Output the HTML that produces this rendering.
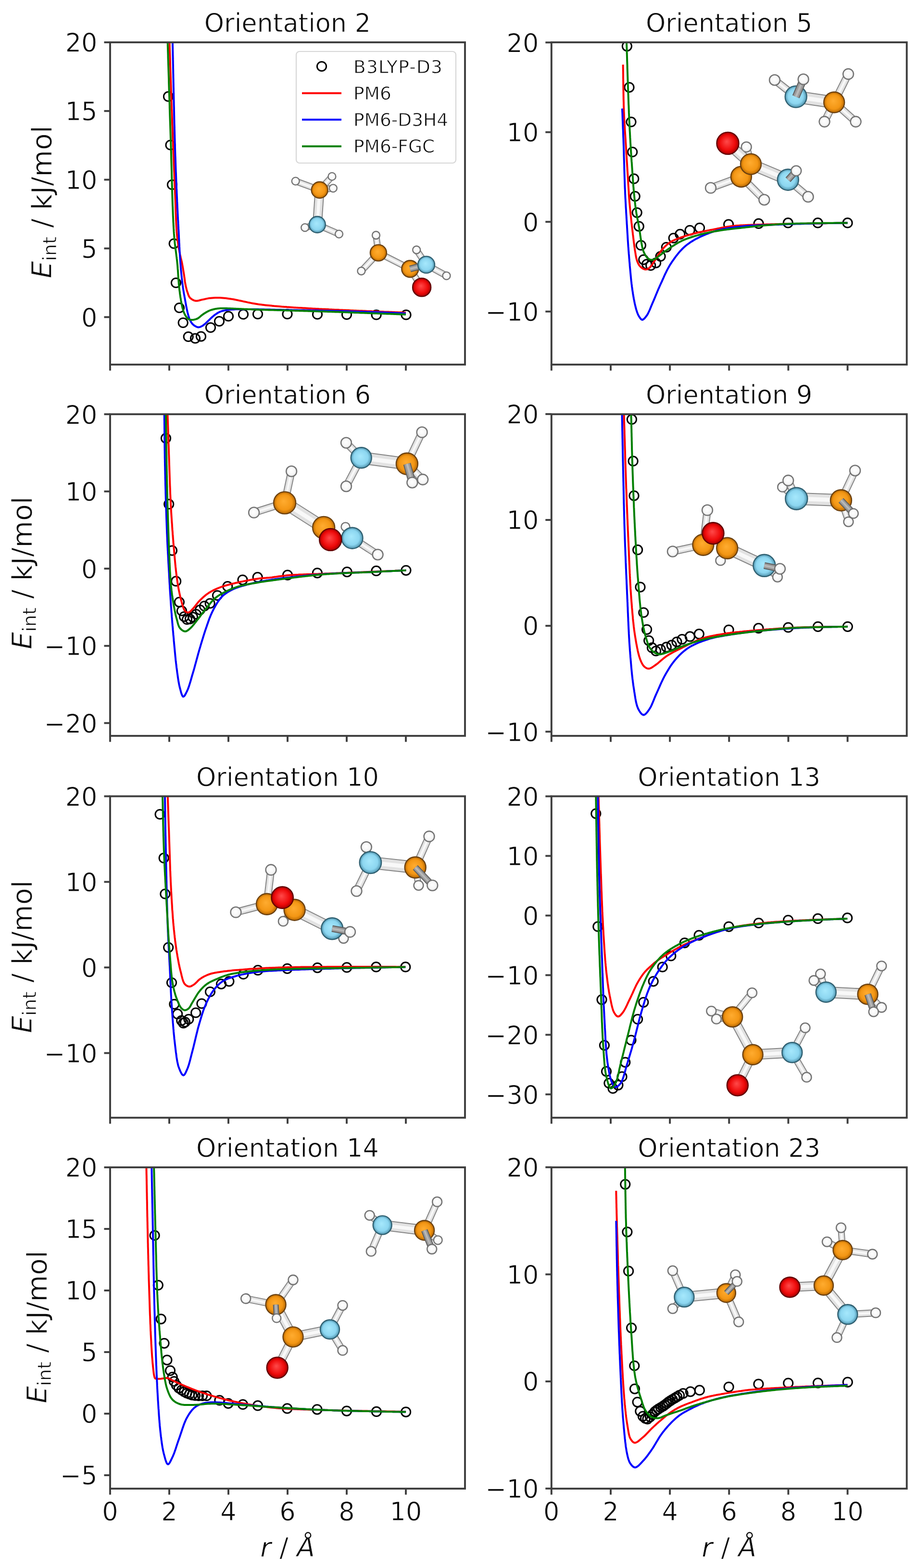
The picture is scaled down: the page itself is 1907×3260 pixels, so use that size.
<!DOCTYPE html>
<html><head><meta charset="utf-8"><style>
html,body{margin:0;padding:0;background:#fff;}
svg{display:block;}
.tx{font-family:"DejaVu Sans","Liberation Sans",sans-serif;font-size:52.5px;fill:#0a0a0a;stroke:#fff;stroke-width:0.9px;paint-order:fill;}
</style></head><body>
<svg width="1907" height="3260" viewBox="0 0 1907 3260">
<defs><radialGradient id="gC" cx="0.5" cy="0.5" r="0.5" fx="0.45" fy="0.42"><stop offset="0" stop-color="#ffac30"/><stop offset="0.7" stop-color="#f39614"/><stop offset="1" stop-color="#b86800"/></radialGradient><radialGradient id="gN" cx="0.5" cy="0.5" r="0.5" fx="0.45" fy="0.42"><stop offset="0" stop-color="#a6e8fc"/><stop offset="0.7" stop-color="#8cd6f0"/><stop offset="1" stop-color="#4f93ad"/></radialGradient><radialGradient id="gO" cx="0.5" cy="0.5" r="0.5" fx="0.45" fy="0.42"><stop offset="0" stop-color="#ff4a4a"/><stop offset="0.7" stop-color="#ee0a0a"/><stop offset="1" stop-color="#a80000"/></radialGradient><radialGradient id="gH" cx="0.5" cy="0.5" r="0.5" fx="0.45" fy="0.42"><stop offset="0" stop-color="#ffffff"/><stop offset="0.7" stop-color="#f6f6f6"/><stop offset="1" stop-color="#d4d4d4"/></radialGradient></defs><rect width="1907" height="3260" fill="#fff"/>
<clipPath id="cp0"><rect x="229" y="88" width="738" height="670"/></clipPath>
<g clip-path="url(#cp0)"><line x1="664.7" y1="395" x2="692.8" y2="391.3" stroke="#858585" stroke-width="14"/><line x1="664.7" y1="395" x2="692.8" y2="391.3" stroke="#e2e2e2" stroke-width="10"/><line x1="664.7" y1="395" x2="692.8" y2="391.3" stroke="#f8f8f8" stroke-width="4"/><circle cx="692.8" cy="391.3" r="8" fill="url(#gH)" stroke="#707070" stroke-width="2.3"/><line x1="664.7" y1="395" x2="690.4" y2="366.9" stroke="#858585" stroke-width="14"/><line x1="664.7" y1="395" x2="690.4" y2="366.9" stroke="#e2e2e2" stroke-width="10"/><line x1="664.7" y1="395" x2="690.4" y2="366.9" stroke="#f8f8f8" stroke-width="4"/><circle cx="690.4" cy="366.9" r="8" fill="url(#gH)" stroke="#707070" stroke-width="2.3"/><line x1="664.7" y1="395" x2="614.7" y2="376.6" stroke="#858585" stroke-width="14"/><line x1="664.7" y1="395" x2="614.7" y2="376.6" stroke="#e2e2e2" stroke-width="10"/><line x1="664.7" y1="395" x2="614.7" y2="376.6" stroke="#f8f8f8" stroke-width="4"/><circle cx="614.7" cy="376.6" r="8" fill="url(#gH)" stroke="#707070" stroke-width="2.3"/><line x1="664.7" y1="395" x2="659.8" y2="467" stroke="#858585" stroke-width="20"/><line x1="664.7" y1="395" x2="659.8" y2="467" stroke="#e2e2e2" stroke-width="16"/><line x1="664.7" y1="395" x2="659.8" y2="467" stroke="#f8f8f8" stroke-width="6.4"/><line x1="659.8" y1="467" x2="634.2" y2="473.1" stroke="#858585" stroke-width="14"/><line x1="659.8" y1="467" x2="634.2" y2="473.1" stroke="#e2e2e2" stroke-width="10"/><line x1="659.8" y1="467" x2="634.2" y2="473.1" stroke="#f8f8f8" stroke-width="4"/><circle cx="634.2" cy="473.1" r="8" fill="url(#gH)" stroke="#707070" stroke-width="2.3"/><circle cx="664.7" cy="395" r="17" fill="url(#gC)" stroke="#6a4010" stroke-width="2.4"/><line x1="659.8" y1="467" x2="705" y2="486.6" stroke="#858585" stroke-width="14"/><line x1="659.8" y1="467" x2="705" y2="486.6" stroke="#e2e2e2" stroke-width="10"/><line x1="659.8" y1="467" x2="705" y2="486.6" stroke="#f8f8f8" stroke-width="4"/><circle cx="705" cy="486.6" r="8" fill="url(#gH)" stroke="#707070" stroke-width="2.3"/><circle cx="659.8" cy="467" r="17" fill="url(#gN)" stroke="#2f5f70" stroke-width="2.4"/><line x1="786.9" y1="525.6" x2="782" y2="489" stroke="#858585" stroke-width="14"/><line x1="786.9" y1="525.6" x2="782" y2="489" stroke="#e2e2e2" stroke-width="10"/><line x1="786.9" y1="525.6" x2="782" y2="489" stroke="#f8f8f8" stroke-width="4"/><circle cx="782" cy="489" r="8" fill="url(#gH)" stroke="#707070" stroke-width="2.3"/><line x1="786.9" y1="525.6" x2="751.4" y2="563.5" stroke="#858585" stroke-width="14"/><line x1="786.9" y1="525.6" x2="751.4" y2="563.5" stroke="#e2e2e2" stroke-width="10"/><line x1="786.9" y1="525.6" x2="751.4" y2="563.5" stroke="#f8f8f8" stroke-width="4"/><circle cx="751.4" cy="563.5" r="8" fill="url(#gH)" stroke="#707070" stroke-width="2.3"/><line x1="786.9" y1="525.6" x2="852.8" y2="559" stroke="#858585" stroke-width="14"/><line x1="786.9" y1="525.6" x2="852.8" y2="559" stroke="#e2e2e2" stroke-width="10"/><line x1="786.9" y1="525.6" x2="852.8" y2="559" stroke="#f8f8f8" stroke-width="4"/><circle cx="786.9" cy="525.6" r="17" fill="url(#gC)" stroke="#6a4010" stroke-width="2.4"/><line x1="886.5" y1="550.4" x2="866.2" y2="519.5" stroke="#858585" stroke-width="14"/><line x1="886.5" y1="550.4" x2="866.2" y2="519.5" stroke="#e2e2e2" stroke-width="10"/><line x1="886.5" y1="550.4" x2="866.2" y2="519.5" stroke="#f8f8f8" stroke-width="4"/><circle cx="866.2" cy="519.5" r="8" fill="url(#gH)" stroke="#707070" stroke-width="2.3"/><line x1="886.5" y1="550.4" x2="928.5" y2="573.3" stroke="#858585" stroke-width="14"/><line x1="886.5" y1="550.4" x2="928.5" y2="573.3" stroke="#e2e2e2" stroke-width="10"/><line x1="886.5" y1="550.4" x2="928.5" y2="573.3" stroke="#f8f8f8" stroke-width="4"/><circle cx="928.5" cy="573.3" r="8" fill="url(#gH)" stroke="#707070" stroke-width="2.3"/><line x1="852.8" y1="559" x2="877.1" y2="597.4" stroke="#858585" stroke-width="14"/><line x1="852.8" y1="559" x2="877.1" y2="597.4" stroke="#e2e2e2" stroke-width="10"/><line x1="852.8" y1="559" x2="877.1" y2="597.4" stroke="#f8f8f8" stroke-width="4"/><circle cx="852.8" cy="559" r="17.5" fill="url(#gC)" stroke="#6a4010" stroke-width="2.4"/><line x1="852.8" y1="559" x2="886.5" y2="550.4" stroke="#5e5e5e" stroke-width="14"/><line x1="852.8" y1="559" x2="886.5" y2="550.4" stroke="#9a9a9a" stroke-width="10"/><line x1="852.8" y1="559" x2="886.5" y2="550.4" stroke="#b8b8b8" stroke-width="4"/><circle cx="886.5" cy="550.4" r="17.5" fill="url(#gN)" stroke="#2f5f70" stroke-width="2.4"/><circle cx="877.1" cy="597.4" r="19" fill="url(#gO)" stroke="#600000" stroke-width="2.4"/><g fill="none" stroke="#000" stroke-width="3.0"><circle cx="350" cy="200.7" r="9.6"/><circle cx="354.5" cy="301.5" r="9.6"/><circle cx="358" cy="384" r="9.6"/><circle cx="361.7" cy="506.5" r="9.6"/><circle cx="366" cy="588" r="9.6"/><circle cx="373" cy="640" r="9.6"/><circle cx="380.7" cy="671" r="9.6"/><circle cx="391.7" cy="700" r="9.6"/><circle cx="406" cy="703.5" r="9.6"/><circle cx="418" cy="699.5" r="9.6"/><circle cx="438" cy="681" r="9.6"/><circle cx="456" cy="668" r="9.6"/><circle cx="475" cy="657.5" r="9.6"/><circle cx="506" cy="653.5" r="9.6"/><circle cx="536" cy="653" r="9.6"/><circle cx="597.5" cy="653" r="9.6"/><circle cx="660" cy="653.5" r="9.6"/><circle cx="721" cy="654" r="9.6"/><circle cx="782.6" cy="654.5" r="9.6"/><circle cx="844.5" cy="654.5" r="9.6"/></g><path d="M352.5,88 352.6,91 352.7,94 352.8,97 352.9,100 353,103 353.1,106 353.2,109 353.3,112.1 353.4,115.1 353.5,118.1 353.6,121.1 353.7,124.1 353.8,127.1 353.9,130.2 354,133.2 354.1,136.2 354.2,139.2 354.3,142.2 354.4,145.3 354.5,148.3 354.6,151.3 354.7,154.3 354.8,157.3 354.9,160.3 355,163.4 355.1,166.4 355.2,169.4 355.3,172.4 355.4,175.4 355.5,178.4 355.6,181.4 355.7,184.4 355.8,187.5 355.9,190.5 356,193.5 356.1,196.5 356.2,199.5 356.3,202.5 356.4,205.5 356.5,208.4 356.6,211.4 356.7,214.4 356.8,217.4 356.9,220.4 357,223.4 357.1,226.3 357.3,229.3 357.4,232.3 357.5,235.2 357.6,238.2 357.7,241.2 357.8,244.1 357.9,247.1 358,250 358.1,253.1 358.2,256.1 358.3,259.2 358.5,262.3 358.6,265.4 358.7,268.5 358.8,271.6 358.9,274.8 359.1,277.9 359.2,281 359.3,284.2 359.4,287.3 359.5,290.4 359.7,293.6 359.8,296.7 359.9,299.8 360,303 360.2,306.1 360.3,309.2 360.4,312.4 360.5,315.5 360.6,318.6 360.8,321.7 360.9,324.8 361,327.9 361.1,331 361.3,334.1 361.4,337.1 361.5,340.2 361.6,343.2 361.8,346.2 361.9,349.2 362,352.2 362.1,355.2 362.3,358.2 362.4,361.1 362.5,364 362.6,366.9 362.7,369.8 362.9,372.7 363,375.5 363.1,378.4 363.2,381.2 363.3,383.9 363.4,386.7 363.6,389.4 363.7,392.1 363.8,394.8 363.9,397.4 364,400 364.1,403.4 364.3,406.8 364.4,410.2 364.5,413.5 364.7,416.9 364.8,420.2 364.9,423.6 365,426.8 365.1,430.1 365.2,433.4 365.3,436.6 365.4,439.8 365.5,442.9 365.7,446 365.8,449.1 365.9,452.1 366,455.1 366.1,458.1 366.3,461 366.4,463.9 366.5,466.7 366.7,469.4 366.8,472.1 367,474.7 367.1,477.3 367.3,479.8 367.5,482.3 367.7,484.7 367.9,487 368.2,490.6 368.6,494 369,497.2 369.4,500.3 369.8,503.2 370.2,506.1 370.6,508.9 371,511.6 371.5,514.4 372,517.2 372.5,520 373.1,523.3 373.8,526.6 374.5,529.8 375.3,533 376,536.2 376.8,539.4 377.5,542.5 378.2,545.5 378.8,548.5 379.4,551.7 380,554.8 380.5,557.9 381,560.9 381.5,563.9 382,566.9 382.5,570 383,573.2 383.4,576.4 383.9,579.6 384.3,582.8 384.7,586 385.2,589 385.8,592 386.5,595.4 387.3,598.8 388.1,602 389,605.1 390,608 391,611 392,613.9 393.3,616.6 395,619 397.4,621.2 400.3,623.1 403.5,624.6 406.7,625.5 410.1,625.5 413.7,624.8 417.4,623.8 421,622.9 424.5,622.2 428,621.4 431.5,620.6 435.2,620 438.2,619.7 441.2,619.4 444.4,619.2 447.6,619 450.9,619 454.3,619 457.3,619.1 460.2,619.3 463.3,619.5 466.3,619.8 469.5,620.1 472.8,620.5 476.3,621 480,621.5 482.5,621.9 485.1,622.3 487.8,622.8 490.7,623.4 493.6,624 496.5,624.6 499.6,625.2 502.7,625.9 505.8,626.6 508.9,627.3 512.1,627.9 515.2,628.6 518.4,629.2 521.5,629.9 524.6,630.5 527.6,631 530.6,631.5 533.5,632 536.7,632.5 539.8,632.9 542.9,633.3 546,633.7 549,634.1 552,634.4 555,634.7 558.1,635 561.1,635.3 564.2,635.6 567.2,635.9 570.4,636.2 573.5,636.4 576.7,636.7 580,637 582.8,637.2 585.7,637.5 588.6,637.7 591.5,637.9 594.5,638.1 597.4,638.4 600.4,638.6 603.4,638.8 606.5,639 609.5,639.2 612.6,639.4 615.6,639.6 618.7,639.7 621.8,639.9 624.8,640.1 627.9,640.3 630.9,640.5 634,640.6 637,640.8 640,641 643,641.2 646,641.3 648.9,641.5 651.9,641.7 654.8,641.8 657.7,642 660.7,642.1 663.6,642.3 666.5,642.4 669.5,642.6 672.4,642.7 675.4,642.8 678.4,643 681.4,643.1 684.4,643.3 687.4,643.4 690.5,643.6 693.7,643.7 696.8,643.9 700,644 702.9,644.1 705.8,644.3 708.8,644.4 711.8,644.5 714.8,644.7 717.9,644.8 720.9,645 724.1,645.1 727.2,645.2 730.3,645.4 733.5,645.5 736.7,645.7 739.8,645.8 743,645.9 746.2,646.1 749.4,646.2 752.5,646.3 755.7,646.5 758.8,646.6 761.9,646.7 765,646.9 768.1,647 771.1,647.1 774.1,647.3 777.1,647.4 780,647.5 783.2,647.6 786.4,647.8 789.5,647.9 792.6,648 795.7,648.1 798.8,648.3 801.9,648.4 804.9,648.5 807.9,648.6 810.9,648.7 813.9,648.8 816.9,649 819.9,649.1 822.9,649.2 825.9,649.3 828.9,649.4 831.9,649.5 834.9,649.6 837.9,649.8 841,649.9 844,650" fill="none" stroke="#ff0000" stroke-width="4.0" stroke-linejoin="round"/><path d="M358.9,88 359,91 359,94.1 359.1,97.1 359.2,100.2 359.2,103.2 359.3,106.3 359.4,109.4 359.4,112.5 359.5,115.6 359.6,118.7 359.6,121.9 359.7,125 359.8,128.1 359.8,131.3 359.9,134.4 360,137.6 360,140.7 360.1,143.9 360.2,147 360.2,150.2 360.3,153.4 360.4,156.5 360.4,159.7 360.5,162.9 360.6,166 360.6,169.2 360.7,172.4 360.8,175.5 360.8,178.7 360.9,181.8 361,185 361,188.1 361.1,191.2 361.2,194.4 361.2,197.5 361.3,200.6 361.4,203.7 361.4,206.8 361.5,209.9 361.6,213 361.6,216 361.7,219.1 361.8,222.1 361.9,225.2 361.9,228.2 362,231.2 362.1,234.2 362.1,237.2 362.2,240.1 362.3,243.1 362.3,246 362.4,248.9 362.5,251.8 362.5,254.6 362.6,257.5 362.7,260.3 362.8,263.1 362.8,265.9 362.9,268.7 363,271.4 363.1,274.2 363.1,276.9 363.2,279.5 363.3,282.2 363.3,284.8 363.4,287.4 363.5,290 363.6,293.5 363.7,297 363.8,300.4 363.9,303.8 364,307.1 364.1,310.4 364.2,313.7 364.3,316.9 364.4,320.1 364.5,323.3 364.7,326.5 364.8,329.6 364.9,332.7 365,335.8 365.1,338.8 365.2,341.9 365.3,344.9 365.4,347.9 365.5,350.9 365.6,353.8 365.7,356.8 365.9,359.7 366,362.6 366.1,365.5 366.2,368.4 366.3,371.3 366.4,374.2 366.5,377.1 366.7,379.9 366.8,382.8 366.9,385.7 367,388.5 367.1,391.4 367.3,394.3 367.4,397.1 367.5,400 367.6,403.2 367.8,406.3 367.9,409.5 368.1,412.6 368.2,415.8 368.3,418.9 368.5,422 368.6,425.2 368.8,428.3 368.9,431.3 369.1,434.4 369.2,437.5 369.4,440.5 369.5,443.6 369.7,446.6 369.8,449.6 370,452.6 370.1,455.6 370.3,458.5 370.5,461.5 370.6,464.4 370.8,467.3 370.9,470.2 371.1,473 371.2,475.9 371.4,478.7 371.5,481.5 371.7,484.2 371.8,487 372,490.3 372.1,493.6 372.3,496.9 372.5,500.2 372.6,503.4 372.8,506.6 373,509.7 373.1,512.9 373.3,516 373.4,519.1 373.6,522.1 373.8,525.2 373.9,528.2 374.1,531.2 374.3,534.1 374.5,537.1 374.7,540 374.9,542.8 375.1,545.7 375.3,548.5 375.6,551.9 375.8,555.2 376.1,558.5 376.4,561.7 376.7,564.9 377,568.1 377.3,571.2 377.6,574.3 377.9,577.3 378.3,580.3 378.6,583.3 379,586.2 379.3,589.1 379.7,592 380.2,595.3 380.6,598.5 381.1,601.7 381.6,604.8 382.1,607.9 382.6,610.9 383.2,613.9 383.7,616.9 384.3,619.9 384.8,622.9 385.4,626.2 386,629.5 386.6,632.9 387.2,636.2 387.9,639.5 388.5,642.7 389.2,645.8 389.8,648.7 390.5,651.4 391.4,654.7 392.2,657.7 393.1,660.5 394.1,663.2 395.2,665.7 397.1,669.2 399.3,672.5 401.9,675.2 405.1,677.6 408.7,679.6 412.4,680.5 416,679.9 419.6,678.2 422.9,676.2 425.5,674.2 427.9,672 430.5,669.5 432.6,667.5 434.9,665.3 437.3,662.9 439.8,660.5 442.3,658.2 444.8,656.2 447.5,654.2 450.2,652.3 453,650.5 455.9,648.9 459,647.6 461.7,646.7 464.4,646 467.3,645.4 470.2,644.9 473.3,644.5 476.6,644.1 480,643.8 482.6,643.6 485.3,643.4 488.1,643.2 490.9,643.1 493.8,643.1 496.8,643 499.9,643 503,643 506.3,643 509.6,643 513,643 516.4,643 520,643 522.6,643 525.2,643 527.9,643 530.7,643.1 533.5,643.1 536.4,643.1 539.3,643.2 542.3,643.2 545.3,643.3 548.4,643.3 551.5,643.4 554.6,643.5 557.7,643.5 560.9,643.6 564.1,643.7 567.3,643.8 570.6,643.8 573.8,643.9 577.1,644 580.4,644.1 583.6,644.1 586.9,644.2 590.2,644.3 593.5,644.4 596.7,644.4 600,644.5 602.9,644.6 605.8,644.6 608.7,644.7 611.7,644.7 614.7,644.8 617.7,644.8 620.7,644.9 623.7,644.9 626.8,645 629.8,645.1 632.9,645.1 636,645.2 639.1,645.2 642.2,645.3 645.3,645.3 648.4,645.4 651.6,645.5 654.7,645.5 657.8,645.6 660.9,645.6 664,645.7 667.1,645.8 670.2,645.8 673.2,645.9 676.3,645.9 679.3,646 682.3,646.1 685.3,646.1 688.3,646.2 691.3,646.3 694.2,646.4 697.1,646.4 700,646.5 703.2,646.6 706.5,646.7 709.7,646.8 712.9,646.8 716.1,646.9 719.3,647 722.4,647.1 725.6,647.2 728.7,647.3 731.8,647.4 734.9,647.5 738,647.6 741.1,647.7 744.2,647.8 747.2,647.9 750.3,648 753.3,648.1 756.3,648.2 759.3,648.3 762.3,648.4 765.3,648.5 768.3,648.6 771.2,648.7 774.2,648.8 777.1,648.9 780,649 783.2,649.1 786.4,649.2 789.5,649.3 792.6,649.5 795.7,649.6 798.8,649.7 801.9,649.8 804.9,649.9 807.9,650.1 810.9,650.2 813.9,650.3 816.9,650.4 819.9,650.5 822.9,650.7 825.9,650.8 828.9,650.9 831.9,651 834.9,651.1 837.9,651.3 841,651.4 844,651.5" fill="none" stroke="#0000ff" stroke-width="4.0" stroke-linejoin="round"/><path d="M348.6,88 348.7,91 348.8,94 348.9,97 349,100.1 349.1,103.1 349.2,106.1 349.3,109.1 349.4,112.1 349.5,115.2 349.5,118.2 349.6,121.2 349.7,124.2 349.8,127.2 349.9,130.2 350,133.3 350.1,136.3 350.2,139.3 350.3,142.3 350.4,145.3 350.5,148.4 350.6,151.4 350.7,154.4 350.8,157.4 350.9,160.4 351,163.5 351.1,166.5 351.1,169.5 351.2,172.5 351.3,175.5 351.4,178.6 351.5,181.6 351.6,184.6 351.7,187.6 351.8,190.6 351.9,193.7 352,196.7 352.1,199.7 352.2,202.7 352.3,205.7 352.4,208.7 352.5,211.8 352.6,214.8 352.7,217.8 352.8,220.8 352.8,223.8 352.9,226.8 353,229.9 353.1,232.9 353.2,235.9 353.3,238.9 353.4,241.9 353.5,244.9 353.6,247.9 353.7,250.9 353.8,253.9 353.9,257 354,260 354.1,263 354.2,266 354.3,269 354.4,272 354.5,275 354.6,278 354.7,281 354.8,284 354.9,287 355,290 355.1,293 355.2,296.1 355.3,299.2 355.4,302.3 355.5,305.4 355.6,308.5 355.7,311.7 355.8,314.8 355.9,318 356,321.2 356.1,324.5 356.1,327.7 356.2,331 356.3,334.2 356.4,337.5 356.5,340.7 356.6,344 356.7,347.3 356.8,350.6 356.9,353.9 357,357.2 357,360.5 357.1,363.8 357.2,367.1 357.3,370.4 357.4,373.6 357.5,376.9 357.6,380.2 357.7,383.5 357.8,386.7 357.9,390 358,393.2 358,396.4 358.1,399.7 358.2,402.8 358.3,406 358.4,409.2 358.5,412.3 358.6,415.5 358.7,418.6 358.8,421.6 358.9,424.7 359,427.7 359.2,430.7 359.3,433.7 359.4,436.7 359.5,439.6 359.6,442.5 359.7,445.4 359.8,448.2 359.9,451 360.1,453.7 360.2,456.5 360.3,459.2 360.4,461.8 360.6,464.4 360.7,467 360.8,469.5 361,472 361.1,474.4 361.3,476.8 361.4,479.1 361.5,481.4 361.7,483.7 361.8,485.9 362,488 362.3,491.9 362.6,495.7 363,499.2 363.3,502.7 363.6,506 364,509.1 364.4,512.2 364.7,515.2 365.1,518.1 365.5,521 365.9,523.8 366.2,526.6 366.6,529.4 366.9,532.2 367.3,535 367.6,537.8 368,540.7 368.3,543.7 368.6,546.7 368.9,549.7 369.2,552.8 369.4,555.9 369.6,559 369.9,562.1 370.1,565.2 370.3,568.3 370.5,571.4 370.7,574.5 370.9,577.6 371.1,580.6 371.4,583.7 371.6,586.7 371.8,589.6 372.1,592.6 372.4,595.5 372.7,598.3 373,601.1 373.3,603.8 373.8,607.3 374.2,610.8 374.7,614.3 375.2,617.8 375.8,621.2 376.3,624.5 376.9,627.8 377.5,630.9 378.1,633.9 378.7,636.7 379.3,639.4 380,641.9 381,645.3 382.1,648.4 383.2,651.2 384.4,653.8 385.7,656.2 387.6,659.1 389.7,661.6 392,663.5 395.3,664.7 399,665 402.7,664.7 406.7,663.9 410.5,662.5 413.2,660.8 415.7,658.7 418.3,656.4 421,654.3 423.6,652.5 426.4,650.7 429.2,649 432.1,647.4 435,646 437.8,644.9 440.7,644 443.6,643.2 446.5,642.5 449.5,642 452.5,641.6 455.6,641.3 458.7,641.1 461.8,641.1 465,641 468.2,641 471.3,641.1 474.5,641.2 478,641.3 482,641.5 484.3,641.6 486.8,641.7 489.4,641.8 492.1,641.9 494.9,642 497.8,642.2 500.8,642.3 503.9,642.4 507.1,642.6 510.3,642.7 513.5,642.8 516.8,643 520.1,643.1 523.4,643.3 526.7,643.4 530,643.5 532.8,643.6 535.6,643.7 538.4,643.8 541.2,643.9 544.1,644 547,644 549.9,644.1 552.9,644.2 555.9,644.3 558.9,644.4 561.9,644.5 564.9,644.5 568,644.6 571.1,644.7 574.2,644.8 577.4,644.9 580.5,645 583.7,645 586.9,645.1 590.2,645.2 593.4,645.3 596.7,645.4 600,645.5 602.8,645.6 605.6,645.7 608.5,645.7 611.4,645.8 614.3,645.9 617.3,646 620.2,646.1 623.3,646.2 626.3,646.3 629.4,646.3 632.4,646.4 635.5,646.5 638.6,646.6 641.8,646.7 644.9,646.8 648,646.9 651.2,647 654.3,647.1 657.4,647.2 660.6,647.3 663.7,647.4 666.8,647.4 669.9,647.5 673.1,647.6 676.1,647.7 679.2,647.8 682.3,647.9 685.3,648 688.3,648.1 691.3,648.2 694.2,648.3 697.1,648.4 700,648.5 703.2,648.6 706.5,648.7 709.7,648.8 712.9,648.9 716.1,649.1 719.3,649.2 722.4,649.3 725.6,649.4 728.7,649.5 731.8,649.7 734.9,649.8 738,649.9 741.1,650 744.2,650.1 747.2,650.2 750.3,650.4 753.3,650.5 756.3,650.6 759.3,650.7 762.3,650.8 765.3,650.9 768.3,651.1 771.2,651.2 774.2,651.3 777.1,651.4 780,651.5 783.2,651.6 786.4,651.7 789.5,651.8 792.6,652 795.7,652.1 798.8,652.2 801.9,652.3 804.9,652.4 807.9,652.5 810.9,652.6 813.9,652.7 816.9,652.8 819.9,652.9 822.9,653 825.9,653.2 828.9,653.3 831.9,653.4 834.9,653.5 837.9,653.6 841,653.7 844,653.8" fill="none" stroke="#008000" stroke-width="4.0" stroke-linejoin="round"/></g>
<clipPath id="cp1"><rect x="1146.8" y="88" width="738.9" height="670"/></clipPath>
<g clip-path="url(#cp1)"><line x1="1655.2" y1="201.1" x2="1611" y2="166.4" stroke="#858585" stroke-width="16"/><line x1="1655.2" y1="201.1" x2="1611" y2="166.4" stroke="#e2e2e2" stroke-width="12"/><line x1="1655.2" y1="201.1" x2="1611" y2="166.4" stroke="#f8f8f8" stroke-width="4.8"/><circle cx="1611" cy="166.4" r="11" fill="url(#gH)" stroke="#707070" stroke-width="2.3"/><line x1="1734.7" y1="212.8" x2="1714.6" y2="253" stroke="#858585" stroke-width="16"/><line x1="1734.7" y1="212.8" x2="1714.6" y2="253" stroke="#e2e2e2" stroke-width="12"/><line x1="1734.7" y1="212.8" x2="1714.6" y2="253" stroke="#f8f8f8" stroke-width="4.8"/><circle cx="1714.6" cy="253" r="11" fill="url(#gH)" stroke="#707070" stroke-width="2.3"/><line x1="1655.2" y1="201.1" x2="1734.7" y2="212.8" stroke="#858585" stroke-width="26"/><line x1="1655.2" y1="201.1" x2="1734.7" y2="212.8" stroke="#e2e2e2" stroke-width="22"/><line x1="1655.2" y1="201.1" x2="1734.7" y2="212.8" stroke="#f8f8f8" stroke-width="8.8"/><circle cx="1655.2" cy="201.1" r="22.5" fill="url(#gN)" stroke="#2f5f70" stroke-width="2.4"/><line x1="1655.2" y1="201.1" x2="1670.7" y2="164.9" stroke="#5e5e5e" stroke-width="16"/><line x1="1655.2" y1="201.1" x2="1670.7" y2="164.9" stroke="#9a9a9a" stroke-width="12"/><line x1="1655.2" y1="201.1" x2="1670.7" y2="164.9" stroke="#b8b8b8" stroke-width="4.8"/><circle cx="1670.7" cy="164.9" r="11" fill="url(#gH)" stroke="#707070" stroke-width="2.3"/><line x1="1734.7" y1="212.8" x2="1764.1" y2="154" stroke="#858585" stroke-width="16"/><line x1="1734.7" y1="212.8" x2="1764.1" y2="154" stroke="#e2e2e2" stroke-width="12"/><line x1="1734.7" y1="212.8" x2="1764.1" y2="154" stroke="#f8f8f8" stroke-width="4.8"/><circle cx="1764.1" cy="154" r="11" fill="url(#gH)" stroke="#707070" stroke-width="2.3"/><line x1="1734.7" y1="212.8" x2="1779.6" y2="253" stroke="#858585" stroke-width="16"/><line x1="1734.7" y1="212.8" x2="1779.6" y2="253" stroke="#e2e2e2" stroke-width="12"/><line x1="1734.7" y1="212.8" x2="1779.6" y2="253" stroke="#f8f8f8" stroke-width="4.8"/><circle cx="1779.6" cy="253" r="11" fill="url(#gH)" stroke="#707070" stroke-width="2.3"/><circle cx="1734.7" cy="212.8" r="21.5" fill="url(#gC)" stroke="#6a4010" stroke-width="2.4"/><line x1="1561.5" y1="341.2" x2="1552.2" y2="305.6" stroke="#858585" stroke-width="16"/><line x1="1561.5" y1="341.2" x2="1552.2" y2="305.6" stroke="#e2e2e2" stroke-width="12"/><line x1="1561.5" y1="341.2" x2="1552.2" y2="305.6" stroke="#f8f8f8" stroke-width="4.8"/><circle cx="1552.2" cy="305.6" r="10.5" fill="url(#gH)" stroke="#707070" stroke-width="2.3"/><line x1="1513.5" y1="297.9" x2="1561.5" y2="341.2" stroke="#858585" stroke-width="22"/><line x1="1513.5" y1="297.9" x2="1561.5" y2="341.2" stroke="#e2e2e2" stroke-width="18"/><line x1="1513.5" y1="297.9" x2="1561.5" y2="341.2" stroke="#f8f8f8" stroke-width="7.2"/><circle cx="1513.5" cy="297.9" r="23" fill="url(#gO)" stroke="#600000" stroke-width="2.4"/><line x1="1541.4" y1="367.5" x2="1478" y2="390.7" stroke="#858585" stroke-width="16"/><line x1="1541.4" y1="367.5" x2="1478" y2="390.7" stroke="#e2e2e2" stroke-width="12"/><line x1="1541.4" y1="367.5" x2="1478" y2="390.7" stroke="#f8f8f8" stroke-width="4.8"/><circle cx="1478" cy="390.7" r="11" fill="url(#gH)" stroke="#707070" stroke-width="2.3"/><line x1="1541.4" y1="367.5" x2="1589.3" y2="415.4" stroke="#858585" stroke-width="16"/><line x1="1541.4" y1="367.5" x2="1589.3" y2="415.4" stroke="#e2e2e2" stroke-width="12"/><line x1="1541.4" y1="367.5" x2="1589.3" y2="415.4" stroke="#f8f8f8" stroke-width="4.8"/><circle cx="1589.3" cy="415.4" r="11" fill="url(#gH)" stroke="#707070" stroke-width="2.3"/><circle cx="1541.4" cy="367.5" r="21.5" fill="url(#gC)" stroke="#6a4010" stroke-width="2.4"/><line x1="1561.5" y1="341.2" x2="1638.8" y2="373.7" stroke="#858585" stroke-width="24"/><line x1="1561.5" y1="341.2" x2="1638.8" y2="373.7" stroke="#e2e2e2" stroke-width="20"/><line x1="1561.5" y1="341.2" x2="1638.8" y2="373.7" stroke="#f8f8f8" stroke-width="8"/><circle cx="1561.5" cy="341.2" r="21.5" fill="url(#gC)" stroke="#6a4010" stroke-width="2.4"/><line x1="1638.8" y1="373.7" x2="1680.6" y2="409.2" stroke="#858585" stroke-width="16"/><line x1="1638.8" y1="373.7" x2="1680.6" y2="409.2" stroke="#e2e2e2" stroke-width="12"/><line x1="1638.8" y1="373.7" x2="1680.6" y2="409.2" stroke="#f8f8f8" stroke-width="4.8"/><circle cx="1680.6" cy="409.2" r="11" fill="url(#gH)" stroke="#707070" stroke-width="2.3"/><circle cx="1638.8" cy="373.7" r="22" fill="url(#gN)" stroke="#2f5f70" stroke-width="2.4"/><line x1="1638.8" y1="373.7" x2="1655.8" y2="355.1" stroke="#5e5e5e" stroke-width="14"/><line x1="1638.8" y1="373.7" x2="1655.8" y2="355.1" stroke="#9a9a9a" stroke-width="10"/><line x1="1638.8" y1="373.7" x2="1655.8" y2="355.1" stroke="#b8b8b8" stroke-width="4"/><circle cx="1655.8" cy="355.1" r="10.5" fill="url(#gH)" stroke="#707070" stroke-width="2.3"/><g fill="none" stroke="#000" stroke-width="3.0"><circle cx="1303.9" cy="96.1" r="9.6"/><circle cx="1308.5" cy="181.6" r="9.6"/><circle cx="1312.5" cy="253.5" r="9.6"/><circle cx="1315.2" cy="316" r="9.6"/><circle cx="1318.3" cy="371.7" r="9.6"/><circle cx="1320.7" cy="408.2" r="9.6"/><circle cx="1324.7" cy="442.1" r="9.6"/><circle cx="1328.8" cy="470.6" r="9.6"/><circle cx="1332.9" cy="510" r="9.6"/><circle cx="1338.3" cy="539.8" r="9.6"/><circle cx="1345.1" cy="549.3" r="9.6"/><circle cx="1353.2" cy="552" r="9.6"/><circle cx="1364.1" cy="546.6" r="9.6"/><circle cx="1373.6" cy="533" r="9.6"/><circle cx="1385.8" cy="514" r="9.6"/><circle cx="1400.7" cy="495" r="9.6"/><circle cx="1414.3" cy="486.9" r="9.6"/><circle cx="1434.6" cy="478.8" r="9.6"/><circle cx="1455" cy="473.8" r="9.6"/><circle cx="1515.1" cy="466.5" r="9.6"/><circle cx="1577.6" cy="464.9" r="9.6"/><circle cx="1638.8" cy="463.4" r="9.6"/><circle cx="1700.7" cy="463.4" r="9.6"/><circle cx="1762.6" cy="463.4" r="9.6"/></g><path d="M1295.6,134.4 1295.7,137.4 1295.7,140.5 1295.8,143.5 1295.8,146.6 1295.9,149.7 1295.9,152.7 1296,155.8 1296,158.9 1296,162 1296.1,165.1 1296.1,168.2 1296.2,171.3 1296.2,174.4 1296.3,177.5 1296.3,180.6 1296.4,183.7 1296.4,186.8 1296.5,189.9 1296.5,192.9 1296.6,196 1296.6,199 1296.7,202 1296.7,205 1296.8,208 1296.9,211 1297,213.9 1297,216.8 1297.1,219.7 1297.2,222.6 1297.3,225.4 1297.4,228.2 1297.5,231 1297.6,234.2 1297.8,237.4 1297.9,240.6 1298.1,243.7 1298.2,246.8 1298.4,249.9 1298.6,252.9 1298.7,255.9 1298.9,258.9 1299.1,261.9 1299.3,264.9 1299.4,267.8 1299.6,270.8 1299.8,273.7 1300,276.6 1300.2,279.5 1300.4,282.4 1300.6,285.4 1300.8,288.3 1301,291.2 1301.1,294.1 1301.3,297.1 1301.5,300 1301.7,303.1 1301.9,306.3 1302.1,309.4 1302.3,312.6 1302.4,315.7 1302.6,318.9 1302.8,322 1303,325.1 1303.2,328.3 1303.4,331.4 1303.6,334.5 1303.8,337.6 1304,340.7 1304.2,343.8 1304.4,346.9 1304.6,349.9 1304.7,353 1304.9,356 1305.1,359 1305.3,362 1305.5,365 1305.7,368.2 1305.9,371.4 1306.1,374.5 1306.3,377.7 1306.4,380.9 1306.6,384 1306.8,387.1 1307,390.2 1307.2,393.3 1307.4,396.4 1307.6,399.5 1307.7,402.5 1307.9,405.5 1308.1,408.5 1308.3,411.4 1308.6,414.3 1308.8,417.2 1309,420 1309.3,423.3 1309.6,426.6 1309.9,429.8 1310.2,433 1310.5,436.1 1310.8,439.2 1311.1,442.3 1311.4,445.3 1311.7,448.3 1312.1,451.3 1312.4,454.2 1312.7,457.1 1313,460 1313.3,463.2 1313.7,466.3 1314,469.3 1314.4,472.3 1314.7,475.2 1315.1,478.1 1315.4,481.1 1315.8,484 1316.1,487 1316.5,490 1316.9,493.2 1317.3,496.6 1317.7,499.9 1318.1,503.3 1318.6,506.7 1319,510.1 1319.4,513.4 1319.9,516.5 1320.3,519.6 1320.8,522.5 1321.4,526 1321.9,529.4 1322.5,532.7 1323.1,535.8 1323.8,538.7 1324.6,541.5 1325.8,544.7 1327.1,547.7 1328.6,550.5 1330.3,552.9 1333.5,556.1 1337,558.5 1339.8,559.8 1342.7,560.4 1345.6,559.9 1348.4,558.5 1351.3,556.1 1354.1,552.9 1356.4,549.9 1358.6,546.5 1360.7,543.3 1363.2,539.5 1365.5,535.8 1367,533.3 1368.5,530.8 1370.2,528.1 1371.8,525.8 1373.6,523.3 1375.5,520.8 1377.5,518.2 1379.7,515.8 1381.8,513.6 1384,511.5 1386.4,509.3 1388.8,507.3 1391.4,505.3 1394,503.5 1396.9,501.8 1399.8,500.3 1402.9,498.9 1406.1,497.5 1409.5,496.2 1413,494.9 1415.6,493.9 1418.3,493 1421.1,492.1 1424,491.1 1426.9,490.2 1429.9,489.3 1433,488.4 1436.1,487.5 1439.2,486.7 1442.4,485.8 1445.5,485 1448.5,484.3 1451.5,483.5 1454.6,482.8 1457.7,482.1 1460.9,481.5 1464.1,480.8 1467.3,480.2 1470.5,479.5 1473.7,478.9 1476.8,478.3 1480,477.7 1483.1,477.1 1486.2,476.5 1489.3,475.9 1492.2,475.3 1495.1,474.7 1497.9,474.1 1500.7,473.5 1503.5,473 1506.4,472.4 1509.4,471.9 1512.5,471.4 1515.7,470.9 1519.2,470.4 1522.8,470 1525.2,469.8 1527.6,469.5 1530.1,469.3 1532.7,469.1 1535.4,468.9 1538.2,468.7 1541,468.5 1543.9,468.4 1546.8,468.2 1549.8,468.1 1552.9,467.9 1556,467.8 1559.1,467.7 1562.2,467.5 1565.4,467.4 1568.6,467.3 1571.8,467.2 1575.1,467.1 1578.3,467 1581.5,466.9 1584.8,466.8 1588,466.7 1591.2,466.7 1594.4,466.6 1597.6,466.5 1600.8,466.4 1603.9,466.3 1607,466.3 1610,466.2 1613,466.1 1616,466 1619.1,465.9 1622.2,465.8 1625.2,465.7 1628.3,465.7 1631.4,465.6 1634.5,465.5 1637.6,465.5 1640.7,465.4 1643.8,465.3 1646.8,465.3 1649.9,465.2 1652.9,465.2 1656,465.1 1659,465.1 1662.1,465 1665.1,465 1668.1,465 1671.1,464.9 1674.1,464.9 1677,464.8 1680,464.8 1682.9,464.8 1685.8,464.7 1688.7,464.7 1691.5,464.6 1694.4,464.6 1697.2,464.5 1700,464.5 1703.3,464.4 1706.6,464.4 1709.9,464.3 1713.1,464.3 1716.3,464.2 1719.5,464.2 1722.6,464.1 1725.7,464.1 1728.8,464 1731.9,464 1734.9,463.9 1738,463.9 1741.1,463.8 1744.1,463.8 1747.2,463.7 1750.2,463.7 1753.3,463.6 1756.4,463.6 1759.5,463.5 1762.6,463.5" fill="none" stroke="#ff0000" stroke-width="4.0" stroke-linejoin="round"/><path d="M1293.9,225.6 1294,228.6 1294.1,231.6 1294.3,234.5 1294.4,237.5 1294.5,240.4 1294.6,243.4 1294.7,246.3 1294.8,249.2 1295,252.1 1295.1,255 1295.2,258 1295.3,260.9 1295.4,263.9 1295.5,266.8 1295.7,269.8 1295.8,272.8 1295.9,275.8 1296,278.9 1296.1,281.9 1296.2,285 1296.4,288.2 1296.5,291.3 1296.6,294.6 1296.7,297.8 1296.8,300.6 1296.9,303.4 1297,306.2 1297.1,309.1 1297.2,312 1297.3,315 1297.4,318 1297.4,321 1297.5,324 1297.6,327 1297.7,330.1 1297.8,333.2 1297.9,336.3 1298,339.4 1298.1,342.5 1298.2,345.7 1298.2,348.8 1298.3,351.9 1298.4,355 1298.5,358.2 1298.6,361.3 1298.7,364.4 1298.8,367.5 1298.9,370.6 1299,373.6 1299.1,376.7 1299.2,379.7 1299.3,382.7 1299.4,385.7 1299.5,388.6 1299.6,391.5 1299.8,394.4 1299.9,397.2 1300,400 1300.1,403.2 1300.3,406.4 1300.4,409.6 1300.6,412.8 1300.8,416 1300.9,419.2 1301.1,422.3 1301.3,425.5 1301.4,428.6 1301.6,431.7 1301.8,434.7 1302,437.8 1302.1,440.8 1302.3,443.8 1302.5,446.8 1302.7,449.7 1302.8,452.7 1303,455.6 1303.2,458.4 1303.4,461.3 1303.5,464.1 1303.7,466.9 1303.9,469.6 1304,472.3 1304.2,475 1304.4,478.5 1304.6,481.8 1304.8,485 1305,488.1 1305.2,491.2 1305.3,494.2 1305.5,497.2 1305.7,500.1 1305.9,503.1 1306.1,506.1 1306.3,509.2 1306.5,512.4 1306.8,515.6 1307,519 1307.3,522.5 1307.5,525.2 1307.7,527.9 1308,530.7 1308.2,533.6 1308.4,536.6 1308.7,539.6 1308.9,542.7 1309.2,545.8 1309.5,549 1309.7,552.2 1310,555.4 1310.3,558.6 1310.6,561.8 1310.9,565.1 1311.2,568.3 1311.5,571.5 1311.8,574.7 1312.1,577.9 1312.4,581 1312.7,584 1313.1,587.1 1313.4,590 1313.8,592.9 1314.1,595.7 1314.5,598.4 1314.8,601.1 1315.2,603.6 1315.8,607.3 1316.3,610.9 1316.9,614.4 1317.5,617.9 1318.1,621.3 1318.8,624.6 1319.4,627.8 1320,630.9 1320.7,633.9 1321.4,636.7 1322,639.4 1322.7,641.9 1323.4,644.3 1324.7,648.4 1326,652 1327.4,655.1 1329,658 1331,661.1 1333.2,663.8 1335.5,665 1337.8,664.2 1340.2,662.1 1342.6,659.2 1345,656 1346.5,653.8 1347.9,651.2 1349.2,648.5 1350.6,645.5 1351.9,642.4 1353.2,639.2 1354.5,636 1355.9,632.7 1357.3,629.4 1358.5,626.7 1359.7,623.9 1360.9,621.1 1362.1,618.2 1363.3,615.2 1364.5,612.3 1365.8,609.3 1367,606.2 1368.3,603.2 1369.6,600.1 1371,597.1 1372.3,594 1373.7,591 1374.9,588.3 1376.2,585.6 1377.4,582.9 1378.6,580.1 1379.9,577.3 1381.1,574.5 1382.4,571.7 1383.7,568.9 1385.1,566.1 1386.4,563.3 1387.8,560.6 1389.3,557.9 1390.8,555.2 1392.3,552.5 1393.9,549.9 1395.6,547.3 1397.3,544.7 1399.1,542.1 1400.9,539.6 1402.7,537 1404.6,534.4 1406.4,531.9 1408.4,529.4 1410.4,527 1412.4,524.5 1414.5,522.2 1416.7,519.8 1418.9,517.5 1421.2,515.3 1423.5,513.1 1426,511 1428.5,509 1430.8,507.3 1433.2,505.6 1435.6,503.9 1438.1,502.3 1440.7,500.7 1443.4,499.1 1446.1,497.6 1448.8,496.1 1451.6,494.7 1454.4,493.3 1457.2,491.9 1460.1,490.6 1463,489.3 1465.9,488.1 1468.8,486.9 1471.7,485.8 1474.6,484.7 1477.5,483.6 1480.4,482.6 1483.2,481.6 1486.1,480.7 1489,479.8 1491.9,479 1494.8,478.2 1497.7,477.5 1500.6,476.9 1503.5,476.2 1506.4,475.7 1509.4,475.2 1512.3,474.7 1515.3,474.2 1518.3,473.7 1521.3,473.3 1524.3,472.9 1527.4,472.5 1530.5,472.1 1533.6,471.8 1536.8,471.4 1540,471 1542.8,470.7 1545.7,470.4 1548.6,470.1 1551.5,469.9 1554.4,469.6 1557.4,469.4 1560.3,469.2 1563.3,469 1566.3,468.9 1569.4,468.7 1572.4,468.6 1575.5,468.4 1578.6,468.3 1581.7,468.2 1584.8,468.1 1587.9,468 1591,467.9 1594.1,467.8 1597.2,467.7 1600.4,467.6 1603.5,467.5 1606.6,467.4 1609.8,467.2 1612.9,467.1 1616,467 1618.9,466.9 1621.9,466.8 1624.9,466.7 1627.9,466.5 1630.9,466.4 1633.9,466.3 1637,466.2 1640.1,466.1 1643.1,466 1646.2,465.9 1649.3,465.8 1652.3,465.7 1655.4,465.6 1658.5,465.6 1661.6,465.5 1664.6,465.4 1667.7,465.3 1670.7,465.2 1673.8,465.1 1676.8,465.1 1679.8,465 1682.7,464.9 1685.7,464.8 1688.6,464.8 1691.5,464.7 1694.4,464.6 1697.2,464.6 1700,464.5 1703.3,464.4 1706.6,464.4 1709.9,464.3 1713.1,464.2 1716.3,464.2 1719.5,464.1 1722.6,464.1 1725.7,464 1728.8,464 1731.9,463.9 1734.9,463.9 1738,463.8 1741.1,463.8 1744.1,463.8 1747.2,463.7 1750.2,463.7 1753.3,463.6 1756.4,463.6 1759.5,463.5 1762.6,463.5" fill="none" stroke="#0000ff" stroke-width="4.0" stroke-linejoin="round"/><path d="M1303,88 1303.1,91.1 1303.2,94.1 1303.3,97 1303.4,99.9 1303.5,102.8 1303.5,105.8 1303.6,109 1303.8,112.4 1303.9,116 1304,120 1304.1,122.2 1304.1,124.4 1304.2,126.8 1304.3,129.3 1304.4,131.8 1304.5,134.5 1304.6,137.2 1304.6,140.1 1304.7,143 1304.8,145.9 1304.9,149 1305,152 1305.1,155.2 1305.2,158.4 1305.3,161.6 1305.4,164.8 1305.5,168.1 1305.7,171.4 1305.8,174.7 1305.9,178.1 1306,181.4 1306.1,184.7 1306.2,188.1 1306.3,191.4 1306.4,194.7 1306.6,198 1306.7,201.2 1306.8,204.5 1306.9,207.6 1307,210.8 1307.1,213.9 1307.2,216.9 1307.4,219.9 1307.5,222.8 1307.6,225.6 1307.7,228.3 1307.8,231 1307.9,234.4 1308.1,237.7 1308.2,241 1308.4,244.2 1308.5,247.3 1308.6,250.4 1308.8,253.5 1308.9,256.5 1309.1,259.5 1309.2,262.5 1309.4,265.5 1309.5,268.4 1309.6,271.3 1309.8,274.2 1310,277.1 1310.1,280 1310.3,283 1310.4,285.9 1310.6,288.8 1310.8,291.8 1310.9,294.8 1311.1,297.8 1311.3,300.9 1311.5,303.9 1311.7,307.1 1311.9,310.2 1312.1,313.4 1312.3,316.5 1312.5,319.7 1312.7,322.9 1312.9,326.1 1313.1,329.2 1313.3,332.4 1313.5,335.5 1313.8,338.6 1314,341.7 1314.2,344.7 1314.4,347.7 1314.6,350.7 1314.8,353.6 1315,356.4 1315.2,359.1 1315.4,361.8 1315.6,364.4 1315.9,368 1316.1,371.5 1316.3,374.9 1316.5,378.1 1316.8,381.2 1317,384.3 1317.2,387.4 1317.5,390.4 1317.7,393.6 1318,396.7 1318.3,400 1318.6,403 1318.9,406.1 1319.2,409.1 1319.5,412.2 1319.9,415.4 1320.2,418.5 1320.6,421.6 1320.9,424.7 1321.3,427.8 1321.7,430.9 1322.1,434 1322.6,437 1323,440 1323.5,443.3 1324.1,446.6 1324.6,449.8 1325.2,453 1325.9,456.2 1326.5,459.4 1327.1,462.6 1327.7,465.7 1328.3,468.8 1328.9,471.9 1329.4,475 1329.9,478.1 1330.4,481.3 1330.8,484.4 1331.3,487.6 1331.7,490.7 1332.2,493.7 1332.6,496.7 1333.1,499.6 1333.5,502.4 1334,505 1334.7,508.8 1335.4,512.4 1336.2,515.8 1337,519 1338,522 1339.5,525.7 1341.2,529 1343,532 1345.6,535.4 1348.5,538 1351.6,539.7 1355,540.5 1358.5,540 1362,538.5 1364.4,537 1366.7,535.2 1369.5,533 1371.4,531.6 1373.5,530 1375.8,528.2 1378.2,526.3 1380.7,524.4 1383.3,522.4 1385.9,520.5 1388.6,518.6 1391.2,516.8 1393.7,515.1 1396.3,513.4 1398.8,511.7 1401.5,510 1404.1,508.3 1406.8,506.7 1409.6,505 1412.4,503.5 1415.4,502 1418.4,500.5 1421,499.3 1423.7,498.2 1426.5,497.1 1429.3,496 1432.2,495 1435.1,494 1438.1,493 1441.1,492 1444.1,491.1 1447.1,490.2 1450.2,489.4 1453.2,488.5 1456.1,487.7 1459.1,486.9 1462.2,486.1 1465.4,485.3 1468.7,484.6 1471.9,483.9 1475.2,483.2 1478.5,482.5 1481.7,481.9 1484.9,481.3 1488.1,480.8 1491.2,480.2 1494.2,479.7 1497,479.3 1499.8,478.8 1503.3,478.2 1506.4,477.8 1509.3,477.4 1512.2,477 1515.3,476.7 1518.8,476.3 1522.8,475.8 1524.9,475.6 1527.1,475.3 1529.4,475 1531.8,474.8 1534.3,474.5 1537,474.2 1539.7,473.9 1542.5,473.5 1545.4,473.2 1548.4,472.9 1551.4,472.5 1554.5,472.2 1557.7,471.9 1560.9,471.5 1564.1,471.2 1567.4,470.8 1570.7,470.5 1574,470.1 1577.4,469.8 1580.7,469.5 1584.1,469.1 1587.4,468.8 1590.7,468.5 1594,468.2 1597.3,467.9 1600.5,467.7 1603.7,467.4 1606.9,467.1 1610,466.9 1613,466.7 1616,466.5 1619.1,466.3 1622.2,466.1 1625.2,466 1628.3,465.8 1631.4,465.7 1634.5,465.5 1637.6,465.4 1640.7,465.3 1643.7,465.2 1646.8,465.1 1649.9,465 1652.9,464.9 1656,464.8 1659,464.7 1662.1,464.7 1665.1,464.6 1668.1,464.5 1671.1,464.5 1674.1,464.4 1677,464.4 1680,464.3 1682.9,464.3 1685.8,464.2 1688.7,464.2 1691.5,464.1 1694.4,464.1 1697.2,464.1 1700,464 1703.3,463.9 1706.6,463.9 1709.9,463.8 1713.1,463.8 1716.3,463.8 1719.5,463.7 1722.6,463.7 1725.7,463.7 1728.8,463.7 1731.9,463.7 1734.9,463.6 1738,463.6 1741.1,463.6 1744.1,463.6 1747.2,463.6 1750.2,463.6 1753.3,463.6 1756.4,463.5 1759.5,463.5 1762.6,463.5" fill="none" stroke="#008000" stroke-width="4.0" stroke-linejoin="round"/></g>
<clipPath id="cp2"><rect x="229" y="861.2" width="738" height="668.7"/></clipPath>
<g clip-path="url(#cp2)"><line x1="751.2" y1="951.8" x2="720" y2="920.6" stroke="#858585" stroke-width="16"/><line x1="751.2" y1="951.8" x2="720" y2="920.6" stroke="#e2e2e2" stroke-width="12"/><line x1="751.2" y1="951.8" x2="720" y2="920.6" stroke="#f8f8f8" stroke-width="4.8"/><circle cx="720" cy="920.6" r="11" fill="url(#gH)" stroke="#707070" stroke-width="2.3"/><line x1="751.2" y1="951.8" x2="720" y2="1011.1" stroke="#858585" stroke-width="16"/><line x1="751.2" y1="951.8" x2="720" y2="1011.1" stroke="#e2e2e2" stroke-width="12"/><line x1="751.2" y1="951.8" x2="720" y2="1011.1" stroke="#f8f8f8" stroke-width="4.8"/><circle cx="720" cy="1011.1" r="11" fill="url(#gH)" stroke="#707070" stroke-width="2.3"/><line x1="846.4" y1="964.3" x2="879.2" y2="997" stroke="#858585" stroke-width="16"/><line x1="846.4" y1="964.3" x2="879.2" y2="997" stroke="#e2e2e2" stroke-width="12"/><line x1="846.4" y1="964.3" x2="879.2" y2="997" stroke="#f8f8f8" stroke-width="4.8"/><circle cx="879.2" cy="997" r="11" fill="url(#gH)" stroke="#707070" stroke-width="2.3"/><line x1="751.2" y1="951.8" x2="846.4" y2="964.3" stroke="#858585" stroke-width="26"/><line x1="751.2" y1="951.8" x2="846.4" y2="964.3" stroke="#e2e2e2" stroke-width="22"/><line x1="751.2" y1="951.8" x2="846.4" y2="964.3" stroke="#f8f8f8" stroke-width="8.8"/><circle cx="751.2" cy="951.8" r="21.5" fill="url(#gN)" stroke="#2f5f70" stroke-width="2.4"/><line x1="846.4" y1="964.3" x2="877.6" y2="898.7" stroke="#858585" stroke-width="16"/><line x1="846.4" y1="964.3" x2="877.6" y2="898.7" stroke="#e2e2e2" stroke-width="12"/><line x1="846.4" y1="964.3" x2="877.6" y2="898.7" stroke="#f8f8f8" stroke-width="4.8"/><circle cx="877.6" cy="898.7" r="11" fill="url(#gH)" stroke="#707070" stroke-width="2.3"/><circle cx="846.4" cy="964.3" r="22.5" fill="url(#gC)" stroke="#6a4010" stroke-width="2.4"/><line x1="846.4" y1="964.3" x2="857.3" y2="1003.3" stroke="#5e5e5e" stroke-width="16"/><line x1="846.4" y1="964.3" x2="857.3" y2="1003.3" stroke="#9a9a9a" stroke-width="12"/><line x1="846.4" y1="964.3" x2="857.3" y2="1003.3" stroke="#b8b8b8" stroke-width="4.8"/><circle cx="857.3" cy="1003.3" r="11" fill="url(#gH)" stroke="#707070" stroke-width="2.3"/><line x1="592.1" y1="1045.4" x2="606.1" y2="979.9" stroke="#858585" stroke-width="16"/><line x1="592.1" y1="1045.4" x2="606.1" y2="979.9" stroke="#e2e2e2" stroke-width="12"/><line x1="592.1" y1="1045.4" x2="606.1" y2="979.9" stroke="#f8f8f8" stroke-width="4.8"/><circle cx="606.1" cy="979.9" r="11" fill="url(#gH)" stroke="#707070" stroke-width="2.3"/><line x1="592.1" y1="1045.4" x2="528.1" y2="1065.7" stroke="#858585" stroke-width="16"/><line x1="592.1" y1="1045.4" x2="528.1" y2="1065.7" stroke="#e2e2e2" stroke-width="12"/><line x1="592.1" y1="1045.4" x2="528.1" y2="1065.7" stroke="#f8f8f8" stroke-width="4.8"/><circle cx="528.1" cy="1065.7" r="11" fill="url(#gH)" stroke="#707070" stroke-width="2.3"/><line x1="592.1" y1="1045.4" x2="673.2" y2="1096.9" stroke="#858585" stroke-width="26"/><line x1="592.1" y1="1045.4" x2="673.2" y2="1096.9" stroke="#e2e2e2" stroke-width="22"/><line x1="592.1" y1="1045.4" x2="673.2" y2="1096.9" stroke="#f8f8f8" stroke-width="8.8"/><circle cx="592.1" cy="1045.4" r="23" fill="url(#gC)" stroke="#6a4010" stroke-width="2.4"/><circle cx="673.2" cy="1096.9" r="23" fill="url(#gC)" stroke="#6a4010" stroke-width="2.4"/><line x1="732.5" y1="1118.7" x2="718.5" y2="1095.3" stroke="#858585" stroke-width="14"/><line x1="732.5" y1="1118.7" x2="718.5" y2="1095.3" stroke="#e2e2e2" stroke-width="10"/><line x1="732.5" y1="1118.7" x2="718.5" y2="1095.3" stroke="#f8f8f8" stroke-width="4"/><circle cx="718.5" cy="1095.3" r="9" fill="url(#gH)" stroke="#707070" stroke-width="2.3"/><line x1="732.5" y1="1118.7" x2="785.6" y2="1153.1" stroke="#858585" stroke-width="16"/><line x1="732.5" y1="1118.7" x2="785.6" y2="1153.1" stroke="#e2e2e2" stroke-width="12"/><line x1="732.5" y1="1118.7" x2="785.6" y2="1153.1" stroke="#f8f8f8" stroke-width="4.8"/><circle cx="785.6" cy="1153.1" r="11" fill="url(#gH)" stroke="#707070" stroke-width="2.3"/><circle cx="732.5" cy="1118.7" r="22" fill="url(#gN)" stroke="#2f5f70" stroke-width="2.4"/><circle cx="687.2" cy="1121.9" r="23" fill="url(#gO)" stroke="#600000" stroke-width="2.4"/><g fill="none" stroke="#000" stroke-width="3.0"><circle cx="345" cy="911.2" r="9.6"/><circle cx="351.2" cy="1048.2" r="9.6"/><circle cx="358" cy="1144.6" r="9.6"/><circle cx="366.1" cy="1208.4" r="9.6"/><circle cx="372.9" cy="1251.8" r="9.6"/><circle cx="378" cy="1270" r="9.6"/><circle cx="383" cy="1282" r="9.6"/><circle cx="389" cy="1288" r="9.6"/><circle cx="395" cy="1287" r="9.6"/><circle cx="401" cy="1283" r="9.6"/><circle cx="408" cy="1277" r="9.6"/><circle cx="416" cy="1268" r="9.6"/><circle cx="425" cy="1260" r="9.6"/><circle cx="436.7" cy="1254.5" r="9.6"/><circle cx="452" cy="1238" r="9.6"/><circle cx="473.3" cy="1219.2" r="9.6"/><circle cx="504.5" cy="1205.6" r="9.6"/><circle cx="535.7" cy="1200.2" r="9.6"/><circle cx="598" cy="1195.6" r="9.6"/><circle cx="659.9" cy="1191.3" r="9.6"/><circle cx="721.7" cy="1189.1" r="9.6"/><circle cx="782.5" cy="1186.9" r="9.6"/><circle cx="844.4" cy="1185.8" r="9.6"/></g><path d="M348.5,861 348.6,864 348.7,867 348.8,870 348.9,872.9 349,875.9 349.1,878.9 349.2,881.8 349.3,884.8 349.4,887.7 349.5,890.6 349.6,893.6 349.7,896.5 349.8,899.5 349.8,902.4 349.9,905.4 350,908.4 350.1,911.4 350.2,914.4 350.3,917.4 350.4,920.5 350.5,923.5 350.7,926.6 350.8,929.7 350.9,932.8 351,936 351.1,939.2 351.2,942.4 351.3,945.2 351.4,948.1 351.5,950.9 351.6,953.8 351.7,956.7 351.8,959.7 351.9,962.6 352,965.6 352.1,968.6 352.2,971.6 352.3,974.7 352.4,977.7 352.5,980.8 352.6,983.8 352.7,986.9 352.8,990 352.9,993.1 353,996.2 353.1,999.3 353.2,1002.4 353.3,1005.5 353.4,1008.6 353.5,1011.7 353.7,1014.8 353.8,1017.9 353.9,1020.9 354,1024 354.1,1027.1 354.3,1030.1 354.4,1033.1 354.6,1036.2 354.7,1039.2 354.8,1042.2 355,1045.1 355.1,1048.1 355.3,1051 355.5,1054.2 355.7,1057.3 355.8,1060.5 356,1063.7 356.2,1066.9 356.4,1070.1 356.6,1073.3 356.8,1076.5 357,1079.7 357.2,1082.8 357.4,1086 357.7,1089.2 357.9,1092.3 358.1,1095.5 358.3,1098.6 358.5,1101.7 358.8,1104.8 359,1107.9 359.2,1111 359.5,1114 359.7,1117.1 359.9,1120.1 360.2,1123.1 360.4,1126 360.6,1129 360.9,1131.9 361.1,1134.8 361.4,1137.6 361.6,1140.4 361.9,1143.2 362.1,1146 362.4,1149.4 362.7,1152.8 363,1156.2 363.3,1159.5 363.6,1162.8 363.9,1166.1 364.2,1169.4 364.5,1172.6 364.8,1175.7 365.1,1178.9 365.5,1182 365.8,1185.1 366.1,1188.1 366.5,1191.1 366.8,1194.1 367.2,1197 367.6,1199.9 368,1202.8 368.4,1205.6 368.8,1208.4 369.3,1211.9 369.9,1215.3 370.5,1218.7 371,1222 371.6,1225.3 372.2,1228.5 372.9,1231.7 373.5,1234.8 374.2,1237.8 374.9,1240.7 375.5,1243.6 376.3,1246.3 377,1249 378,1252.7 379,1256.4 380.1,1260 381.2,1263.4 382.4,1266.4 383.7,1268.9 385.1,1270.8 388.4,1273.1 391.9,1273.5 394.2,1272.5 396.6,1270.5 399,1267.9 401.4,1265.3 403.2,1263.3 405.1,1261.1 406.9,1258.7 408.8,1256.2 410.8,1253.7 412.8,1251.3 415,1249 417.1,1246.9 419.4,1244.7 421.7,1242.6 424,1240.5 426.5,1238.4 428.9,1236.4 431.4,1234.6 434,1232.8 436.5,1231.2 439.1,1229.7 441.8,1228.2 444.5,1226.9 447.2,1225.6 450,1224.4 452.8,1223.2 455.7,1222 458.5,1220.9 461.3,1219.9 464.1,1219 466.9,1218.1 469.9,1217.2 472.9,1216.4 476,1215.5 479.3,1214.7 482.8,1213.8 485.4,1213.2 488.1,1212.5 491,1211.8 494,1211.2 497.1,1210.5 500.3,1209.8 503.6,1209.1 506.9,1208.4 510.2,1207.8 513.5,1207.1 516.8,1206.5 520,1205.9 523.1,1205.3 526.2,1204.8 529.1,1204.2 532,1203.8 534.6,1203.4 537.1,1203 540.8,1202.5 544.2,1202.2 547.2,1202 550.2,1201.8 553.3,1201.6 556.5,1201.3 560,1201 562.7,1200.7 565.4,1200.4 568.3,1200 571.1,1199.6 574.1,1199.2 577.1,1198.7 580.2,1198.3 583.3,1197.9 586.5,1197.5 589.8,1197 593.1,1196.7 596.5,1196.3 600,1196 602.7,1195.8 605.5,1195.6 608.3,1195.4 611.1,1195.2 614,1195.1 616.9,1194.9 619.9,1194.8 622.9,1194.6 626,1194.5 629,1194.4 632.2,1194.3 635.3,1194.2 638.5,1194.1 641.7,1194 645,1193.9 648.3,1193.7 651.6,1193.6 654.9,1193.5 658.3,1193.4 661.7,1193.3 665.1,1193.1 668.6,1193 671.3,1192.9 674,1192.8 676.9,1192.6 679.7,1192.5 682.6,1192.4 685.5,1192.3 688.5,1192.2 691.5,1192 694.6,1191.9 697.6,1191.8 700.7,1191.6 703.9,1191.5 707,1191.4 710.1,1191.3 713.3,1191.1 716.5,1191 719.7,1190.9 722.9,1190.7 726,1190.6 729.2,1190.5 732.4,1190.3 735.6,1190.2 738.7,1190.1 741.9,1189.9 745,1189.8 748.1,1189.7 751.1,1189.6 754.2,1189.4 757.2,1189.3 760.1,1189.2 763.1,1189.1 765.9,1189 768.8,1188.8 771.6,1188.7 774.3,1188.6 777,1188.5 780.4,1188.4 783.7,1188.2 787,1188.1 790.2,1188 793.4,1187.8 796.5,1187.7 799.6,1187.6 802.7,1187.5 805.7,1187.3 808.7,1187.2 811.7,1187.1 814.7,1187 817.6,1186.9 820.6,1186.8 823.5,1186.6 826.4,1186.5 829.4,1186.4 832.4,1186.3 835.3,1186.2 838.3,1186 841.4,1185.9 844.4,1185.8" fill="none" stroke="#ff0000" stroke-width="4.0" stroke-linejoin="round"/><path d="M341.7,861 341.7,864 341.8,867 341.8,870 341.8,873 341.9,876 341.9,878.9 341.9,881.9 342,884.9 342,887.8 342,890.8 342.1,893.8 342.1,896.7 342.1,899.7 342.1,902.6 342.2,905.6 342.2,908.6 342.2,911.5 342.3,914.5 342.3,917.5 342.3,920.4 342.4,923.4 342.4,926.4 342.4,929.4 342.5,932.4 342.5,935.5 342.6,938.5 342.6,941.5 342.7,944.6 342.7,947.6 342.7,950.7 342.8,953.8 342.9,956.9 342.9,960 343,963.2 343,966.3 343.1,969.5 343.2,972.4 343.2,975.3 343.3,978.2 343.4,981.1 343.4,984.1 343.5,987.1 343.6,990.1 343.6,993.2 343.7,996.2 343.8,999.3 343.9,1002.4 343.9,1005.5 344,1008.6 344.1,1011.8 344.2,1014.9 344.3,1018 344.4,1021.2 344.4,1024.3 344.5,1027.5 344.6,1030.7 344.7,1033.8 344.8,1037 344.9,1040.1 345,1043.3 345.1,1046.4 345.2,1049.6 345.3,1052.7 345.4,1055.8 345.5,1058.9 345.6,1062 345.7,1065 345.8,1068.1 345.9,1071.1 346,1074.1 346.1,1077.1 346.2,1080 346.3,1083 346.4,1085.9 346.5,1088.7 346.6,1091.6 346.7,1094.4 346.8,1097.1 346.9,1099.9 347,1102.5 347.1,1105.2 347.2,1108.6 347.4,1111.9 347.5,1115.2 347.7,1118.4 347.8,1121.7 347.9,1124.8 348.1,1128 348.2,1131.1 348.4,1134.1 348.5,1137.2 348.7,1140.2 348.8,1143.2 349,1146.2 349.1,1149.1 349.3,1152.1 349.5,1155 349.6,1157.9 349.8,1160.8 349.9,1163.7 350.1,1166.5 350.2,1169.4 350.4,1172.3 350.6,1175.1 350.7,1178 350.9,1180.9 351,1183.7 351.2,1186.6 351.4,1189.8 351.6,1193 351.7,1196.2 351.9,1199.3 352.1,1202.5 352.3,1205.6 352.4,1208.7 352.6,1211.7 352.8,1214.8 353,1217.9 353.1,1220.9 353.3,1224 353.5,1227 353.7,1230.1 353.9,1233.1 354.1,1236.2 354.3,1239.2 354.5,1242.2 354.7,1245.3 354.9,1248.4 355.1,1251.4 355.3,1254.5 355.5,1257.6 355.7,1260.7 356,1263.8 356.2,1266.8 356.4,1269.9 356.6,1273 356.9,1276.1 357.1,1279.2 357.3,1282.2 357.6,1285.3 357.8,1288.4 358.1,1291.5 358.3,1294.6 358.6,1297.7 358.8,1300.7 359.1,1303.8 359.4,1306.9 359.6,1310 359.9,1313.1 360.2,1316.1 360.4,1319.2 360.7,1322.3 361,1325.4 361.3,1328.5 361.5,1331.7 361.8,1334.9 362.1,1338.1 362.4,1341.3 362.7,1344.5 363,1347.7 363.3,1350.9 363.6,1354.2 363.9,1357.3 364.2,1360.5 364.5,1363.7 364.8,1366.8 365.1,1369.9 365.4,1372.9 365.8,1376 366.1,1378.9 366.5,1381.8 366.8,1384.7 367.1,1387.5 367.5,1390.2 368,1393.7 368.4,1397.2 368.9,1400.7 369.4,1404.1 369.8,1407.4 370.3,1410.7 370.8,1413.9 371.3,1417 371.9,1420 372.4,1422.9 373,1425.7 373.6,1428.4 374.3,1430.9 375.3,1434.7 376.3,1438.6 377.4,1442.3 378.6,1445.4 379.8,1447.6 381.1,1448.5 383,1447.5 385.1,1444.5 387.2,1440.5 389.2,1436.3 390.2,1434.1 391.2,1431.7 392.1,1429.2 393.1,1426.4 394,1423.5 394.9,1420.5 395.9,1417.4 396.8,1414.3 397.7,1411.1 398.6,1407.9 399.5,1404.6 400.5,1401.4 401.4,1398.3 402.3,1395.4 403.1,1392.5 404,1389.5 404.8,1386.5 405.6,1383.4 406.5,1380.3 407.3,1377.2 408.2,1374.1 409,1371 409.9,1367.9 410.7,1364.7 411.6,1361.6 412.4,1358.6 413.3,1355.5 414.1,1352.5 415,1349.5 415.9,1346.5 416.8,1343.5 417.6,1340.5 418.5,1337.6 419.4,1334.6 420.3,1331.7 421.2,1328.7 422.1,1325.8 423,1322.9 423.9,1320 424.8,1317.2 425.7,1314.3 426.6,1311.5 427.6,1308.7 428.5,1306 429.6,1302.9 430.6,1299.8 431.7,1296.8 432.7,1293.8 433.8,1290.8 434.8,1287.9 435.9,1284.9 437.1,1282.1 438.2,1279.2 439.5,1276.4 440.7,1273.6 442.1,1270.8 443.6,1267.9 445.1,1264.9 446.7,1262 448.3,1259.1 450,1256.2 451.7,1253.3 453.5,1250.6 455.3,1248 457.2,1245.5 459.1,1243.1 461.1,1240.9 463.5,1238.5 466.1,1236.3 468.7,1234.3 471.4,1232.5 474.1,1230.7 477,1229.1 479.9,1227.5 482.8,1226 485.6,1224.7 488.4,1223.4 491.2,1222.3 494.1,1221.3 497.1,1220.3 500.1,1219.3 503.3,1218.4 506.6,1217.5 510,1216.5 512.5,1215.8 515,1215.1 517.6,1214.5 520.3,1213.8 523,1213.2 525.7,1212.5 528.5,1211.9 531.3,1211.3 534.2,1210.7 537.2,1210.1 540.3,1209.5 543.4,1208.9 546.5,1208.3 549.8,1207.7 553.1,1207.1 556.5,1206.6 560,1206 562.5,1205.6 565,1205.2 567.6,1204.8 570.2,1204.5 572.9,1204.1 575.7,1203.7 578.5,1203.3 581.3,1202.9 584.2,1202.6 587.1,1202.2 590.1,1201.8 593.1,1201.4 596.1,1201.1 599.2,1200.7 602.3,1200.4 605.4,1200 608.5,1199.7 611.7,1199.3 614.8,1199 618,1198.6 621.2,1198.3 624.4,1198 627.6,1197.7 630.8,1197.3 634,1197 637.2,1196.7 640.5,1196.4 643.6,1196.1 646.8,1195.8 650,1195.5 653.2,1195.3 656.3,1195 659.4,1194.7 662.5,1194.5 665.6,1194.2 668.6,1194 671.6,1193.8 674.7,1193.5 677.7,1193.3 680.8,1193.1 683.9,1192.9 687,1192.8 690.1,1192.6 693.2,1192.4 696.3,1192.2 699.4,1192.1 702.5,1191.9 705.7,1191.8 708.8,1191.6 711.9,1191.5 715.1,1191.4 718.2,1191.2 721.3,1191.1 724.4,1191 727.5,1190.9 730.6,1190.8 733.6,1190.7 736.7,1190.5 739.7,1190.4 742.8,1190.3 745.8,1190.2 748.7,1190.1 751.7,1190 754.6,1189.9 757.5,1189.8 760.4,1189.7 763.3,1189.6 766.1,1189.5 768.9,1189.4 771.6,1189.2 774.3,1189.1 777,1189 780.4,1188.8 783.7,1188.7 787,1188.5 790.2,1188.4 793.4,1188.2 796.5,1188.1 799.6,1187.9 802.7,1187.8 805.7,1187.6 808.7,1187.5 811.7,1187.4 814.7,1187.2 817.6,1187.1 820.6,1186.9 823.5,1186.8 826.4,1186.7 829.4,1186.5 832.4,1186.4 835.3,1186.2 838.3,1186.1 841.4,1185.9 844.4,1185.8" fill="none" stroke="#0000ff" stroke-width="4.0" stroke-linejoin="round"/><path d="M345,861 345,864 345.1,867 345.1,870 345.2,873.1 345.2,876.1 345.3,879.1 345.3,882.1 345.3,885.1 345.4,888.1 345.4,891.2 345.5,894.2 345.5,897.2 345.5,900.2 345.6,903.2 345.6,906.2 345.7,909.2 345.7,912.3 345.7,915.3 345.8,918.3 345.8,921.3 345.9,924.3 345.9,927.3 345.9,930.4 346,933.4 346,936.4 346.1,939.4 346.1,942.4 346.2,945.4 346.2,948.5 346.3,951.5 346.3,954.5 346.3,957.5 346.4,960.5 346.4,963.5 346.5,966.5 346.6,969.6 346.6,972.6 346.7,975.6 346.7,978.6 346.8,981.6 346.8,984.6 346.9,987.7 347,990.7 347,993.7 347.1,996.7 347.2,999.7 347.2,1002.8 347.3,1005.8 347.4,1008.9 347.5,1012 347.5,1015.1 347.6,1018.2 347.7,1021.3 347.8,1024.4 347.9,1027.5 347.9,1030.7 348,1033.8 348.1,1036.9 348.2,1040.1 348.3,1043.2 348.4,1046.4 348.4,1049.5 348.5,1052.6 348.6,1055.8 348.7,1058.9 348.8,1062 348.9,1065.2 349,1068.3 349.1,1071.4 349.2,1074.5 349.3,1077.5 349.4,1080.6 349.5,1083.7 349.6,1086.7 349.7,1089.7 349.8,1092.7 349.9,1095.7 350,1098.7 350.1,1101.6 350.2,1104.6 350.3,1107.5 350.4,1110.4 350.5,1113.2 350.6,1116 350.7,1118.8 350.8,1121.6 350.9,1124.4 351,1127.1 351.1,1129.8 351.2,1132.4 351.3,1135.8 351.5,1139.2 351.6,1142.5 351.7,1145.8 351.9,1149.1 352,1152.4 352.1,1155.7 352.2,1158.9 352.4,1162.1 352.5,1165.3 352.6,1168.4 352.7,1171.5 352.9,1174.6 353,1177.7 353.2,1180.7 353.3,1183.7 353.4,1186.6 353.6,1189.5 353.8,1192.4 353.9,1195.2 354.1,1198 354.3,1200.7 354.5,1203.4 354.7,1206.1 354.9,1208.7 355.1,1211.3 355.3,1213.8 355.6,1217.4 356,1220.9 356.4,1224.3 356.7,1227.5 357.1,1230.7 357.5,1233.8 357.9,1236.8 358.4,1239.8 358.8,1242.8 359.3,1245.7 359.7,1248.6 360.2,1251.6 360.7,1254.5 361.2,1257.6 361.8,1260.8 362.4,1263.9 362.9,1267 363.5,1270.1 364.2,1273.1 364.8,1276 365.4,1278.9 366.1,1281.7 366.8,1284.4 367.5,1287 368.5,1290.6 369.4,1294.2 370.3,1297.6 371.4,1300.7 372.7,1303.6 374.3,1306 376.7,1308.5 379.4,1310.7 382.3,1312.2 385.1,1312.8 387.8,1312.2 390.6,1310.6 393.3,1308.4 396,1306 397.9,1304.2 399.9,1302.1 401.8,1299.8 403.7,1297.4 405.6,1294.9 407.6,1292.4 409.6,1289.8 411.4,1287.6 413.2,1285.2 415,1282.8 416.9,1280.3 418.8,1277.8 420.8,1275.2 422.7,1272.7 424.6,1270.2 426.6,1267.7 428.5,1265.3 430.6,1262.8 432.6,1260.2 434.6,1257.6 436.7,1255.1 438.7,1252.6 440.8,1250.2 443,1247.9 445.2,1245.7 447.5,1243.6 450,1241.6 452.6,1239.7 455.2,1237.9 457.9,1236.2 460.7,1234.6 463.5,1233.1 466.4,1231.6 469.3,1230.1 472.1,1228.7 474.9,1227.4 477.8,1226.1 480.7,1224.8 483.7,1223.6 486.7,1222.4 489.9,1221.3 493.1,1220.2 496.4,1219.2 499.3,1218.4 502.3,1217.6 505.4,1216.9 508.6,1216.2 511.9,1215.5 515.2,1214.8 518.6,1214.2 521.9,1213.6 525.1,1213.1 528.3,1212.5 531.4,1212 534.3,1211.5 537.1,1211 540.6,1210.4 543.6,1209.9 546.5,1209.4 549.3,1209 552.4,1208.5 555.9,1208.1 560,1207.5 562,1207.2 564,1206.9 566.2,1206.7 568.5,1206.3 570.9,1206 573.4,1205.7 576,1205.3 578.7,1205 581.5,1204.6 584.3,1204.2 587.2,1203.8 590.2,1203.4 593.3,1203 596.4,1202.6 599.5,1202.2 602.7,1201.8 606,1201.4 609.2,1201 612.6,1200.6 615.9,1200.2 619.3,1199.8 622.6,1199.3 626,1198.9 629.4,1198.5 632.8,1198.2 636.2,1197.8 639.5,1197.4 642.9,1197 646.2,1196.7 649.6,1196.3 652.8,1196 656.1,1195.7 659.3,1195.3 662.4,1195 665.6,1194.8 668.6,1194.5 671.6,1194.3 674.7,1194 677.7,1193.8 680.8,1193.6 683.9,1193.4 687,1193.1 690.1,1193 693.2,1192.8 696.3,1192.6 699.4,1192.4 702.5,1192.3 705.7,1192.1 708.8,1191.9 711.9,1191.8 715,1191.6 718.2,1191.5 721.3,1191.4 724.4,1191.2 727.5,1191.1 730.6,1191 733.6,1190.9 736.7,1190.8 739.7,1190.6 742.8,1190.5 745.8,1190.4 748.7,1190.3 751.7,1190.2 754.6,1190.1 757.5,1189.9 760.4,1189.8 763.3,1189.7 766.1,1189.6 768.9,1189.5 771.6,1189.4 774.3,1189.2 777,1189.1 780.4,1188.9 783.7,1188.8 787,1188.6 790.2,1188.4 793.4,1188.3 796.5,1188.1 799.6,1188 802.7,1187.8 805.7,1187.7 808.7,1187.5 811.7,1187.4 814.7,1187.3 817.6,1187.1 820.6,1187 823.5,1186.8 826.4,1186.7 829.4,1186.5 832.4,1186.4 835.3,1186.2 838.3,1186.1 841.4,1185.9 844.4,1185.8" fill="none" stroke="#008000" stroke-width="4.0" stroke-linejoin="round"/></g>
<clipPath id="cp3"><rect x="1146.8" y="861.2" width="738.9" height="668.7"/></clipPath>
<g clip-path="url(#cp3)"><line x1="1656.3" y1="1036.7" x2="1627.2" y2="1012.7" stroke="#858585" stroke-width="14"/><line x1="1656.3" y1="1036.7" x2="1627.2" y2="1012.7" stroke="#e2e2e2" stroke-width="10"/><line x1="1656.3" y1="1036.7" x2="1627.2" y2="1012.7" stroke="#f8f8f8" stroke-width="4"/><circle cx="1627.2" cy="1012.7" r="10" fill="url(#gH)" stroke="#707070" stroke-width="2.3"/><line x1="1656.3" y1="1036.7" x2="1639.2" y2="999" stroke="#858585" stroke-width="16"/><line x1="1656.3" y1="1036.7" x2="1639.2" y2="999" stroke="#e2e2e2" stroke-width="12"/><line x1="1656.3" y1="1036.7" x2="1639.2" y2="999" stroke="#f8f8f8" stroke-width="4.8"/><circle cx="1639.2" cy="999" r="11" fill="url(#gH)" stroke="#707070" stroke-width="2.3"/><line x1="1656.3" y1="1036.7" x2="1749" y2="1040.2" stroke="#858585" stroke-width="26"/><line x1="1656.3" y1="1036.7" x2="1749" y2="1040.2" stroke="#e2e2e2" stroke-width="22"/><line x1="1656.3" y1="1036.7" x2="1749" y2="1040.2" stroke="#f8f8f8" stroke-width="8.8"/><circle cx="1656.3" cy="1036.7" r="23" fill="url(#gN)" stroke="#2f5f70" stroke-width="2.4"/><line x1="1749" y1="1040.2" x2="1778.2" y2="978.4" stroke="#858585" stroke-width="16"/><line x1="1749" y1="1040.2" x2="1778.2" y2="978.4" stroke="#e2e2e2" stroke-width="12"/><line x1="1749" y1="1040.2" x2="1778.2" y2="978.4" stroke="#f8f8f8" stroke-width="4.8"/><circle cx="1778.2" cy="978.4" r="11" fill="url(#gH)" stroke="#707070" stroke-width="2.3"/><line x1="1749" y1="1040.2" x2="1764.5" y2="1084.8" stroke="#858585" stroke-width="14"/><line x1="1749" y1="1040.2" x2="1764.5" y2="1084.8" stroke="#e2e2e2" stroke-width="10"/><line x1="1749" y1="1040.2" x2="1764.5" y2="1084.8" stroke="#f8f8f8" stroke-width="4"/><circle cx="1764.5" cy="1084.8" r="10" fill="url(#gH)" stroke="#707070" stroke-width="2.3"/><circle cx="1749" cy="1040.2" r="22" fill="url(#gC)" stroke="#6a4010" stroke-width="2.4"/><line x1="1749" y1="1040.2" x2="1774.8" y2="1067.6" stroke="#5e5e5e" stroke-width="14"/><line x1="1749" y1="1040.2" x2="1774.8" y2="1067.6" stroke="#9a9a9a" stroke-width="10"/><line x1="1749" y1="1040.2" x2="1774.8" y2="1067.6" stroke="#b8b8b8" stroke-width="4"/><circle cx="1774.8" cy="1067.6" r="10" fill="url(#gH)" stroke="#707070" stroke-width="2.3"/><line x1="1462.4" y1="1132.8" x2="1471" y2="1060.7" stroke="#858585" stroke-width="16"/><line x1="1462.4" y1="1132.8" x2="1471" y2="1060.7" stroke="#e2e2e2" stroke-width="12"/><line x1="1462.4" y1="1132.8" x2="1471" y2="1060.7" stroke="#f8f8f8" stroke-width="4.8"/><circle cx="1471" cy="1060.7" r="11" fill="url(#gH)" stroke="#707070" stroke-width="2.3"/><line x1="1462.4" y1="1132.8" x2="1398.9" y2="1146.6" stroke="#858585" stroke-width="16"/><line x1="1462.4" y1="1132.8" x2="1398.9" y2="1146.6" stroke="#e2e2e2" stroke-width="12"/><line x1="1462.4" y1="1132.8" x2="1398.9" y2="1146.6" stroke="#f8f8f8" stroke-width="4.8"/><circle cx="1398.9" cy="1146.6" r="11" fill="url(#gH)" stroke="#707070" stroke-width="2.3"/><line x1="1512.2" y1="1139.7" x2="1498.4" y2="1165.4" stroke="#858585" stroke-width="14"/><line x1="1512.2" y1="1139.7" x2="1498.4" y2="1165.4" stroke="#e2e2e2" stroke-width="10"/><line x1="1512.2" y1="1139.7" x2="1498.4" y2="1165.4" stroke="#f8f8f8" stroke-width="4"/><circle cx="1498.4" cy="1165.4" r="10" fill="url(#gH)" stroke="#707070" stroke-width="2.3"/><circle cx="1462.4" cy="1132.8" r="22" fill="url(#gC)" stroke="#6a4010" stroke-width="2.4"/><line x1="1512.2" y1="1139.7" x2="1589.4" y2="1175.8" stroke="#858585" stroke-width="24"/><line x1="1512.2" y1="1139.7" x2="1589.4" y2="1175.8" stroke="#e2e2e2" stroke-width="20"/><line x1="1512.2" y1="1139.7" x2="1589.4" y2="1175.8" stroke="#f8f8f8" stroke-width="8"/><circle cx="1512.2" cy="1139.7" r="22" fill="url(#gC)" stroke="#6a4010" stroke-width="2.4"/><line x1="1589.4" y1="1175.8" x2="1616.9" y2="1199.8" stroke="#858585" stroke-width="14"/><line x1="1589.4" y1="1175.8" x2="1616.9" y2="1199.8" stroke="#e2e2e2" stroke-width="10"/><line x1="1589.4" y1="1175.8" x2="1616.9" y2="1199.8" stroke="#f8f8f8" stroke-width="4"/><circle cx="1616.9" cy="1199.8" r="10" fill="url(#gH)" stroke="#707070" stroke-width="2.3"/><circle cx="1589.4" cy="1175.8" r="23" fill="url(#gN)" stroke="#2f5f70" stroke-width="2.4"/><line x1="1589.4" y1="1175.8" x2="1622" y2="1182.6" stroke="#5e5e5e" stroke-width="14"/><line x1="1589.4" y1="1175.8" x2="1622" y2="1182.6" stroke="#9a9a9a" stroke-width="10"/><line x1="1589.4" y1="1175.8" x2="1622" y2="1182.6" stroke="#b8b8b8" stroke-width="4"/><circle cx="1622" cy="1182.6" r="11" fill="url(#gH)" stroke="#707070" stroke-width="2.3"/><circle cx="1483" cy="1108.8" r="22.5" fill="url(#gO)" stroke="#600000" stroke-width="2.4"/><g fill="none" stroke="#000" stroke-width="3.0"><circle cx="1313.9" cy="871.9" r="9.6"/><circle cx="1316.6" cy="958.7" r="9.6"/><circle cx="1318.5" cy="1030.6" r="9.6"/><circle cx="1326.1" cy="1143.2" r="9.6"/><circle cx="1331.5" cy="1220.6" r="9.6"/><circle cx="1338.3" cy="1273.5" r="9.6"/><circle cx="1345.1" cy="1308.8" r="9.6"/><circle cx="1349.2" cy="1331.8" r="9.6"/><circle cx="1356" cy="1346.7" r="9.6"/><circle cx="1364.1" cy="1353.5" r="9.6"/><circle cx="1373.6" cy="1350" r="9.6"/><circle cx="1385.8" cy="1345.4" r="9.6"/><circle cx="1396.7" cy="1341.3" r="9.6"/><circle cx="1407.5" cy="1334.5" r="9.6"/><circle cx="1418.4" cy="1329.1" r="9.6"/><circle cx="1434.9" cy="1323.4" r="9.6"/><circle cx="1453.8" cy="1318.2" r="9.6"/><circle cx="1515.6" cy="1309.6" r="9.6"/><circle cx="1577.4" cy="1306.2" r="9.6"/><circle cx="1639.2" cy="1304.5" r="9.6"/><circle cx="1701" cy="1302.8" r="9.6"/><circle cx="1762.8" cy="1302.8" r="9.6"/></g><path d="M1297.6,861 1297.7,864 1297.8,867 1297.9,870 1298,873.1 1298,876.1 1298.1,879.1 1298.2,882.1 1298.3,885.1 1298.4,888.1 1298.5,891.2 1298.6,894.2 1298.7,897.2 1298.7,900.2 1298.8,903.2 1298.9,906.2 1299,909.2 1299.1,912.3 1299.2,915.3 1299.3,918.3 1299.4,921.3 1299.4,924.3 1299.5,927.3 1299.6,930.4 1299.7,933.4 1299.8,936.4 1299.9,939.4 1300,942.4 1300.1,945.4 1300.1,948.5 1300.2,951.5 1300.3,954.5 1300.4,957.5 1300.5,960.5 1300.6,963.5 1300.7,966.5 1300.8,969.6 1300.9,972.6 1301,975.6 1301.1,978.6 1301.2,981.6 1301.3,984.6 1301.4,987.7 1301.5,990.7 1301.6,993.7 1301.7,996.7 1301.8,999.7 1301.9,1002.7 1302,1005.8 1302.1,1008.8 1302.2,1011.9 1302.3,1014.9 1302.5,1018 1302.6,1021 1302.7,1024.1 1302.8,1027.1 1302.9,1030.2 1303,1033.3 1303.1,1036.4 1303.3,1039.4 1303.4,1042.5 1303.5,1045.6 1303.6,1048.6 1303.7,1051.7 1303.9,1054.8 1304,1057.8 1304.1,1060.9 1304.2,1064 1304.3,1067 1304.5,1070.1 1304.6,1073.1 1304.7,1076.2 1304.8,1079.2 1305,1082.2 1305.1,1085.3 1305.2,1088.3 1305.3,1091.3 1305.5,1094.3 1305.6,1097.3 1305.7,1100.3 1305.8,1103.3 1306,1106.2 1306.1,1109.2 1306.2,1112.1 1306.3,1115.1 1306.5,1118 1306.6,1120.9 1306.7,1123.8 1306.8,1126.7 1307,1129.5 1307.1,1132.4 1307.2,1135.6 1307.4,1138.8 1307.5,1141.9 1307.7,1145.1 1307.8,1148.2 1307.9,1151.4 1308,1154.5 1308.2,1157.6 1308.3,1160.7 1308.4,1163.9 1308.6,1167 1308.7,1170 1308.8,1173.1 1309,1176.2 1309.1,1179.3 1309.2,1182.3 1309.4,1185.4 1309.5,1188.4 1309.6,1191.4 1309.8,1194.4 1309.9,1197.4 1310.1,1200.4 1310.2,1203.4 1310.4,1206.3 1310.5,1209.3 1310.7,1212.2 1310.8,1215.2 1311,1218.1 1311.2,1221 1311.3,1223.9 1311.5,1226.7 1311.7,1229.6 1311.9,1232.4 1312.1,1235.3 1312.3,1238.1 1312.5,1240.9 1312.7,1244.1 1313,1247.4 1313.2,1250.6 1313.5,1253.8 1313.7,1257 1314,1260.2 1314.2,1263.4 1314.5,1266.5 1314.8,1269.7 1315,1272.8 1315.3,1276 1315.6,1279.1 1315.9,1282.1 1316.1,1285.2 1316.4,1288.2 1316.7,1291.2 1317.1,1294.2 1317.4,1297.2 1317.7,1300.1 1318,1303 1318.4,1305.9 1318.7,1308.7 1319.1,1311.5 1319.5,1314.3 1319.9,1317 1320.3,1319.7 1320.7,1322.3 1321.3,1325.8 1321.8,1329.2 1322.4,1332.7 1323,1336.1 1323.6,1339.5 1324.3,1342.9 1324.9,1346.2 1325.6,1349.4 1326.2,1352.6 1326.9,1355.6 1327.6,1358.6 1328.4,1361.4 1329.1,1364.1 1329.9,1366.6 1330.7,1369 1331.5,1371.2 1333,1375 1334.6,1378.4 1336.2,1381.3 1338,1383.9 1340,1386 1342.8,1388.2 1345.9,1389.7 1349.2,1390.2 1351.9,1389.6 1354.8,1388.3 1357.9,1386.4 1361,1384.2 1364.1,1382 1366.3,1380.4 1368.6,1378.6 1370.9,1376.6 1373.2,1374.6 1375.6,1372.5 1378,1370.4 1380.5,1368.3 1383.1,1366.3 1385.8,1364.4 1388.2,1362.8 1390.7,1361.3 1393.3,1359.8 1395.9,1358.3 1398.6,1356.8 1401.3,1355.3 1404.1,1353.9 1406.9,1352.5 1409.8,1351 1412.6,1349.6 1415.5,1348.1 1418.4,1346.7 1421.1,1345.3 1423.9,1343.9 1426.8,1342.4 1429.6,1341 1432.5,1339.5 1435.4,1338.1 1438.3,1336.6 1441.3,1335.2 1444.2,1333.8 1447.2,1332.5 1450.2,1331.2 1453.2,1330 1456.1,1328.9 1459.1,1327.8 1462.2,1326.8 1465.2,1325.9 1468.3,1325 1471.4,1324.2 1474.5,1323.5 1477.6,1322.8 1480.7,1322.1 1483.8,1321.5 1487,1320.9 1490.1,1320.3 1493.3,1319.7 1496.6,1319.2 1499.8,1318.6 1502.8,1318.1 1505.8,1317.6 1508.7,1317.2 1511.7,1316.7 1514.7,1316.3 1517.6,1316 1520.6,1315.6 1523.7,1315.2 1526.8,1314.9 1529.9,1314.5 1533.2,1314.2 1536.5,1313.9 1539.9,1313.5 1543.4,1313.2 1547,1312.8 1549.5,1312.5 1552.2,1312.3 1554.8,1312 1557.6,1311.8 1560.4,1311.5 1563.3,1311.2 1566.3,1311 1569.3,1310.7 1572.3,1310.5 1575.4,1310.2 1578.5,1309.9 1581.6,1309.7 1584.8,1309.4 1588,1309.1 1591.2,1308.9 1594.4,1308.6 1597.6,1308.4 1600.8,1308.1 1604,1307.9 1607.2,1307.7 1610.4,1307.4 1613.5,1307.2 1616.7,1307 1619.7,1306.8 1622.8,1306.6 1625.8,1306.4 1628.8,1306.2 1631.7,1306 1634.5,1305.8 1637.3,1305.7 1640,1305.5 1643.3,1305.3 1646.5,1305.2 1649.7,1305 1652.8,1304.9 1655.9,1304.7 1658.9,1304.6 1661.9,1304.5 1664.9,1304.4 1667.8,1304.3 1670.7,1304.2 1673.6,1304.1 1676.5,1304 1679.4,1304 1682.3,1303.9 1685.2,1303.8 1688.1,1303.8 1691,1303.7 1694,1303.6 1697,1303.6 1700,1303.5 1703.1,1303.4 1706.2,1303.4 1709.3,1303.3 1712.5,1303.3 1715.6,1303.2 1718.7,1303.2 1721.9,1303.2 1725,1303.1 1728.2,1303.1 1731.3,1303.1 1734.5,1303 1737.6,1303 1740.8,1303 1743.9,1303 1747.1,1302.9 1750.2,1302.9 1753.4,1302.9 1756.5,1302.9 1759.7,1302.8 1762.8,1302.8" fill="none" stroke="#ff0000" stroke-width="4.0" stroke-linejoin="round"/><path d="M1293.5,861 1293.6,864 1293.6,867 1293.7,870 1293.7,873 1293.8,876 1293.9,878.9 1293.9,881.9 1294,884.9 1294,887.8 1294.1,890.8 1294.1,893.8 1294.2,896.7 1294.3,899.7 1294.3,902.6 1294.4,905.6 1294.4,908.6 1294.5,911.5 1294.6,914.5 1294.6,917.5 1294.7,920.4 1294.7,923.4 1294.8,926.4 1294.9,929.4 1294.9,932.4 1295,935.5 1295,938.5 1295.1,941.5 1295.2,944.6 1295.2,947.6 1295.3,950.7 1295.4,953.8 1295.4,956.9 1295.5,960 1295.6,963.2 1295.6,966.3 1295.7,969.5 1295.8,972.4 1295.8,975.2 1295.9,978.1 1296,981 1296,983.9 1296.1,986.8 1296.1,989.8 1296.2,992.7 1296.3,995.7 1296.3,998.6 1296.4,1001.6 1296.5,1004.6 1296.5,1007.6 1296.6,1010.6 1296.7,1013.6 1296.7,1016.6 1296.8,1019.7 1296.9,1022.7 1296.9,1025.7 1297,1028.8 1297.1,1031.8 1297.1,1034.9 1297.2,1037.9 1297.3,1041 1297.3,1044.1 1297.4,1047.1 1297.5,1050.2 1297.6,1053.3 1297.6,1056.3 1297.7,1059.4 1297.8,1062.5 1297.9,1065.6 1297.9,1068.6 1298,1071.7 1298.1,1074.8 1298.2,1077.8 1298.3,1080.9 1298.4,1083.9 1298.4,1087 1298.5,1090 1298.6,1093.1 1298.7,1096.1 1298.8,1099.2 1298.9,1102.2 1299,1105.2 1299.1,1108.2 1299.2,1111.2 1299.3,1114.3 1299.4,1117.3 1299.5,1120.4 1299.6,1123.4 1299.7,1126.5 1299.8,1129.5 1299.9,1132.6 1300,1135.6 1300.2,1138.7 1300.3,1141.8 1300.4,1144.9 1300.5,1147.9 1300.6,1151 1300.7,1154.1 1300.9,1157.1 1301,1160.2 1301.1,1163.3 1301.2,1166.3 1301.3,1169.4 1301.5,1172.5 1301.6,1175.5 1301.7,1178.6 1301.8,1181.6 1302,1184.7 1302.1,1187.7 1302.2,1190.7 1302.3,1193.8 1302.5,1196.8 1302.6,1199.8 1302.7,1202.8 1302.9,1205.8 1303,1208.8 1303.1,1211.8 1303.2,1214.7 1303.4,1217.7 1303.5,1220.6 1303.6,1223.6 1303.8,1226.5 1303.9,1229.4 1304,1232.3 1304.1,1235.2 1304.3,1238 1304.4,1240.9 1304.5,1244.1 1304.7,1247.3 1304.8,1250.4 1305,1253.6 1305.1,1256.7 1305.2,1259.9 1305.4,1263 1305.5,1266.2 1305.6,1269.3 1305.7,1272.4 1305.9,1275.5 1306,1278.6 1306.1,1281.7 1306.3,1284.7 1306.4,1287.8 1306.5,1290.9 1306.7,1293.9 1306.8,1296.9 1306.9,1300 1307.1,1303 1307.2,1306 1307.4,1309 1307.5,1312 1307.7,1314.9 1307.8,1317.9 1308,1320.8 1308.1,1323.7 1308.3,1326.7 1308.5,1329.6 1308.6,1332.5 1308.8,1335.3 1309,1338.2 1309.2,1341 1309.4,1343.9 1309.6,1346.7 1309.8,1349.5 1310,1352.7 1310.3,1356 1310.5,1359.2 1310.8,1362.4 1311,1365.7 1311.3,1368.9 1311.6,1372.1 1311.8,1375.3 1312.1,1378.5 1312.4,1381.6 1312.6,1384.8 1312.9,1387.9 1313.2,1391 1313.5,1394.1 1313.8,1397.2 1314.1,1400.2 1314.4,1403.2 1314.7,1406.1 1315.1,1409.1 1315.4,1411.9 1315.8,1414.8 1316.1,1417.6 1316.5,1420.3 1316.8,1423.1 1317.2,1425.7 1317.6,1428.3 1318,1430.9 1318.6,1434.5 1319.1,1438.1 1319.7,1441.7 1320.2,1445.2 1320.8,1448.6 1321.3,1452 1321.9,1455.3 1322.5,1458.5 1323.2,1461.5 1323.9,1464.4 1324.7,1467.2 1325.6,1469.7 1326.5,1472.1 1327.5,1474.3 1329.4,1477.8 1331.5,1481.1 1333.7,1483.8 1336,1485.7 1338.3,1486.5 1340.7,1485.8 1343.2,1483.8 1345.7,1481 1348.2,1477.7 1350.5,1474.3 1352,1471.9 1353.4,1469.4 1354.8,1466.6 1356.1,1463.6 1357.4,1460.6 1358.7,1457.4 1360,1454.2 1361.3,1450.9 1362.7,1447.6 1364.1,1444.4 1365.3,1441.7 1366.6,1438.9 1367.9,1436 1369.2,1433 1370.5,1430.1 1371.8,1427.1 1373.1,1424.1 1374.5,1421 1375.9,1418 1377.3,1415.1 1378.7,1412.1 1380.1,1409.3 1381.6,1406.4 1383.1,1403.7 1384.6,1401 1386.2,1398.3 1387.7,1395.7 1389.3,1393.1 1390.9,1390.5 1392.5,1387.9 1394.1,1385.4 1395.8,1382.9 1397.5,1380.5 1399.3,1378.1 1401.1,1375.7 1402.9,1373.4 1404.8,1371.2 1406.8,1368.9 1408.9,1366.6 1411,1364.4 1413.1,1362.2 1415.2,1360.1 1417.4,1358 1419.7,1356 1422,1354 1424.4,1352.1 1426.9,1350.2 1429.4,1348.4 1432,1346.7 1434.5,1345.1 1437.2,1343.6 1439.9,1342.1 1442.7,1340.7 1445.6,1339.3 1448.5,1338 1451.4,1336.7 1454.4,1335.5 1457.4,1334.3 1460.5,1333.1 1463.5,1332 1466.6,1331 1469.6,1330 1472.6,1329 1475.6,1328.1 1478.6,1327.2 1481.6,1326.5 1484.6,1325.7 1487.6,1325.1 1490.6,1324.4 1493.7,1323.8 1496.7,1323.3 1499.8,1322.7 1503,1322.2 1506.2,1321.6 1509.4,1321.1 1512.7,1320.6 1516,1320 1518.8,1319.5 1521.6,1319.1 1524.4,1318.6 1527.3,1318.2 1530.2,1317.7 1533.1,1317.3 1536.1,1316.9 1539,1316.5 1542,1316.1 1545,1315.7 1548.1,1315.3 1551.1,1314.9 1554.2,1314.5 1557.3,1314.1 1560.4,1313.7 1563.5,1313.4 1566.6,1313 1569.7,1312.7 1572.9,1312.3 1576,1312 1579,1311.7 1582,1311.4 1585,1311.1 1588.1,1310.8 1591.2,1310.5 1594.3,1310.2 1597.5,1310 1600.6,1309.7 1603.8,1309.4 1607,1309.2 1610.2,1308.9 1613.3,1308.7 1616.5,1308.5 1619.7,1308.2 1622.8,1308 1626,1307.8 1629.1,1307.6 1632.1,1307.4 1635.2,1307.2 1638.2,1307 1641.2,1306.8 1644.1,1306.6 1647,1306.4 1650.3,1306.2 1653.6,1306 1656.8,1305.8 1659.9,1305.7 1663,1305.5 1666.1,1305.3 1669.1,1305.2 1672.2,1305 1675.2,1304.9 1678.2,1304.8 1681.3,1304.7 1684.3,1304.5 1687.4,1304.4 1690.5,1304.3 1693.6,1304.2 1696.8,1304.1 1700,1304 1703,1303.9 1706.1,1303.8 1709.1,1303.7 1712.2,1303.7 1715.3,1303.6 1718.4,1303.5 1721.6,1303.5 1724.7,1303.4 1727.9,1303.4 1731.1,1303.3 1734.2,1303.3 1737.4,1303.2 1740.6,1303.2 1743.8,1303.1 1747,1303.1 1750.2,1303 1753.3,1303 1756.5,1302.9 1759.7,1302.9 1762.8,1302.8" fill="none" stroke="#0000ff" stroke-width="4.0" stroke-linejoin="round"/><path d="M1312.5,861 1312.6,864 1312.6,867 1312.7,870 1312.8,873 1312.9,876 1312.9,878.9 1313,881.9 1313.1,884.9 1313.1,887.8 1313.2,890.8 1313.3,893.8 1313.3,896.7 1313.4,899.7 1313.5,902.6 1313.5,905.6 1313.6,908.6 1313.7,911.5 1313.7,914.5 1313.8,917.5 1313.9,920.4 1313.9,923.4 1314,926.4 1314.1,929.4 1314.1,932.4 1314.2,935.5 1314.3,938.5 1314.4,941.5 1314.5,944.6 1314.5,947.6 1314.6,950.7 1314.7,953.8 1314.8,956.9 1314.9,960 1315,963.2 1315.1,966.3 1315.2,969.5 1315.3,972.4 1315.4,975.2 1315.5,978.1 1315.6,981.1 1315.7,984 1315.8,987 1315.9,989.9 1316,992.9 1316.1,995.9 1316.2,998.9 1316.3,1002 1316.4,1005 1316.5,1008 1316.6,1011.1 1316.8,1014.2 1316.9,1017.2 1317,1020.3 1317.1,1023.4 1317.2,1026.5 1317.3,1029.6 1317.5,1032.7 1317.6,1035.8 1317.7,1038.9 1317.8,1042 1318,1045.1 1318.1,1048.2 1318.2,1051.3 1318.3,1054.4 1318.5,1057.5 1318.6,1060.5 1318.7,1063.6 1318.9,1066.7 1319,1069.7 1319.1,1072.7 1319.3,1075.8 1319.4,1078.8 1319.6,1081.8 1319.7,1084.8 1319.8,1087.7 1320,1090.7 1320.1,1093.6 1320.3,1096.6 1320.4,1099.5 1320.6,1102.3 1320.7,1105.2 1320.9,1108.4 1321,1111.6 1321.2,1114.8 1321.4,1117.9 1321.5,1121.1 1321.7,1124.3 1321.9,1127.5 1322.1,1130.6 1322.2,1133.8 1322.4,1137 1322.6,1140.1 1322.8,1143.2 1322.9,1146.4 1323.1,1149.5 1323.3,1152.6 1323.5,1155.7 1323.7,1158.8 1323.9,1161.9 1324.1,1164.9 1324.3,1168 1324.4,1171 1324.6,1174 1324.8,1177 1325,1179.9 1325.2,1182.9 1325.4,1185.8 1325.6,1188.7 1325.8,1191.6 1326,1194.5 1326.2,1197.3 1326.4,1200.1 1326.7,1202.9 1326.9,1205.7 1327.1,1208.4 1327.3,1211.1 1327.5,1213.8 1327.8,1217.2 1328,1220.6 1328.3,1224 1328.6,1227.3 1328.9,1230.6 1329.1,1233.9 1329.4,1237.2 1329.7,1240.4 1329.9,1243.6 1330.2,1246.7 1330.5,1249.8 1330.8,1252.9 1331.1,1255.9 1331.4,1258.9 1331.7,1261.9 1332,1264.8 1332.4,1267.7 1332.7,1270.6 1333.1,1273.4 1333.4,1276.2 1333.8,1278.9 1334.2,1281.6 1334.7,1285.1 1335.3,1288.5 1335.8,1291.9 1336.4,1295.2 1336.9,1298.4 1337.5,1301.6 1338.1,1304.7 1338.8,1307.8 1339.4,1310.8 1340.1,1313.7 1340.8,1316.6 1341.6,1319.5 1342.4,1322.3 1343.4,1325.7 1344.4,1329.1 1345.4,1332.4 1346.4,1335.7 1347.5,1338.8 1348.7,1341.8 1350.1,1344.6 1351.5,1347.2 1353.2,1349.5 1355.5,1352.1 1358,1354.4 1360.7,1356.5 1363.5,1358.2 1366.5,1359.5 1369.5,1360.3 1372.4,1360.5 1375.3,1360.1 1378.4,1359.4 1381.5,1358.4 1384.7,1357.2 1388,1356 1391.2,1354.9 1394.1,1353.9 1397,1352.8 1399.9,1351.6 1402.8,1350.4 1405.8,1349.1 1408.8,1347.8 1411.9,1346.5 1415.1,1345.2 1418.4,1344 1421,1343 1423.8,1342 1426.5,1341 1429.4,1340 1432.3,1339 1435.2,1338 1438.2,1336.9 1441.2,1335.9 1444.2,1335 1447.2,1334 1450.2,1333.1 1453.2,1332.2 1456.2,1331.3 1459.1,1330.5 1462.2,1329.7 1465.3,1328.9 1468.4,1328.2 1471.5,1327.5 1474.6,1326.9 1477.7,1326.3 1480.8,1325.7 1483.9,1325.1 1487,1324.5 1490.2,1324 1493.4,1323.4 1496.6,1322.9 1499.8,1322.3 1502.8,1321.8 1505.8,1321.3 1508.7,1320.8 1511.7,1320.4 1514.7,1319.9 1517.6,1319.5 1520.7,1319 1523.7,1318.6 1526.8,1318.2 1529.9,1317.8 1533.2,1317.3 1536.5,1316.9 1539.9,1316.5 1543.4,1316 1547,1315.6 1549.5,1315.3 1552.2,1315 1554.8,1314.6 1557.6,1314.3 1560.4,1314 1563.3,1313.6 1566.3,1313.3 1569.3,1312.9 1572.3,1312.6 1575.4,1312.2 1578.5,1311.9 1581.6,1311.5 1584.8,1311.2 1588,1310.8 1591.2,1310.5 1594.4,1310.2 1597.6,1309.8 1600.8,1309.5 1604,1309.2 1607.2,1308.8 1610.4,1308.5 1613.5,1308.2 1616.7,1307.9 1619.7,1307.6 1622.8,1307.4 1625.8,1307.1 1628.8,1306.9 1631.7,1306.6 1634.5,1306.4 1637.3,1306.2 1640,1306 1643.3,1305.8 1646.5,1305.6 1649.7,1305.4 1652.8,1305.3 1655.9,1305.1 1658.9,1305 1661.9,1304.9 1664.9,1304.8 1667.8,1304.7 1670.7,1304.6 1673.6,1304.6 1676.5,1304.5 1679.4,1304.4 1682.3,1304.4 1685.2,1304.3 1688.1,1304.3 1691,1304.2 1694,1304.1 1697,1304.1 1700,1304 1703.1,1303.9 1706.2,1303.8 1709.3,1303.8 1712.5,1303.7 1715.6,1303.6 1718.7,1303.6 1721.9,1303.5 1725,1303.5 1728.2,1303.4 1731.3,1303.3 1734.5,1303.3 1737.6,1303.2 1740.8,1303.2 1743.9,1303.1 1747.1,1303.1 1750.2,1303 1753.4,1303 1756.5,1302.9 1759.7,1302.9 1762.8,1302.8" fill="none" stroke="#008000" stroke-width="4.0" stroke-linejoin="round"/></g>
<clipPath id="cp4"><rect x="229" y="1655.5" width="738" height="668.3"/></clipPath>
<g clip-path="url(#cp4)"><line x1="770.4" y1="1793.3" x2="761.9" y2="1761.1" stroke="#858585" stroke-width="14"/><line x1="770.4" y1="1793.3" x2="761.9" y2="1761.1" stroke="#e2e2e2" stroke-width="10"/><line x1="770.4" y1="1793.3" x2="761.9" y2="1761.1" stroke="#f8f8f8" stroke-width="4"/><circle cx="761.9" cy="1761.1" r="11" fill="url(#gH)" stroke="#707070" stroke-width="2.3"/><line x1="770.4" y1="1793.3" x2="741.5" y2="1852.6" stroke="#858585" stroke-width="16"/><line x1="770.4" y1="1793.3" x2="741.5" y2="1852.6" stroke="#e2e2e2" stroke-width="12"/><line x1="770.4" y1="1793.3" x2="741.5" y2="1852.6" stroke="#f8f8f8" stroke-width="4.8"/><circle cx="741.5" cy="1852.6" r="11" fill="url(#gH)" stroke="#707070" stroke-width="2.3"/><line x1="770.4" y1="1793.3" x2="863.7" y2="1803.5" stroke="#858585" stroke-width="26"/><line x1="770.4" y1="1793.3" x2="863.7" y2="1803.5" stroke="#e2e2e2" stroke-width="22"/><line x1="770.4" y1="1793.3" x2="863.7" y2="1803.5" stroke="#f8f8f8" stroke-width="8.8"/><circle cx="770.4" cy="1793.3" r="22.7" fill="url(#gN)" stroke="#2f5f70" stroke-width="2.4"/><line x1="863.7" y1="1803.5" x2="892.5" y2="1739" stroke="#858585" stroke-width="16"/><line x1="863.7" y1="1803.5" x2="892.5" y2="1739" stroke="#e2e2e2" stroke-width="12"/><line x1="863.7" y1="1803.5" x2="892.5" y2="1739" stroke="#f8f8f8" stroke-width="4.8"/><circle cx="892.5" cy="1739" r="11" fill="url(#gH)" stroke="#707070" stroke-width="2.3"/><line x1="863.7" y1="1803.5" x2="870.5" y2="1840.8" stroke="#858585" stroke-width="14"/><line x1="863.7" y1="1803.5" x2="870.5" y2="1840.8" stroke="#e2e2e2" stroke-width="10"/><line x1="863.7" y1="1803.5" x2="870.5" y2="1840.8" stroke="#f8f8f8" stroke-width="4"/><circle cx="870.5" cy="1840.8" r="10" fill="url(#gH)" stroke="#707070" stroke-width="2.3"/><circle cx="863.7" cy="1803.5" r="22" fill="url(#gC)" stroke="#6a4010" stroke-width="2.4"/><line x1="863.7" y1="1803.5" x2="899.3" y2="1840.8" stroke="#5e5e5e" stroke-width="14"/><line x1="863.7" y1="1803.5" x2="899.3" y2="1840.8" stroke="#9a9a9a" stroke-width="10"/><line x1="863.7" y1="1803.5" x2="899.3" y2="1840.8" stroke="#b8b8b8" stroke-width="4"/><circle cx="899.3" cy="1840.8" r="11" fill="url(#gH)" stroke="#707070" stroke-width="2.3"/><line x1="555" y1="1879.8" x2="563.5" y2="1808.5" stroke="#858585" stroke-width="16"/><line x1="555" y1="1879.8" x2="563.5" y2="1808.5" stroke="#e2e2e2" stroke-width="12"/><line x1="555" y1="1879.8" x2="563.5" y2="1808.5" stroke="#f8f8f8" stroke-width="4.8"/><circle cx="563.5" cy="1808.5" r="11" fill="url(#gH)" stroke="#707070" stroke-width="2.3"/><line x1="555" y1="1879.8" x2="490.5" y2="1896.7" stroke="#858585" stroke-width="16"/><line x1="555" y1="1879.8" x2="490.5" y2="1896.7" stroke="#e2e2e2" stroke-width="12"/><line x1="555" y1="1879.8" x2="490.5" y2="1896.7" stroke="#f8f8f8" stroke-width="4.8"/><circle cx="490.5" cy="1896.7" r="11" fill="url(#gH)" stroke="#707070" stroke-width="2.3"/><line x1="612.6" y1="1891.7" x2="588.9" y2="1915.4" stroke="#858585" stroke-width="14"/><line x1="612.6" y1="1891.7" x2="588.9" y2="1915.4" stroke="#e2e2e2" stroke-width="10"/><line x1="612.6" y1="1891.7" x2="588.9" y2="1915.4" stroke="#f8f8f8" stroke-width="4"/><circle cx="588.9" cy="1915.4" r="10" fill="url(#gH)" stroke="#707070" stroke-width="2.3"/><circle cx="555" cy="1879.8" r="22" fill="url(#gC)" stroke="#6a4010" stroke-width="2.4"/><line x1="612.6" y1="1891.7" x2="690.7" y2="1930.7" stroke="#858585" stroke-width="24"/><line x1="612.6" y1="1891.7" x2="690.7" y2="1930.7" stroke="#e2e2e2" stroke-width="20"/><line x1="612.6" y1="1891.7" x2="690.7" y2="1930.7" stroke="#f8f8f8" stroke-width="8"/><circle cx="612.6" cy="1891.7" r="22" fill="url(#gC)" stroke="#6a4010" stroke-width="2.4"/><line x1="690.7" y1="1930.7" x2="714.4" y2="1951" stroke="#858585" stroke-width="14"/><line x1="690.7" y1="1930.7" x2="714.4" y2="1951" stroke="#e2e2e2" stroke-width="10"/><line x1="690.7" y1="1930.7" x2="714.4" y2="1951" stroke="#f8f8f8" stroke-width="4"/><circle cx="714.4" cy="1951" r="10" fill="url(#gH)" stroke="#707070" stroke-width="2.3"/><circle cx="690.7" cy="1930.7" r="22.5" fill="url(#gN)" stroke="#2f5f70" stroke-width="2.4"/><line x1="690.7" y1="1930.7" x2="728" y2="1937.5" stroke="#5e5e5e" stroke-width="14"/><line x1="690.7" y1="1930.7" x2="728" y2="1937.5" stroke="#9a9a9a" stroke-width="10"/><line x1="690.7" y1="1930.7" x2="728" y2="1937.5" stroke="#b8b8b8" stroke-width="4"/><circle cx="728" cy="1937.5" r="11" fill="url(#gH)" stroke="#707070" stroke-width="2.3"/><circle cx="587.2" cy="1866.2" r="22.7" fill="url(#gO)" stroke="#600000" stroke-width="2.4"/><g fill="none" stroke="#000" stroke-width="3.0"><circle cx="332.6" cy="1693" r="9.6"/><circle cx="340.7" cy="1783.9" r="9.6"/><circle cx="343.4" cy="1858.5" r="9.6"/><circle cx="350.2" cy="1969.8" r="9.6"/><circle cx="357" cy="2043" r="9.6"/><circle cx="362.4" cy="2087.8" r="9.6"/><circle cx="369.2" cy="2108.2" r="9.6"/><circle cx="377.3" cy="2121.8" r="9.6"/><circle cx="381.4" cy="2127.2" r="9.6"/><circle cx="385" cy="2125" r="9.6"/><circle cx="392.3" cy="2119" r="9.6"/><circle cx="407.2" cy="2105.5" r="9.6"/><circle cx="419.4" cy="2086.5" r="9.6"/><circle cx="437" cy="2062" r="9.6"/><circle cx="460.1" cy="2045.8" r="9.6"/><circle cx="476.4" cy="2040.3" r="9.6"/><circle cx="506.2" cy="2025.4" r="9.6"/><circle cx="536.3" cy="2017.2" r="9.6"/><circle cx="597.4" cy="2013.8" r="9.6"/><circle cx="660.1" cy="2012.1" r="9.6"/><circle cx="721.2" cy="2011.4" r="9.6"/><circle cx="782.2" cy="2010.4" r="9.6"/><circle cx="843.3" cy="2010.4" r="9.6"/></g><path d="M348.8,1655 348.9,1658 349,1661 349.1,1664 349.2,1666.9 349.3,1669.9 349.4,1672.9 349.5,1675.8 349.6,1678.8 349.7,1681.7 349.8,1684.6 349.9,1687.6 350,1690.5 350.1,1693.5 350.2,1696.4 350.3,1699.4 350.4,1702.4 350.5,1705.4 350.6,1708.4 350.7,1711.4 350.8,1714.5 350.9,1717.5 351,1720.6 351.2,1723.7 351.3,1726.8 351.4,1730 351.5,1733.2 351.6,1736.4 351.7,1739.2 351.8,1742.1 351.9,1745 352,1747.9 352.1,1750.8 352.2,1753.8 352.3,1756.8 352.4,1759.8 352.5,1762.8 352.6,1765.9 352.7,1768.9 352.8,1772 352.9,1775.1 353,1778.2 353.1,1781.3 353.2,1784.5 353.3,1787.6 353.4,1790.7 353.5,1793.8 353.6,1797 353.7,1800.1 353.8,1803.2 353.9,1806.3 354,1809.4 354.2,1812.5 354.3,1815.5 354.4,1818.6 354.5,1821.6 354.7,1824.6 354.8,1827.6 354.9,1830.6 355,1833.5 355.2,1836.5 355.3,1839.3 355.5,1842.2 355.6,1845 355.8,1848.2 355.9,1851.4 356.1,1854.7 356.3,1857.8 356.5,1861 356.6,1864.2 356.8,1867.4 357,1870.5 357.2,1873.6 357.4,1876.7 357.6,1879.8 357.8,1882.9 357.9,1886 358.1,1889 358.3,1892 358.6,1895 358.8,1898 359,1900.9 359.2,1903.9 359.4,1906.8 359.6,1909.7 359.9,1912.5 360.1,1915.3 360.3,1918.2 360.6,1920.9 360.8,1923.7 361.1,1926.4 361.4,1929.7 361.7,1933 362.1,1936.2 362.4,1939.3 362.7,1942.5 363.1,1945.6 363.4,1948.7 363.8,1951.7 364.1,1954.7 364.5,1957.7 364.9,1960.6 365.3,1963.5 365.7,1966.4 366.1,1969.3 366.5,1972.2 366.9,1975 367.4,1977.8 367.8,1980.6 368.4,1984 368.9,1987.3 369.5,1990.6 370.1,1993.9 370.7,1997.2 371.3,2000.4 371.9,2003.6 372.6,2006.7 373.2,2009.8 373.9,2012.8 374.6,2015.7 375.3,2018.5 376,2021.3 376.9,2024.8 377.7,2028.4 378.6,2031.8 379.5,2035.2 380.4,2038.3 381.5,2041.2 382.7,2043.7 384.1,2045.8 387,2048.6 390.3,2050.4 393.6,2051.2 396.7,2050.7 399.9,2049.1 403.1,2047.1 405.3,2045.5 407.4,2043.5 409.6,2041.3 411.8,2039 414.2,2036.8 416.7,2034.9 419.1,2033.3 421.7,2031.8 424.3,2030.3 427,2029 429.8,2027.7 432.7,2026.5 435.7,2025.4 438.4,2024.5 441.2,2023.8 444.1,2023.1 447,2022.5 450,2022 453.1,2021.4 456.3,2021 459.5,2020.5 462.8,2020 465.6,2019.6 468.5,2019.2 471.4,2018.9 474.4,2018.5 477.4,2018.2 480.4,2017.9 483.5,2017.6 486.7,2017.3 489.9,2017 493.2,2016.7 496.6,2016.5 500,2016.2 503.5,2015.9 506.2,2015.7 508.9,2015.5 511.7,2015.3 514.5,2015.1 517.3,2014.8 520.2,2014.6 523.1,2014.4 526,2014.2 529,2014.1 532,2013.9 535,2013.7 538.1,2013.5 541.2,2013.3 544.4,2013.1 547.6,2013 550.9,2012.8 554.2,2012.6 557.5,2012.5 560.9,2012.3 564.4,2012.2 567.8,2012 571.4,2011.9 574,2011.8 576.6,2011.7 579.3,2011.6 582,2011.5 584.8,2011.5 587.6,2011.4 590.4,2011.3 593.2,2011.2 596.1,2011.2 599,2011.1 602,2011.1 605,2011 608,2010.9 611,2010.9 614,2010.8 617.1,2010.8 620.2,2010.7 623.3,2010.7 626.4,2010.6 629.6,2010.6 632.7,2010.6 635.9,2010.5 639.1,2010.5 642.3,2010.5 645.5,2010.4 648.7,2010.4 651.9,2010.4 655.1,2010.3 658.3,2010.3 661.6,2010.3 664.8,2010.2 668,2010.2 671.2,2010.2 674.5,2010.2 677.7,2010.2 680.9,2010.1 684.1,2010.1 687.3,2010.1 690.5,2010.1 693.7,2010 696.8,2010 700,2010 703,2010 705.9,2010 708.9,2009.9 711.9,2009.9 714.9,2009.9 717.9,2009.9 720.9,2009.9 723.9,2009.9 727,2009.9 730,2009.9 733,2009.9 736,2009.9 739.1,2009.9 742.1,2009.9 745.2,2009.9 748.2,2009.9 751.3,2009.9 754.3,2009.9 757.4,2009.9 760.4,2009.9 763.5,2009.9 766.6,2009.9 769.6,2010 772.7,2010 775.8,2010 778.8,2010 781.9,2010 785,2010 788.1,2010 791.1,2010 794.2,2010 797.3,2010.1 800.4,2010.1 803.4,2010.1 806.5,2010.1 809.6,2010.1 812.7,2010.1 815.7,2010.1 818.8,2010.1 821.9,2010.1 825,2010.2 828,2010.2 831.1,2010.2 834.1,2010.2 837.2,2010.2 840.2,2010.2 843.3,2010.2" fill="none" stroke="#ff0000" stroke-width="4.0" stroke-linejoin="round"/><path d="M342.9,1655 343,1658 343,1661 343.1,1664 343.1,1666.9 343.2,1669.9 343.2,1672.8 343.3,1675.8 343.3,1678.7 343.3,1681.6 343.4,1684.5 343.4,1687.4 343.5,1690.4 343.5,1693.3 343.6,1696.2 343.6,1699.1 343.7,1702 343.7,1704.9 343.8,1707.9 343.8,1710.8 343.9,1713.8 343.9,1716.7 344,1719.7 344,1722.7 344.1,1725.7 344.1,1728.7 344.2,1731.8 344.2,1734.8 344.3,1737.9 344.4,1741 344.4,1744.1 344.5,1747.3 344.5,1750.5 344.6,1753.7 344.7,1756.9 344.7,1760.2 344.8,1763.5 344.9,1766.2 344.9,1769 345,1771.8 345,1774.7 345.1,1777.5 345.2,1780.5 345.2,1783.4 345.3,1786.4 345.3,1789.4 345.4,1792.4 345.5,1795.5 345.5,1798.6 345.6,1801.7 345.7,1804.8 345.7,1807.9 345.8,1811.1 345.9,1814.2 345.9,1817.4 346,1820.6 346.1,1823.8 346.1,1827 346.2,1830.3 346.3,1833.5 346.3,1836.7 346.4,1839.9 346.5,1843.2 346.6,1846.4 346.6,1849.6 346.7,1852.8 346.8,1856 346.9,1859.2 346.9,1862.4 347,1865.6 347.1,1868.8 347.2,1871.9 347.2,1875 347.3,1878.1 347.4,1881.2 347.5,1884.3 347.6,1887.3 347.7,1890.3 347.7,1893.3 347.8,1896.3 347.9,1899.2 348,1902.1 348.1,1905 348.2,1907.8 348.3,1910.6 348.3,1913.3 348.4,1916 348.5,1918.7 348.6,1921.3 348.7,1923.9 348.8,1926.4 348.9,1929.9 349.1,1933.3 349.2,1936.7 349.4,1940 349.5,1943.2 349.6,1946.4 349.8,1949.5 349.9,1952.6 350.1,1955.6 350.2,1958.6 350.4,1961.6 350.5,1964.5 350.7,1967.4 350.9,1970.3 351,1973.2 351.2,1976 351.3,1978.9 351.5,1981.7 351.7,1984.5 351.8,1987.4 352,1990.2 352.1,1993.1 352.3,1996 352.4,1998.9 352.6,2001.8 352.7,2004.8 352.9,2007.8 353.1,2010.8 353.2,2013.8 353.3,2016.8 353.5,2019.9 353.6,2022.9 353.8,2025.9 353.9,2028.9 354,2031.9 354.2,2034.9 354.3,2038 354.4,2041 354.6,2044 354.7,2047 354.9,2050 355,2053 355.1,2056 355.3,2059.1 355.4,2062.1 355.6,2065.1 355.7,2068.1 355.9,2071.1 356.1,2074.1 356.2,2077.1 356.4,2080.2 356.6,2083.2 356.8,2086.2 357,2089.2 357.2,2092.2 357.4,2095.3 357.6,2098.4 357.8,2101.5 358,2104.6 358.3,2107.7 358.5,2110.8 358.7,2114 358.9,2117.1 359.1,2120.3 359.4,2123.4 359.6,2126.5 359.9,2129.7 360.1,2132.8 360.4,2135.9 360.6,2138.9 360.9,2142 361.1,2145 361.4,2148 361.7,2151 362,2153.9 362.3,2156.8 362.5,2159.7 362.9,2162.5 363.2,2165.2 363.5,2167.9 363.8,2170.6 364.2,2174.1 364.6,2177.5 365,2180.9 365.4,2184.3 365.8,2187.7 366.3,2191 366.7,2194.3 367.1,2197.5 367.6,2200.7 368.1,2203.7 368.6,2206.6 369.2,2209.4 369.8,2212.1 370.4,2214.7 371.1,2217.1 371.9,2219.4 373.3,2223.1 374.8,2226.8 376.5,2230.2 378.1,2233.1 379.8,2235 381.4,2235.7 383.1,2234.9 384.8,2232.6 386.4,2229.5 388,2225.9 389.6,2222.2 390.5,2220 391.4,2217.5 392.3,2215 393.1,2212.2 393.9,2209.4 394.7,2206.4 395.5,2203.4 396.3,2200.3 397.1,2197.1 397.9,2193.9 398.7,2190.6 399.6,2187.4 400.4,2184.2 401.1,2181.4 401.9,2178.6 402.6,2175.6 403.3,2172.6 404.1,2169.6 404.8,2166.5 405.5,2163.4 406.3,2160.3 407,2157.1 407.8,2154 408.5,2150.9 409.3,2147.7 410.1,2144.7 410.8,2141.6 411.6,2138.6 412.4,2135.6 413.2,2132.7 414,2129.9 414.9,2126.8 415.8,2123.7 416.7,2120.6 417.6,2117.6 418.5,2114.6 419.4,2111.6 420.3,2108.7 421.3,2105.8 422.2,2102.9 423.2,2100.1 424.2,2097.3 425.3,2094.6 426.4,2091.9 427.5,2089.2 428.8,2086.2 430.1,2083.3 431.5,2080.4 432.9,2077.5 434.3,2074.7 435.8,2071.9 437.3,2069.3 438.9,2066.6 440.5,2064.1 442.1,2061.7 443.8,2059.3 445.9,2056.5 448.1,2053.9 450.3,2051.3 452.6,2048.8 455,2046.5 457.5,2044.3 460.1,2042.2 462.8,2040.3 465.5,2038.7 468.2,2037.2 471.1,2035.9 474,2034.7 477.1,2033.5 480.2,2032.5 483.4,2031.5 486.7,2030.5 490,2029.5 492.8,2028.7 495.8,2027.9 498.8,2027.2 501.8,2026.4 505,2025.8 508.2,2025.1 511.4,2024.5 514.6,2023.9 517.9,2023.3 521.1,2022.8 524.3,2022.2 527.5,2021.8 530.7,2021.3 533.8,2020.9 536.7,2020.5 539.6,2020.2 542.4,2019.9 545.3,2019.7 548.2,2019.4 551.1,2019.2 554.1,2019 557.2,2018.8 560.4,2018.6 563.9,2018.4 567.5,2018.2 571.4,2018 573.6,2017.9 576,2017.7 578.3,2017.6 580.8,2017.5 583.3,2017.4 585.9,2017.3 588.6,2017.1 591.3,2017 594.1,2016.9 596.9,2016.8 599.8,2016.7 602.7,2016.5 605.7,2016.4 608.7,2016.3 611.7,2016.2 614.8,2016.1 617.9,2016 621.1,2015.9 624.3,2015.8 627.5,2015.6 630.8,2015.5 634,2015.4 637.3,2015.3 640.6,2015.2 643.9,2015.1 647.3,2015 650.6,2014.9 653.9,2014.8 657.3,2014.7 660.6,2014.6 664,2014.5 667.3,2014.4 670.7,2014.3 674,2014.2 677.3,2014.1 680.6,2014 683.9,2013.9 687.2,2013.9 690.4,2013.8 693.6,2013.7 696.8,2013.6 700,2013.5 703,2013.4 705.9,2013.3 708.9,2013.3 711.9,2013.2 714.9,2013.1 717.9,2013 720.9,2013 723.9,2012.9 727,2012.8 730,2012.8 733,2012.7 736,2012.6 739.1,2012.6 742.1,2012.5 745.2,2012.4 748.2,2012.4 751.3,2012.3 754.3,2012.3 757.4,2012.2 760.4,2012.1 763.5,2012.1 766.6,2012 769.6,2012 772.7,2011.9 775.8,2011.8 778.8,2011.8 781.9,2011.7 785,2011.7 788.1,2011.6 791.1,2011.6 794.2,2011.5 797.3,2011.5 800.4,2011.4 803.4,2011.3 806.5,2011.3 809.6,2011.2 812.7,2011.2 815.7,2011.1 818.8,2011.1 821.9,2011 825,2011 828,2010.9 831.1,2010.8 834.1,2010.8 837.2,2010.7 840.2,2010.7 843.3,2010.6" fill="none" stroke="#0000ff" stroke-width="4.0" stroke-linejoin="round"/><path d="M338,1655 338.1,1658 338.1,1661 338.2,1664 338.3,1667.1 338.4,1670.1 338.4,1673.1 338.5,1676.1 338.5,1679.1 338.6,1682.1 338.7,1685.1 338.7,1688.2 338.8,1691.2 338.9,1694.2 338.9,1697.2 339,1700.2 339.1,1703.2 339.1,1706.2 339.2,1709.3 339.2,1712.3 339.3,1715.3 339.4,1718.3 339.5,1721.3 339.5,1724.3 339.6,1727.3 339.7,1730.3 339.8,1733.4 339.8,1736.4 339.9,1739.4 340,1742.4 340.1,1745.4 340.2,1748.4 340.3,1751.4 340.4,1754.5 340.5,1757.5 340.6,1760.5 340.7,1763.5 340.8,1766.5 340.9,1769.5 341.1,1772.6 341.2,1775.6 341.3,1778.6 341.4,1781.6 341.6,1784.6 341.7,1787.6 341.8,1790.7 342,1793.7 342.1,1796.7 342.2,1799.7 342.4,1802.7 342.5,1805.7 342.7,1808.8 342.8,1811.8 343,1814.8 343.1,1817.8 343.3,1820.8 343.5,1823.8 343.6,1826.9 343.8,1829.9 343.9,1832.9 344.1,1835.9 344.3,1838.9 344.4,1841.9 344.6,1845 344.8,1848 344.9,1851 345.1,1854 345.3,1857 345.4,1860 345.6,1863.1 345.8,1866.1 345.9,1869.1 346.1,1872.1 346.3,1875.1 346.4,1878.2 346.6,1881.2 346.8,1884.3 347,1887.4 347.1,1890.5 347.3,1893.6 347.5,1896.7 347.7,1899.8 347.8,1903 348,1906.1 348.2,1909.2 348.4,1912.3 348.6,1915.5 348.7,1918.6 348.9,1921.7 349.1,1924.8 349.3,1927.9 349.5,1931 349.7,1934.1 349.9,1937.2 350,1940.3 350.2,1943.3 350.4,1946.3 350.6,1949.3 350.8,1952.3 351,1955.3 351.2,1958.2 351.4,1961.1 351.6,1964 351.8,1966.8 352,1969.7 352.3,1972.4 352.5,1975.2 352.7,1977.9 352.9,1980.6 353.2,1984 353.4,1987.5 353.7,1990.9 354,1994.3 354.2,1997.6 354.5,2001 354.7,2004.3 355,2007.5 355.2,2010.8 355.5,2014 355.7,2017.1 356,2020.3 356.3,2023.3 356.6,2026.4 356.9,2029.3 357.2,2032.3 357.6,2035.1 358,2037.9 358.4,2040.7 358.8,2043.3 359.2,2046 359.7,2048.5 360.4,2052 361.2,2055.4 362,2058.6 362.8,2061.8 363.7,2064.9 364.5,2067.8 365.4,2070.7 366.4,2073.4 367.3,2076.1 368.3,2078.6 369.2,2081 370.7,2084.6 372.1,2088 373.7,2091 375.3,2093.8 377,2096 380.4,2099 384,2100.5 388,2099.6 392,2097 393.8,2095 395.5,2092.6 397,2089.8 398.6,2086.8 400.4,2083.8 401.9,2081.3 403.5,2078.6 405.1,2075.8 406.8,2072.9 408.5,2070.1 410.3,2067.2 412.1,2064.5 414,2062 416.1,2059.4 418.3,2056.9 420.5,2054.5 422.8,2052.1 425.2,2049.9 427.7,2047.8 430.3,2045.8 432.8,2044.2 435.4,2042.6 438,2041.2 440.8,2039.9 443.6,2038.6 446.4,2037.4 449.2,2036.2 452,2035 455,2033.7 458,2032.4 461.1,2031.2 464.1,2030 467.2,2028.8 470.4,2027.8 473.7,2026.8 476.4,2026.1 479.2,2025.4 482.1,2024.8 485,2024.2 488,2023.7 491,2023.2 494,2022.7 497.1,2022.2 500.3,2021.8 503.5,2021.3 506.4,2020.9 509.3,2020.5 512.3,2020.2 515.3,2019.8 518.4,2019.5 521.5,2019.2 524.6,2018.9 527.8,2018.6 531,2018.3 534.3,2018.1 537.5,2017.8 540.9,2017.6 544.2,2017.3 547,2017.1 549.8,2016.9 552.6,2016.7 555.4,2016.5 558.2,2016.4 561.1,2016.2 564,2016 566.9,2015.9 569.8,2015.7 572.8,2015.6 575.8,2015.5 578.9,2015.3 582,2015.2 585.1,2015.1 588.4,2015 591.7,2014.8 595.1,2014.7 598.5,2014.6 601.1,2014.5 603.8,2014.4 606.5,2014.4 609.2,2014.3 612,2014.2 614.8,2014.1 617.6,2014.1 620.5,2014 623.4,2014 626.4,2013.9 629.4,2013.8 632.4,2013.8 635.4,2013.7 638.4,2013.7 641.5,2013.6 644.6,2013.6 647.8,2013.5 650.9,2013.5 654.1,2013.5 657.3,2013.4 660.5,2013.4 663.7,2013.3 666.9,2013.3 670.2,2013.2 673.5,2013.2 676.8,2013.1 680.1,2013.1 683.4,2013.1 686.7,2013 690,2013 693.3,2012.9 696.7,2012.9 700,2012.8 702.8,2012.8 705.6,2012.7 708.5,2012.7 711.3,2012.6 714.2,2012.6 717.1,2012.5 720,2012.5 722.9,2012.4 725.9,2012.4 728.9,2012.3 731.8,2012.3 734.8,2012.2 737.9,2012.2 740.9,2012.1 743.9,2012.1 747,2012.1 750,2012 753.1,2012 756.2,2011.9 759.2,2011.9 762.3,2011.8 765.4,2011.8 768.6,2011.7 771.7,2011.7 774.8,2011.6 777.9,2011.6 781,2011.5 784.2,2011.5 787.3,2011.4 790.4,2011.4 793.6,2011.4 796.7,2011.3 799.8,2011.3 803,2011.2 806.1,2011.2 809.2,2011.1 812.4,2011.1 815.5,2011 818.6,2011 821.7,2010.9 824.8,2010.9 827.9,2010.8 831,2010.8 834.1,2010.7 837.2,2010.7 840.2,2010.6 843.3,2010.6" fill="none" stroke="#008000" stroke-width="4.0" stroke-linejoin="round"/></g>
<clipPath id="cp5"><rect x="1146.8" y="1655.5" width="738.9" height="668.3"/></clipPath>
<g clip-path="url(#cp5)"><line x1="1717.8" y1="2062.7" x2="1706.3" y2="2024.9" stroke="#858585" stroke-width="14"/><line x1="1717.8" y1="2062.7" x2="1706.3" y2="2024.9" stroke="#e2e2e2" stroke-width="10"/><line x1="1717.8" y1="2062.7" x2="1706.3" y2="2024.9" stroke="#f8f8f8" stroke-width="4"/><circle cx="1706.3" cy="2024.9" r="10" fill="url(#gH)" stroke="#707070" stroke-width="2.3"/><line x1="1717.8" y1="2062.7" x2="1692.6" y2="2038.5" stroke="#858585" stroke-width="14"/><line x1="1717.8" y1="2062.7" x2="1692.6" y2="2038.5" stroke="#e2e2e2" stroke-width="10"/><line x1="1717.8" y1="2062.7" x2="1692.6" y2="2038.5" stroke="#f8f8f8" stroke-width="4"/><circle cx="1692.6" cy="2038.5" r="10" fill="url(#gH)" stroke="#707070" stroke-width="2.3"/><line x1="1717.8" y1="2062.7" x2="1804.6" y2="2067.3" stroke="#858585" stroke-width="24"/><line x1="1717.8" y1="2062.7" x2="1804.6" y2="2067.3" stroke="#e2e2e2" stroke-width="20"/><line x1="1717.8" y1="2062.7" x2="1804.6" y2="2067.3" stroke="#f8f8f8" stroke-width="8"/><circle cx="1717.8" cy="2062.7" r="21" fill="url(#gN)" stroke="#2f5f70" stroke-width="2.4"/><line x1="1804.6" y1="2067.3" x2="1833.3" y2="2008.3" stroke="#858585" stroke-width="15"/><line x1="1804.6" y1="2067.3" x2="1833.3" y2="2008.3" stroke="#e2e2e2" stroke-width="11"/><line x1="1804.6" y1="2067.3" x2="1833.3" y2="2008.3" stroke="#f8f8f8" stroke-width="4.4"/><circle cx="1833.3" cy="2008.3" r="10" fill="url(#gH)" stroke="#707070" stroke-width="2.3"/><line x1="1804.6" y1="2067.3" x2="1833.3" y2="2094.5" stroke="#858585" stroke-width="14"/><line x1="1804.6" y1="2067.3" x2="1833.3" y2="2094.5" stroke="#e2e2e2" stroke-width="10"/><line x1="1804.6" y1="2067.3" x2="1833.3" y2="2094.5" stroke="#f8f8f8" stroke-width="4"/><circle cx="1833.3" cy="2094.5" r="10" fill="url(#gH)" stroke="#707070" stroke-width="2.3"/><circle cx="1804.6" cy="2067.3" r="21" fill="url(#gC)" stroke="#6a4010" stroke-width="2.4"/><line x1="1804.6" y1="2067.3" x2="1816.7" y2="2103.6" stroke="#5e5e5e" stroke-width="14"/><line x1="1804.6" y1="2067.3" x2="1816.7" y2="2103.6" stroke="#9a9a9a" stroke-width="10"/><line x1="1804.6" y1="2067.3" x2="1816.7" y2="2103.6" stroke="#b8b8b8" stroke-width="4"/><circle cx="1816.7" cy="2103.6" r="10" fill="url(#gH)" stroke="#707070" stroke-width="2.3"/><line x1="1523.2" y1="2114.2" x2="1564" y2="2064.2" stroke="#858585" stroke-width="15"/><line x1="1523.2" y1="2114.2" x2="1564" y2="2064.2" stroke="#e2e2e2" stroke-width="11"/><line x1="1523.2" y1="2114.2" x2="1564" y2="2064.2" stroke="#f8f8f8" stroke-width="4.4"/><circle cx="1564" cy="2064.2" r="10" fill="url(#gH)" stroke="#707070" stroke-width="2.3"/><line x1="1523.2" y1="2114.2" x2="1479.3" y2="2102.1" stroke="#858585" stroke-width="14"/><line x1="1523.2" y1="2114.2" x2="1479.3" y2="2102.1" stroke="#e2e2e2" stroke-width="10"/><line x1="1523.2" y1="2114.2" x2="1479.3" y2="2102.1" stroke="#f8f8f8" stroke-width="4"/><circle cx="1479.3" cy="2102.1" r="10" fill="url(#gH)" stroke="#707070" stroke-width="2.3"/><line x1="1523.2" y1="2114.2" x2="1489.9" y2="2118.7" stroke="#858585" stroke-width="14"/><line x1="1523.2" y1="2114.2" x2="1489.9" y2="2118.7" stroke="#e2e2e2" stroke-width="10"/><line x1="1523.2" y1="2114.2" x2="1489.9" y2="2118.7" stroke="#f8f8f8" stroke-width="4"/><circle cx="1489.9" cy="2118.7" r="10" fill="url(#gH)" stroke="#707070" stroke-width="2.3"/><line x1="1523.2" y1="2114.2" x2="1565.6" y2="2192.8" stroke="#858585" stroke-width="20"/><line x1="1523.2" y1="2114.2" x2="1565.6" y2="2192.8" stroke="#e2e2e2" stroke-width="16"/><line x1="1523.2" y1="2114.2" x2="1565.6" y2="2192.8" stroke="#f8f8f8" stroke-width="6.4"/><circle cx="1523.2" cy="2114.2" r="21" fill="url(#gC)" stroke="#6a4010" stroke-width="2.4"/><line x1="1565.6" y1="2192.8" x2="1533.8" y2="2256.4" stroke="#858585" stroke-width="18"/><line x1="1565.6" y1="2192.8" x2="1533.8" y2="2256.4" stroke="#e2e2e2" stroke-width="14"/><line x1="1565.6" y1="2192.8" x2="1533.8" y2="2256.4" stroke="#f8f8f8" stroke-width="5.6"/><circle cx="1533.8" cy="2256.4" r="22" fill="url(#gO)" stroke="#600000" stroke-width="2.4"/><line x1="1565.6" y1="2192.8" x2="1647.3" y2="2188.3" stroke="#858585" stroke-width="22"/><line x1="1565.6" y1="2192.8" x2="1647.3" y2="2188.3" stroke="#e2e2e2" stroke-width="18"/><line x1="1565.6" y1="2192.8" x2="1647.3" y2="2188.3" stroke="#f8f8f8" stroke-width="7.2"/><circle cx="1565.6" cy="2192.8" r="21" fill="url(#gC)" stroke="#6a4010" stroke-width="2.4"/><line x1="1647.3" y1="2188.3" x2="1674.5" y2="2136.9" stroke="#858585" stroke-width="15"/><line x1="1647.3" y1="2188.3" x2="1674.5" y2="2136.9" stroke="#e2e2e2" stroke-width="11"/><line x1="1647.3" y1="2188.3" x2="1674.5" y2="2136.9" stroke="#f8f8f8" stroke-width="4.4"/><circle cx="1674.5" cy="2136.9" r="10" fill="url(#gH)" stroke="#707070" stroke-width="2.3"/><line x1="1647.3" y1="2188.3" x2="1677.5" y2="2239.7" stroke="#858585" stroke-width="15"/><line x1="1647.3" y1="2188.3" x2="1677.5" y2="2239.7" stroke="#e2e2e2" stroke-width="11"/><line x1="1647.3" y1="2188.3" x2="1677.5" y2="2239.7" stroke="#f8f8f8" stroke-width="4.4"/><circle cx="1677.5" cy="2239.7" r="10" fill="url(#gH)" stroke="#707070" stroke-width="2.3"/><circle cx="1647.3" cy="2188.3" r="21" fill="url(#gN)" stroke="#2f5f70" stroke-width="2.4"/><g fill="none" stroke="#000" stroke-width="3.0"><circle cx="1239.3" cy="1691.6" r="9.6"/><circle cx="1243.3" cy="1926.4" r="9.6"/><circle cx="1251.5" cy="2078.3" r="9.6"/><circle cx="1256.9" cy="2173.3" r="9.6"/><circle cx="1261" cy="2227.6" r="9.6"/><circle cx="1266.4" cy="2252" r="9.6"/><circle cx="1274.5" cy="2262.9" r="9.6"/><circle cx="1285.4" cy="2256.1" r="9.6"/><circle cx="1293.5" cy="2238.4" r="9.6"/><circle cx="1300.3" cy="2208.6" r="9.6"/><circle cx="1312.5" cy="2162.5" r="9.6"/><circle cx="1326.1" cy="2119" r="9.6"/><circle cx="1338.3" cy="2083.8" r="9.6"/><circle cx="1358.7" cy="2040.3" r="9.6"/><circle cx="1377.7" cy="2010.5" r="9.6"/><circle cx="1395.3" cy="1987.4" r="9.6"/><circle cx="1423.8" cy="1960.3" r="9.6"/><circle cx="1453.6" cy="1944.7" r="9.6"/><circle cx="1515.6" cy="1926.6" r="9.6"/><circle cx="1577.7" cy="1919" r="9.6"/><circle cx="1639.1" cy="1913" r="9.6"/><circle cx="1700.8" cy="1909.9" r="9.6"/><circle cx="1762.2" cy="1908.4" r="9.6"/></g><path d="M1244.7,1655 1244.8,1658 1244.9,1661 1245,1664 1245.1,1667.1 1245.1,1670.1 1245.2,1673.1 1245.3,1676.1 1245.4,1679.1 1245.5,1682.1 1245.6,1685.2 1245.7,1688.2 1245.8,1691.2 1245.8,1694.2 1245.9,1697.2 1246,1700.2 1246.1,1703.2 1246.2,1706.3 1246.3,1709.3 1246.4,1712.3 1246.5,1715.3 1246.5,1718.3 1246.6,1721.3 1246.7,1724.4 1246.8,1727.4 1246.9,1730.4 1247,1733.4 1247.1,1736.4 1247.2,1739.4 1247.2,1742.5 1247.3,1745.5 1247.4,1748.5 1247.5,1751.5 1247.6,1754.5 1247.7,1757.5 1247.8,1760.5 1247.9,1763.6 1248,1766.6 1248.1,1769.6 1248.2,1772.6 1248.3,1775.6 1248.4,1778.6 1248.5,1781.7 1248.6,1784.7 1248.7,1787.7 1248.8,1790.7 1248.9,1793.7 1249,1796.8 1249.1,1799.8 1249.2,1802.9 1249.3,1805.9 1249.4,1809 1249.5,1812.1 1249.6,1815.1 1249.7,1818.2 1249.9,1821.3 1250,1824.4 1250.1,1827.5 1250.2,1830.6 1250.3,1833.7 1250.4,1836.8 1250.5,1839.9 1250.6,1843 1250.7,1846.1 1250.8,1849.2 1250.9,1852.3 1251.1,1855.4 1251.2,1858.5 1251.3,1861.6 1251.4,1864.7 1251.5,1867.8 1251.6,1870.8 1251.8,1873.9 1251.9,1876.9 1252,1879.9 1252.1,1883 1252.3,1886 1252.4,1889 1252.5,1892 1252.6,1894.9 1252.8,1897.9 1252.9,1900.8 1253,1903.7 1253.2,1906.6 1253.3,1909.5 1253.5,1912.4 1253.6,1915.2 1253.8,1918.1 1253.9,1920.9 1254,1923.6 1254.2,1926.4 1254.4,1929.7 1254.6,1933.1 1254.8,1936.4 1254.9,1939.7 1255.1,1943 1255.3,1946.2 1255.5,1949.5 1255.7,1952.8 1255.9,1956 1256.1,1959.2 1256.3,1962.4 1256.5,1965.6 1256.7,1968.8 1256.9,1971.9 1257.1,1975 1257.3,1978.1 1257.5,1981.2 1257.7,1984.3 1258,1987.3 1258.2,1990.3 1258.4,1993.3 1258.6,1996.2 1258.9,1999.1 1259.1,2002 1259.4,2004.9 1259.6,2007.7 1259.9,2010.5 1260.2,2013.2 1260.4,2016 1260.7,2018.6 1261,2021.3 1261.4,2024.7 1261.8,2028.1 1262.2,2031.4 1262.6,2034.7 1263,2038 1263.4,2041.2 1263.8,2044.3 1264.3,2047.4 1264.7,2050.4 1265.1,2053.4 1265.6,2056.4 1266.1,2059.3 1266.5,2062.1 1267,2064.9 1267.5,2067.7 1268,2070.4 1268.6,2073 1269.1,2075.6 1269.8,2079.1 1270.5,2082.5 1271.2,2085.9 1271.9,2089.2 1272.7,2092.4 1273.5,2095.5 1274.3,2098.3 1275.2,2101 1276.2,2103.4 1277.3,2105.5 1279.8,2109.3 1282.5,2112.3 1285.4,2113.6 1287.7,2112.9 1290.1,2111.1 1292.5,2108.4 1294.9,2105.5 1296.4,2103.4 1297.9,2101.1 1299.4,2098.4 1300.9,2095.6 1302.4,2092.6 1303.9,2089.5 1305.3,2086.4 1306.8,2083.2 1308.3,2080 1309.8,2077 1311.1,2074.3 1312.5,2071.4 1313.8,2068.5 1315.2,2065.6 1316.5,2062.6 1317.8,2059.6 1319.2,2056.7 1320.5,2053.8 1321.9,2050.9 1323.2,2048.2 1324.6,2045.5 1326,2043 1327.7,2040 1329.4,2037.2 1331.2,2034.4 1332.9,2031.7 1334.7,2029.1 1336.4,2026.6 1338.2,2024.2 1340,2022 1342.3,2019.3 1344.7,2016.8 1347.1,2014.5 1349.5,2012.3 1352,2010 1354.2,2008 1356.4,2005.9 1358.7,2003.9 1361.1,2001.9 1363.5,2000 1366,1998 1368.5,1996.2 1371,1994.4 1373.6,1992.7 1376.3,1990.9 1379.1,1989.2 1382,1987.4 1385,1985.5 1387.4,1984 1389.9,1982.5 1392.5,1980.9 1395.2,1979.3 1397.9,1977.6 1400.7,1976 1403.5,1974.3 1406.4,1972.7 1409.3,1971.1 1412.2,1969.5 1415.1,1968 1418,1966.5 1420.8,1965.1 1423.5,1963.8 1426.3,1962.6 1429.1,1961.3 1431.9,1960.1 1434.8,1958.9 1437.6,1957.7 1440.5,1956.5 1443.5,1955.3 1446.5,1954.1 1449.6,1952.9 1452.8,1951.7 1456,1950.5 1458.5,1949.5 1461.1,1948.5 1463.8,1947.5 1466.5,1946.5 1469.3,1945.4 1472,1944.4 1474.9,1943.3 1477.7,1942.3 1480.6,1941.2 1483.5,1940.2 1486.4,1939.1 1489.4,1938.1 1492.3,1937.1 1495.3,1936.1 1498.3,1935.1 1501.3,1934.2 1504.2,1933.3 1507.2,1932.4 1510.1,1931.5 1513.1,1930.8 1516,1930 1519,1929.3 1522.1,1928.6 1525.1,1927.9 1528.2,1927.3 1531.3,1926.7 1534.3,1926.1 1537.4,1925.5 1540.5,1925 1543.6,1924.5 1546.7,1924 1549.8,1923.6 1552.9,1923.1 1556,1922.7 1559.1,1922.3 1562.2,1921.9 1565.3,1921.5 1568.4,1921.1 1571.5,1920.8 1574.6,1920.4 1577.7,1920 1580.8,1919.6 1583.8,1919.3 1586.9,1919 1590,1918.7 1593,1918.4 1596.1,1918.1 1599.2,1917.8 1602.2,1917.6 1605.3,1917.3 1608.4,1917.1 1611.4,1916.8 1614.5,1916.6 1617.6,1916.4 1620.7,1916.2 1623.7,1916 1626.8,1915.8 1629.9,1915.6 1633,1915.4 1636,1915.2 1639.1,1915 1642.2,1914.8 1645.3,1914.6 1648.3,1914.4 1651.4,1914.3 1654.5,1914.1 1657.6,1913.9 1660.7,1913.8 1663.8,1913.6 1666.9,1913.5 1669.9,1913.3 1673,1913.2 1676.1,1913 1679.2,1912.9 1682.3,1912.8 1685.4,1912.6 1688.5,1912.5 1691.6,1912.4 1694.6,1912.3 1697.7,1912.1 1700.8,1912 1703.9,1911.9 1706.9,1911.8 1710,1911.6 1713.1,1911.5 1716.2,1911.4 1719.2,1911.3 1722.3,1911.2 1725.4,1911.1 1728.4,1911 1731.5,1910.9 1734.6,1910.8 1737.6,1910.8 1740.7,1910.7 1743.8,1910.6 1746.9,1910.5 1749.9,1910.4 1753,1910.3 1756.1,1910.2 1759.1,1910.1 1762.2,1910" fill="none" stroke="#ff0000" stroke-width="4.0" stroke-linejoin="round"/><path d="M1243.3,1655 1243.3,1658 1243.4,1661 1243.4,1664 1243.5,1667.1 1243.5,1670.1 1243.6,1673.1 1243.6,1676.1 1243.7,1679.1 1243.7,1682.1 1243.8,1685.1 1243.8,1688.2 1243.8,1691.2 1243.9,1694.2 1243.9,1697.2 1244,1700.2 1244,1703.2 1244.1,1706.3 1244.1,1709.3 1244.1,1712.3 1244.2,1715.3 1244.2,1718.3 1244.3,1721.3 1244.3,1724.3 1244.3,1727.4 1244.4,1730.4 1244.4,1733.4 1244.5,1736.4 1244.5,1739.4 1244.6,1742.4 1244.6,1745.4 1244.7,1748.5 1244.7,1751.5 1244.7,1754.5 1244.8,1757.5 1244.8,1760.5 1244.9,1763.5 1244.9,1766.6 1245,1769.6 1245,1772.6 1245.1,1775.6 1245.2,1778.6 1245.2,1781.6 1245.3,1784.6 1245.3,1787.7 1245.4,1790.7 1245.4,1793.7 1245.5,1796.7 1245.6,1799.7 1245.6,1802.7 1245.7,1805.7 1245.8,1808.8 1245.9,1811.8 1245.9,1814.8 1246,1817.8 1246.1,1820.8 1246.2,1823.8 1246.2,1826.9 1246.3,1829.9 1246.4,1832.9 1246.5,1836 1246.6,1839 1246.7,1842.1 1246.7,1845.1 1246.8,1848.2 1246.9,1851.2 1247,1854.3 1247.1,1857.3 1247.2,1860.4 1247.3,1863.4 1247.4,1866.5 1247.5,1869.6 1247.6,1872.6 1247.7,1875.7 1247.8,1878.7 1247.9,1881.8 1248,1884.9 1248.1,1887.9 1248.2,1891 1248.3,1894 1248.4,1897.1 1248.5,1900.1 1248.7,1903.2 1248.8,1906.2 1248.9,1909.3 1249,1912.3 1249.1,1915.3 1249.2,1918.4 1249.3,1921.4 1249.4,1924.4 1249.5,1927.4 1249.6,1930.4 1249.8,1933.5 1249.9,1936.5 1250,1939.4 1250.1,1942.4 1250.2,1945.4 1250.3,1948.4 1250.4,1951.4 1250.5,1954.3 1250.6,1957.3 1250.7,1960.2 1250.9,1963.2 1251,1966.1 1251.1,1969 1251.2,1971.9 1251.3,1974.8 1251.4,1977.7 1251.5,1980.6 1251.6,1983.8 1251.7,1986.9 1251.8,1990.1 1252,1993.2 1252.1,1996.4 1252.2,1999.5 1252.3,2002.6 1252.4,2005.8 1252.5,2008.9 1252.6,2012.1 1252.7,2015.2 1252.8,2018.3 1252.9,2021.4 1253.1,2024.5 1253.2,2027.6 1253.3,2030.7 1253.4,2033.8 1253.5,2036.9 1253.6,2040 1253.7,2043.1 1253.8,2046.2 1253.9,2049.2 1254,2052.3 1254.2,2055.3 1254.3,2058.3 1254.4,2061.3 1254.5,2064.4 1254.6,2067.4 1254.7,2070.3 1254.9,2073.3 1255,2076.3 1255.1,2079.2 1255.2,2082.2 1255.4,2085.1 1255.5,2088 1255.6,2090.9 1255.8,2093.8 1255.9,2096.7 1256,2099.5 1256.2,2102.4 1256.3,2105.2 1256.5,2108 1256.6,2110.8 1256.7,2113.5 1256.9,2116.3 1257.1,2119.6 1257.3,2123 1257.4,2126.3 1257.6,2129.7 1257.8,2133 1257.9,2136.4 1258.1,2139.7 1258.3,2143 1258.5,2146.3 1258.6,2149.6 1258.8,2152.9 1259,2156.2 1259.1,2159.4 1259.3,2162.6 1259.5,2165.8 1259.7,2169 1259.9,2172.1 1260.1,2175.2 1260.3,2178.2 1260.5,2181.3 1260.8,2184.2 1261,2187.2 1261.2,2190.1 1261.5,2192.9 1261.8,2195.7 1262.1,2198.5 1262.4,2201.1 1262.7,2203.8 1263,2206.3 1263.3,2208.9 1263.7,2211.3 1264.3,2215.1 1264.9,2218.9 1265.5,2222.6 1266.2,2226.2 1266.8,2229.7 1267.5,2233.1 1268.2,2236.4 1269,2239.5 1269.8,2242.5 1270.6,2245.2 1271.4,2247.7 1272.3,2250 1273.2,2252 1275.3,2255.9 1277.5,2258.9 1280,2260.2 1282.5,2259.7 1285.3,2257.9 1288.2,2255.2 1290.8,2252 1292,2250.1 1293.1,2248 1294.2,2245.5 1295.2,2242.9 1296.2,2240 1297.2,2237 1298.1,2233.9 1299,2230.7 1299.9,2227.4 1300.8,2224.1 1301.7,2220.8 1302.6,2217.6 1303.5,2214.4 1304.4,2211.3 1305.3,2208.5 1306.1,2205.7 1307,2203 1307.8,2200.2 1308.7,2197.4 1309.5,2194.6 1310.4,2191.7 1311.2,2188.9 1312.1,2186 1312.9,2183.2 1313.8,2180.2 1314.6,2177.3 1315.4,2174.3 1316.3,2171.3 1317.1,2168.3 1318,2165.2 1318.8,2162.4 1319.5,2159.6 1320.3,2156.7 1321,2153.8 1321.8,2150.8 1322.5,2147.8 1323.3,2144.8 1324,2141.8 1324.8,2138.7 1325.6,2135.6 1326.3,2132.6 1327.1,2129.5 1327.9,2126.4 1328.6,2123.4 1329.4,2120.3 1330.2,2117.3 1331,2114.3 1331.8,2111.4 1332.6,2108.5 1333.4,2105.6 1334.2,2102.8 1335.1,2099.7 1336,2096.7 1336.9,2093.7 1337.8,2090.6 1338.7,2087.7 1339.6,2084.7 1340.5,2081.7 1341.4,2078.8 1342.4,2075.9 1343.3,2073 1344.3,2070.2 1345.2,2067.4 1346.2,2064.6 1347.3,2061.9 1348.3,2059.2 1349.4,2056.5 1350.5,2053.9 1351.8,2050.9 1353.1,2048 1354.5,2045.1 1355.9,2042.3 1357.3,2039.5 1358.7,2036.7 1360.2,2034 1361.7,2031.4 1363.2,2028.7 1364.7,2026.2 1366.3,2023.6 1367.9,2021.1 1369.5,2018.6 1371.3,2015.9 1373.1,2013.3 1375,2010.7 1376.9,2008.1 1378.8,2005.6 1380.7,2003.1 1382.7,2000.7 1384.8,1998.3 1386.9,1996 1389,1993.7 1391.2,1991.5 1393.4,1989.3 1395.7,1987.2 1398.1,1985.1 1400.5,1983 1402.9,1981 1405.4,1979 1407.9,1977.1 1410.4,1975.2 1413.1,1973.4 1415.7,1971.6 1418.4,1969.8 1421,1968.1 1423.7,1966.5 1426.4,1964.9 1429.1,1963.4 1431.8,1961.9 1434.6,1960.5 1437.5,1959 1440.4,1957.6 1443.4,1956.2 1446.5,1954.8 1449.7,1953.4 1453,1952 1455.4,1951 1457.9,1950 1460.5,1948.9 1463.2,1947.9 1465.9,1946.8 1468.6,1945.8 1471.4,1944.7 1474.3,1943.7 1477.1,1942.7 1480.1,1941.6 1483,1940.6 1486,1939.6 1488.9,1938.7 1491.9,1937.7 1494.9,1936.8 1497.9,1935.8 1500.9,1934.9 1503.9,1934.1 1506.8,1933.3 1509.8,1932.5 1512.7,1931.7 1515.6,1931 1518.7,1930.3 1521.8,1929.6 1524.9,1928.9 1528,1928.3 1531.1,1927.8 1534.2,1927.2 1537.3,1926.7 1540.4,1926.2 1543.5,1925.8 1546.6,1925.3 1549.7,1924.9 1552.8,1924.5 1555.9,1924.1 1559,1923.7 1562.2,1923.3 1565.3,1923 1568.4,1922.6 1571.5,1922.2 1574.6,1921.9 1577.7,1921.5 1580.8,1921.1 1583.8,1920.8 1586.9,1920.4 1590,1920.1 1593.1,1919.8 1596.1,1919.5 1599.2,1919.2 1602.3,1918.9 1605.3,1918.6 1608.4,1918.4 1611.5,1918.1 1614.5,1917.9 1617.6,1917.6 1620.7,1917.4 1623.7,1917.1 1626.8,1916.9 1629.9,1916.7 1633,1916.5 1636,1916.2 1639.1,1916 1642.2,1915.8 1645.3,1915.6 1648.3,1915.4 1651.4,1915.2 1654.5,1915 1657.6,1914.8 1660.7,1914.6 1663.8,1914.4 1666.9,1914.2 1669.9,1914.1 1673,1913.9 1676.1,1913.7 1679.2,1913.6 1682.3,1913.4 1685.4,1913.3 1688.5,1913.1 1691.5,1913 1694.6,1912.8 1697.7,1912.7 1700.8,1912.5 1703.9,1912.4 1706.9,1912.2 1710,1912.1 1713.1,1911.9 1716.2,1911.8 1719.2,1911.7 1722.3,1911.6 1725.4,1911.4 1728.4,1911.3 1731.5,1911.2 1734.6,1911.1 1737.6,1911 1740.7,1910.8 1743.8,1910.7 1746.9,1910.6 1749.9,1910.5 1753,1910.4 1756.1,1910.2 1759.1,1910.1 1762.2,1910" fill="none" stroke="#0000ff" stroke-width="4.0" stroke-linejoin="round"/><path d="M1239.3,1655 1239.3,1658 1239.4,1661 1239.4,1664 1239.5,1667.1 1239.5,1670.1 1239.6,1673.1 1239.6,1676.1 1239.7,1679.1 1239.7,1682.1 1239.7,1685.2 1239.8,1688.2 1239.8,1691.2 1239.9,1694.2 1239.9,1697.2 1240,1700.2 1240,1703.2 1240,1706.3 1240.1,1709.3 1240.1,1712.3 1240.2,1715.3 1240.2,1718.3 1240.3,1721.3 1240.3,1724.4 1240.3,1727.4 1240.4,1730.4 1240.4,1733.4 1240.5,1736.4 1240.5,1739.4 1240.6,1742.5 1240.6,1745.5 1240.7,1748.5 1240.7,1751.5 1240.8,1754.5 1240.8,1757.5 1240.9,1760.5 1240.9,1763.6 1241,1766.6 1241,1769.6 1241.1,1772.6 1241.1,1775.6 1241.2,1778.6 1241.2,1781.7 1241.3,1784.7 1241.3,1787.7 1241.4,1790.7 1241.5,1793.7 1241.5,1796.7 1241.6,1799.7 1241.6,1802.8 1241.7,1805.8 1241.8,1808.8 1241.8,1811.8 1241.9,1814.8 1242,1817.8 1242,1820.9 1242.1,1823.9 1242.2,1826.9 1242.2,1829.9 1242.3,1832.9 1242.4,1835.9 1242.4,1839 1242.5,1842 1242.6,1845 1242.6,1848 1242.7,1851 1242.8,1854 1242.8,1857 1242.9,1860.1 1243,1863.1 1243.1,1866.1 1243.1,1869.1 1243.2,1872.1 1243.3,1875.1 1243.4,1878.2 1243.4,1881.2 1243.5,1884.2 1243.6,1887.2 1243.7,1890.2 1243.8,1893.2 1243.8,1896.2 1243.9,1899.3 1244,1902.3 1244.1,1905.3 1244.2,1908.3 1244.3,1911.3 1244.3,1914.3 1244.4,1917.4 1244.5,1920.4 1244.6,1923.4 1244.7,1926.4 1244.8,1929.4 1244.9,1932.4 1245,1935.5 1245.1,1938.5 1245.2,1941.6 1245.3,1944.6 1245.4,1947.7 1245.5,1950.7 1245.6,1953.8 1245.7,1956.8 1245.8,1959.9 1245.9,1963 1246,1966 1246.1,1969.1 1246.2,1972.2 1246.3,1975.2 1246.4,1978.3 1246.5,1981.4 1246.6,1984.4 1246.8,1987.5 1246.9,1990.6 1247,1993.6 1247.1,1996.7 1247.2,1999.7 1247.3,2002.8 1247.4,2005.8 1247.5,2008.8 1247.7,2011.9 1247.8,2014.9 1247.9,2017.9 1248,2020.9 1248.1,2023.9 1248.2,2026.9 1248.3,2029.9 1248.5,2032.9 1248.6,2035.8 1248.7,2038.8 1248.8,2041.7 1248.9,2044.7 1249,2047.6 1249.1,2050.5 1249.3,2053.4 1249.4,2056.3 1249.5,2059.1 1249.6,2062 1249.7,2065.2 1249.8,2068.4 1250,2071.6 1250.1,2074.7 1250.2,2077.9 1250.3,2081.1 1250.4,2084.3 1250.5,2087.4 1250.6,2090.6 1250.7,2093.8 1250.8,2096.9 1251,2100 1251.1,2103.2 1251.2,2106.3 1251.3,2109.4 1251.4,2112.5 1251.5,2115.6 1251.6,2118.7 1251.7,2121.7 1251.8,2124.8 1252,2127.8 1252.1,2130.8 1252.2,2133.8 1252.3,2136.7 1252.5,2139.7 1252.6,2142.6 1252.7,2145.5 1252.9,2148.4 1253,2151.3 1253.2,2154.1 1253.3,2156.9 1253.5,2159.7 1253.7,2162.5 1253.8,2165.2 1254,2167.9 1254.2,2170.6 1254.4,2174 1254.7,2177.5 1254.9,2180.9 1255.1,2184.4 1255.3,2187.8 1255.6,2191.2 1255.8,2194.6 1256,2197.9 1256.3,2201.2 1256.5,2204.5 1256.8,2207.7 1257,2210.9 1257.3,2214 1257.6,2217 1258,2220 1258.3,2222.9 1258.7,2225.7 1259.1,2228.4 1259.5,2231.1 1260,2233.6 1260.5,2236.1 1261,2238.4 1262,2242.4 1263,2246.5 1264.1,2250.6 1265.3,2254.3 1266.5,2257.6 1267.8,2260.3 1269.1,2262.1 1270.5,2262.9 1272.8,2262.1 1275.3,2259.6 1277.7,2256 1280,2252 1281,2250 1281.9,2247.7 1282.7,2245.2 1283.6,2242.6 1284.3,2239.8 1285.1,2236.8 1285.8,2233.8 1286.5,2230.6 1287.2,2227.4 1287.8,2224.2 1288.5,2220.9 1289.3,2217.7 1290,2214.5 1290.8,2211.3 1291.5,2208.5 1292.2,2205.6 1293,2202.7 1293.7,2199.8 1294.4,2196.9 1295.2,2193.9 1295.9,2190.9 1296.7,2187.9 1297.4,2184.9 1298.2,2181.8 1298.9,2178.8 1299.7,2175.7 1300.5,2172.6 1301.3,2169.5 1302,2166.4 1302.8,2163.2 1303.6,2160.1 1304.4,2157 1305.1,2154.1 1305.9,2151.2 1306.6,2148.2 1307.4,2145.2 1308.1,2142.2 1308.9,2139.2 1309.6,2136.1 1310.4,2133.1 1311.1,2130 1311.9,2127 1312.7,2123.9 1313.4,2120.9 1314.2,2117.8 1315,2114.8 1315.8,2111.8 1316.6,2108.9 1317.4,2105.9 1318.2,2103 1319,2100.2 1319.9,2097.4 1320.7,2094.6 1321.7,2091.5 1322.6,2088.4 1323.6,2085.4 1324.6,2082.3 1325.6,2079.3 1326.6,2076.4 1327.6,2073.4 1328.6,2070.5 1329.6,2067.6 1330.6,2064.8 1331.6,2062 1332.7,2059.2 1333.8,2056.5 1334.8,2053.8 1335.9,2051.1 1337,2048.5 1338.3,2045.5 1339.5,2042.6 1340.7,2039.8 1342,2037 1343.2,2034.3 1344.5,2031.6 1345.8,2028.9 1347.2,2026.3 1348.6,2023.6 1350,2021 1351.6,2018.5 1353.2,2015.9 1354.9,2013.3 1356.8,2010.6 1358.7,2008 1360.6,2005.3 1362.6,2002.7 1364.6,2000.2 1366.7,1997.6 1368.9,1995.2 1371,1992.8 1373.2,1990.5 1375.5,1988.2 1377.7,1986.1 1380,1984.1 1382.3,1982.1 1384.6,1980.2 1386.9,1978.5 1389.3,1976.7 1391.7,1975.1 1394.2,1973.5 1396.8,1971.9 1399.4,1970.3 1402,1968.7 1404.8,1967.1 1407.4,1965.7 1410,1964.2 1412.6,1962.8 1415.3,1961.4 1418.1,1960.1 1420.9,1958.7 1423.7,1957.4 1426.7,1956.1 1429.6,1954.8 1432.7,1953.5 1435.8,1952.3 1438.9,1951 1442.2,1949.8 1445.5,1948.6 1448,1947.7 1450.6,1946.8 1453.3,1945.9 1456,1945 1458.8,1944.1 1461.7,1943.3 1464.6,1942.4 1467.5,1941.5 1470.4,1940.7 1473.4,1939.8 1476.4,1939 1479.5,1938.1 1482.5,1937.3 1485.6,1936.5 1488.7,1935.8 1491.7,1935 1494.8,1934.2 1497.8,1933.5 1500.9,1932.8 1503.9,1932.1 1506.9,1931.5 1509.8,1930.8 1512.7,1930.2 1515.6,1929.6 1518.8,1929 1521.9,1928.4 1525.1,1927.8 1528.2,1927.3 1531.3,1926.8 1534.4,1926.3 1537.6,1925.8 1540.7,1925.4 1543.8,1924.9 1546.8,1924.5 1549.9,1924.1 1553,1923.8 1556.1,1923.4 1559.2,1923 1562.3,1922.7 1565.3,1922.4 1568.4,1922 1571.5,1921.7 1574.6,1921.3 1577.7,1921 1580.8,1920.7 1583.8,1920.4 1586.9,1920 1590,1919.8 1593.1,1919.5 1596.1,1919.2 1599.2,1918.9 1602.3,1918.7 1605.3,1918.4 1608.4,1918.2 1611.5,1918 1614.5,1917.7 1617.6,1917.5 1620.7,1917.3 1623.7,1917.1 1626.8,1916.8 1629.9,1916.6 1633,1916.4 1636,1916.2 1639.1,1916 1642.2,1915.8 1645.3,1915.6 1648.3,1915.4 1651.4,1915.2 1654.5,1915 1657.6,1914.8 1660.7,1914.6 1663.8,1914.4 1666.9,1914.3 1669.9,1914.1 1673,1913.9 1676.1,1913.8 1679.2,1913.6 1682.3,1913.4 1685.4,1913.3 1688.5,1913.1 1691.5,1913 1694.6,1912.8 1697.7,1912.7 1700.8,1912.5 1703.9,1912.4 1706.9,1912.2 1710,1912.1 1713.1,1911.9 1716.2,1911.8 1719.2,1911.7 1722.3,1911.6 1725.4,1911.4 1728.4,1911.3 1731.5,1911.2 1734.6,1911.1 1737.6,1911 1740.7,1910.8 1743.8,1910.7 1746.9,1910.6 1749.9,1910.5 1753,1910.4 1756.1,1910.2 1759.1,1910.1 1762.2,1910" fill="none" stroke="#008000" stroke-width="4.0" stroke-linejoin="round"/></g>
<clipPath id="cp6"><rect x="229" y="2427" width="738" height="668"/></clipPath>
<g clip-path="url(#cp6)"><line x1="795.2" y1="2547.1" x2="768.7" y2="2526.8" stroke="#858585" stroke-width="14"/><line x1="795.2" y1="2547.1" x2="768.7" y2="2526.8" stroke="#e2e2e2" stroke-width="10"/><line x1="795.2" y1="2547.1" x2="768.7" y2="2526.8" stroke="#f8f8f8" stroke-width="4"/><circle cx="768.7" cy="2526.8" r="10" fill="url(#gH)" stroke="#707070" stroke-width="2.3"/><line x1="795.2" y1="2547.1" x2="771.8" y2="2601.7" stroke="#858585" stroke-width="15"/><line x1="795.2" y1="2547.1" x2="771.8" y2="2601.7" stroke="#e2e2e2" stroke-width="11"/><line x1="795.2" y1="2547.1" x2="771.8" y2="2601.7" stroke="#f8f8f8" stroke-width="4.4"/><circle cx="771.8" cy="2601.7" r="10" fill="url(#gH)" stroke="#707070" stroke-width="2.3"/><line x1="795.2" y1="2547.1" x2="882.6" y2="2558" stroke="#858585" stroke-width="22"/><line x1="795.2" y1="2547.1" x2="882.6" y2="2558" stroke="#e2e2e2" stroke-width="18"/><line x1="795.2" y1="2547.1" x2="882.6" y2="2558" stroke="#f8f8f8" stroke-width="7.2"/><circle cx="795.2" cy="2547.1" r="19.5" fill="url(#gN)" stroke="#2f5f70" stroke-width="2.4"/><line x1="882.6" y1="2558" x2="909.1" y2="2498.7" stroke="#858585" stroke-width="15"/><line x1="882.6" y1="2558" x2="909.1" y2="2498.7" stroke="#e2e2e2" stroke-width="11"/><line x1="882.6" y1="2558" x2="909.1" y2="2498.7" stroke="#f8f8f8" stroke-width="4.4"/><circle cx="909.1" cy="2498.7" r="10" fill="url(#gH)" stroke="#707070" stroke-width="2.3"/><line x1="882.6" y1="2558" x2="910.7" y2="2578.3" stroke="#858585" stroke-width="14"/><line x1="882.6" y1="2558" x2="910.7" y2="2578.3" stroke="#e2e2e2" stroke-width="10"/><line x1="882.6" y1="2558" x2="910.7" y2="2578.3" stroke="#f8f8f8" stroke-width="4"/><circle cx="910.7" cy="2578.3" r="9" fill="url(#gH)" stroke="#707070" stroke-width="2.3"/><circle cx="882.6" cy="2558" r="20.5" fill="url(#gC)" stroke="#6a4010" stroke-width="2.4"/><line x1="882.6" y1="2558" x2="898.2" y2="2597" stroke="#5e5e5e" stroke-width="14"/><line x1="882.6" y1="2558" x2="898.2" y2="2597" stroke="#9a9a9a" stroke-width="10"/><line x1="882.6" y1="2558" x2="898.2" y2="2597" stroke="#b8b8b8" stroke-width="4"/><circle cx="898.2" cy="2597" r="10" fill="url(#gH)" stroke="#707070" stroke-width="2.3"/><line x1="573.6" y1="2712.5" x2="609.5" y2="2661" stroke="#858585" stroke-width="15"/><line x1="573.6" y1="2712.5" x2="609.5" y2="2661" stroke="#e2e2e2" stroke-width="11"/><line x1="573.6" y1="2712.5" x2="609.5" y2="2661" stroke="#f8f8f8" stroke-width="4.4"/><circle cx="609.5" cy="2661" r="10" fill="url(#gH)" stroke="#707070" stroke-width="2.3"/><line x1="573.6" y1="2712.5" x2="511.2" y2="2700" stroke="#858585" stroke-width="15"/><line x1="573.6" y1="2712.5" x2="511.2" y2="2700" stroke="#e2e2e2" stroke-width="11"/><line x1="573.6" y1="2712.5" x2="511.2" y2="2700" stroke="#f8f8f8" stroke-width="4.4"/><circle cx="511.2" cy="2700" r="10" fill="url(#gH)" stroke="#707070" stroke-width="2.3"/><line x1="573.6" y1="2712.5" x2="609.5" y2="2779.6" stroke="#858585" stroke-width="20"/><line x1="573.6" y1="2712.5" x2="609.5" y2="2779.6" stroke="#e2e2e2" stroke-width="16"/><line x1="573.6" y1="2712.5" x2="609.5" y2="2779.6" stroke="#f8f8f8" stroke-width="6.4"/><circle cx="573.6" cy="2712.5" r="21" fill="url(#gC)" stroke="#6a4010" stroke-width="2.4"/><line x1="573.6" y1="2712.5" x2="575.2" y2="2740.6" stroke="#5e5e5e" stroke-width="12"/><line x1="573.6" y1="2712.5" x2="575.2" y2="2740.6" stroke="#9a9a9a" stroke-width="8"/><line x1="573.6" y1="2712.5" x2="575.2" y2="2740.6" stroke="#b8b8b8" stroke-width="3.2"/><circle cx="575.2" cy="2740.6" r="9" fill="url(#gH)" stroke="#707070" stroke-width="2.3"/><line x1="609.5" y1="2779.6" x2="576.7" y2="2843.6" stroke="#858585" stroke-width="18"/><line x1="609.5" y1="2779.6" x2="576.7" y2="2843.6" stroke="#e2e2e2" stroke-width="14"/><line x1="609.5" y1="2779.6" x2="576.7" y2="2843.6" stroke="#f8f8f8" stroke-width="5.6"/><circle cx="576.7" cy="2843.6" r="22" fill="url(#gO)" stroke="#600000" stroke-width="2.4"/><line x1="609.5" y1="2779.6" x2="686" y2="2764" stroke="#858585" stroke-width="20"/><line x1="609.5" y1="2779.6" x2="686" y2="2764" stroke="#e2e2e2" stroke-width="16"/><line x1="609.5" y1="2779.6" x2="686" y2="2764" stroke="#f8f8f8" stroke-width="6.4"/><circle cx="609.5" cy="2779.6" r="21" fill="url(#gC)" stroke="#6a4010" stroke-width="2.4"/><line x1="686" y1="2764" x2="712.5" y2="2714.1" stroke="#858585" stroke-width="15"/><line x1="686" y1="2764" x2="712.5" y2="2714.1" stroke="#e2e2e2" stroke-width="11"/><line x1="686" y1="2764" x2="712.5" y2="2714.1" stroke="#f8f8f8" stroke-width="4.4"/><circle cx="712.5" cy="2714.1" r="10" fill="url(#gH)" stroke="#707070" stroke-width="2.3"/><line x1="686" y1="2764" x2="712.5" y2="2807.7" stroke="#858585" stroke-width="15"/><line x1="686" y1="2764" x2="712.5" y2="2807.7" stroke="#e2e2e2" stroke-width="11"/><line x1="686" y1="2764" x2="712.5" y2="2807.7" stroke="#f8f8f8" stroke-width="4.4"/><circle cx="712.5" cy="2807.7" r="10" fill="url(#gH)" stroke="#707070" stroke-width="2.3"/><circle cx="686" cy="2764" r="20" fill="url(#gN)" stroke="#2f5f70" stroke-width="2.4"/><g fill="none" stroke="#000" stroke-width="3.0"><circle cx="321.6" cy="2568.5" r="9.6"/><circle cx="328.8" cy="2672" r="9.6"/><circle cx="334.8" cy="2742.3" r="9.6"/><circle cx="341.5" cy="2792.8" r="9.6"/><circle cx="347.4" cy="2827.6" r="9.6"/><circle cx="354" cy="2849.6" r="9.6"/><circle cx="358.7" cy="2863" r="9.6"/><circle cx="362" cy="2872" r="9.6"/><circle cx="366.8" cy="2880" r="9.6"/><circle cx="372" cy="2886" r="9.6"/><circle cx="377.7" cy="2890" r="9.6"/><circle cx="383" cy="2893.5" r="9.6"/><circle cx="388.5" cy="2896.5" r="9.6"/><circle cx="394" cy="2898.5" r="9.6"/><circle cx="399.4" cy="2900.5" r="9.6"/><circle cx="406" cy="2901.5" r="9.6"/><circle cx="413" cy="2902" r="9.6"/><circle cx="421" cy="2902" r="9.6"/><circle cx="429.5" cy="2902" r="9.6"/><circle cx="456.4" cy="2911.4" r="9.6"/><circle cx="474.7" cy="2917.8" r="9.6"/><circle cx="505" cy="2920" r="9.6"/><circle cx="536" cy="2922.4" r="9.6"/><circle cx="597.3" cy="2928.4" r="9.6"/><circle cx="659.5" cy="2930.3" r="9.6"/><circle cx="721" cy="2933.6" r="9.6"/><circle cx="782.9" cy="2934.9" r="9.6"/><circle cx="844.1" cy="2935.6" r="9.6"/></g><path d="M304.4,2427 304.5,2430 304.5,2433 304.6,2436.1 304.6,2439.1 304.7,2442.2 304.8,2445.2 304.8,2448.3 304.9,2451.3 304.9,2454.4 305,2457.4 305,2460.5 305.1,2463.6 305.2,2466.7 305.2,2469.7 305.3,2472.8 305.3,2475.9 305.4,2478.9 305.5,2482 305.5,2485.1 305.6,2488.1 305.6,2491.2 305.7,2494.3 305.8,2497.3 305.8,2500.4 305.9,2503.4 305.9,2506.5 306,2509.5 306,2512.5 306.1,2515.6 306.2,2518.6 306.2,2521.6 306.3,2524.6 306.3,2527.6 306.4,2530.6 306.5,2533.6 306.5,2536.5 306.6,2539.5 306.7,2542.4 306.7,2545.4 306.8,2548.3 306.8,2551.2 306.9,2554.1 307,2557 307,2559.8 307.1,2562.7 307.2,2565.9 307.2,2569 307.3,2572.2 307.4,2575.3 307.5,2578.4 307.5,2581.5 307.6,2584.6 307.7,2587.6 307.7,2590.7 307.8,2593.7 307.9,2596.7 308,2599.8 308,2602.8 308.1,2605.8 308.2,2608.8 308.3,2611.8 308.3,2614.7 308.4,2617.7 308.5,2620.7 308.6,2623.6 308.6,2626.6 308.7,2629.6 308.8,2632.5 308.9,2635.5 308.9,2638.4 309,2641.4 309.1,2644.4 309.2,2647.3 309.3,2650.3 309.4,2653.3 309.4,2656.2 309.5,2659.2 309.6,2662.2 309.7,2665.2 309.8,2668.2 309.9,2671.2 310,2674.2 310.1,2677.3 310.2,2680.4 310.3,2683.4 310.4,2686.5 310.5,2689.7 310.6,2692.8 310.7,2695.9 310.8,2699.1 310.9,2702.3 311,2705.4 311.1,2708.6 311.2,2711.7 311.3,2714.9 311.4,2718.1 311.5,2721.2 311.6,2724.4 311.7,2727.5 311.8,2730.6 311.9,2733.7 312.1,2736.8 312.2,2739.9 312.3,2742.9 312.4,2746 312.5,2749 312.6,2751.9 312.8,2754.9 312.9,2757.8 313,2760.7 313.1,2763.5 313.2,2766.4 313.4,2769.1 313.5,2771.9 313.6,2774.6 313.8,2777.2 313.9,2779.8 314.1,2783.2 314.3,2786.7 314.5,2790.1 314.6,2793.4 314.8,2796.8 315,2800.1 315.2,2803.4 315.4,2806.6 315.6,2809.8 315.8,2812.9 316,2815.9 316.2,2818.9 316.4,2821.8 316.7,2824.7 316.9,2827.5 317.1,2830.1 317.3,2832.8 317.5,2835.3 317.8,2837.7 318,2840 318.4,2843.9 318.8,2847.6 319.2,2851.1 319.6,2854.4 320,2857.4 320.5,2859.9 321,2862 321.7,2864.4 323,2866 325.2,2866.7 328.3,2866.8 331.7,2866.7 335,2866.5 338.2,2866.1 341.4,2865.5 344.6,2864.9 347.8,2865 350.9,2865.9 353.9,2867.3 356.9,2868.9 360,2870.5 362.8,2871.8 365.5,2873.1 368.4,2874.5 371.5,2875.9 375,2877.5 377.3,2878.5 379.7,2879.5 382.3,2880.6 385,2881.8 387.8,2883 390.7,2884.2 393.7,2885.4 396.7,2886.6 399.8,2887.9 403,2889.1 406.2,2890.3 409.4,2891.5 412.5,2892.7 415.7,2893.8 418.5,2894.8 421.4,2895.7 424.2,2896.7 427.2,2897.7 430.1,2898.6 433.1,2899.6 436.2,2900.5 439.2,2901.5 442.3,2902.4 445.4,2903.3 448.4,2904.2 451.5,2905.1 454.6,2905.9 457.7,2906.8 460.8,2907.6 463.9,2908.4 467,2909.2 470,2910 473,2910.7 476,2911.5 479,2912.2 482,2912.8 485,2913.5 488,2914.2 491,2914.8 494,2915.4 497,2916 500.1,2916.6 503.1,2917.2 506.1,2917.8 509.1,2918.3 512.1,2918.8 515.1,2919.4 518.2,2919.9 521.2,2920.4 524.2,2920.9 527.2,2921.4 530.1,2921.9 533,2922.3 535.9,2922.7 538.8,2923.2 541.6,2923.6 544.5,2924 547.4,2924.4 550.3,2924.8 553.2,2925.1 556.1,2925.5 559.1,2925.8 562.2,2926.2 565.3,2926.5 568.5,2926.8 571.7,2927.1 575.1,2927.4 578.5,2927.7 581.1,2927.9 583.8,2928.1 586.5,2928.3 589.3,2928.5 592.1,2928.7 595,2928.8 597.9,2929 600.9,2929.2 603.9,2929.3 606.9,2929.4 610,2929.6 613,2929.7 616.2,2929.8 619.3,2930 622.4,2930.1 625.6,2930.2 628.8,2930.3 632,2930.4 635.2,2930.5 638.5,2930.6 641.7,2930.7 644.9,2930.8 648.2,2930.9 651.4,2931 654.6,2931.1 657.9,2931.2 661.1,2931.3 664.3,2931.3 667.5,2931.4 670.6,2931.5 673.8,2931.6 676.9,2931.7 680,2931.8 683,2931.9 686.1,2932 689.1,2932.1 692.2,2932.2 695.3,2932.2 698.5,2932.3 701.6,2932.4 704.7,2932.5 707.9,2932.5 711,2932.6 714.2,2932.7 717.3,2932.8 720.5,2932.8 723.6,2932.9 726.8,2933 729.9,2933 733.1,2933.1 736.2,2933.1 739.3,2933.2 742.4,2933.3 745.5,2933.3 748.5,2933.4 751.6,2933.4 754.6,2933.5 757.5,2933.5 760.5,2933.6 763.4,2933.6 766.3,2933.7 769.2,2933.7 772,2933.8 774.8,2933.9 777.5,2933.9 780.2,2934 782.9,2934 786.3,2934.1 789.7,2934.1 792.9,2934.2 796.2,2934.2 799.3,2934.3 802.4,2934.3 805.5,2934.4 808.5,2934.4 811.5,2934.5 814.5,2934.5 817.4,2934.6 820.4,2934.6 823.3,2934.7 826.2,2934.7 829.2,2934.8 832.1,2934.8 835.1,2934.9 838.1,2934.9 841.1,2935 844.1,2935" fill="none" stroke="#ff0000" stroke-width="4.0" stroke-linejoin="round"/><path d="M315.3,2427 315.4,2430 315.4,2433 315.5,2436 315.5,2439.1 315.6,2442.1 315.7,2445.1 315.7,2448.1 315.8,2451.1 315.8,2454.1 315.9,2457.2 316,2460.2 316,2463.2 316.1,2466.2 316.1,2469.2 316.2,2472.2 316.3,2475.2 316.3,2478.3 316.4,2481.3 316.4,2484.3 316.5,2487.3 316.6,2490.3 316.6,2493.3 316.7,2496.4 316.7,2499.4 316.8,2502.4 316.9,2505.4 316.9,2508.4 317,2511.4 317,2514.5 317.1,2517.5 317.2,2520.5 317.2,2523.5 317.3,2526.5 317.3,2529.5 317.4,2532.5 317.5,2535.6 317.5,2538.6 317.6,2541.6 317.6,2544.6 317.7,2547.6 317.8,2550.6 317.8,2553.7 317.9,2556.7 317.9,2559.7 318,2562.7 318.1,2565.7 318.1,2568.7 318.2,2571.7 318.2,2574.8 318.3,2577.8 318.3,2580.8 318.4,2583.8 318.5,2586.8 318.5,2589.8 318.6,2592.9 318.6,2595.9 318.7,2598.9 318.7,2601.9 318.8,2604.9 318.8,2607.9 318.9,2611 319,2614 319,2617 319.1,2620 319.1,2623 319.2,2626 319.2,2629 319.3,2632.1 319.3,2635.1 319.4,2638.1 319.5,2641.1 319.5,2644.1 319.6,2647.1 319.6,2650.2 319.7,2653.2 319.8,2656.2 319.8,2659.2 319.9,2662.2 319.9,2665.2 320,2668.2 320.1,2671.3 320.1,2674.3 320.2,2677.3 320.3,2680.3 320.3,2683.3 320.4,2686.3 320.5,2689.4 320.6,2692.4 320.6,2695.4 320.7,2698.4 320.8,2701.4 320.9,2704.5 320.9,2707.5 321,2710.6 321.1,2713.7 321.2,2716.7 321.2,2719.8 321.3,2723 321.4,2726.1 321.5,2729.2 321.6,2732.3 321.7,2735.5 321.7,2738.6 321.8,2741.7 321.9,2744.9 322,2748 322.1,2751.2 322.2,2754.3 322.3,2757.4 322.4,2760.6 322.5,2763.7 322.5,2766.8 322.6,2769.9 322.7,2773 322.8,2776.1 322.9,2779.2 323,2782.2 323.1,2785.3 323.2,2788.3 323.3,2791.3 323.4,2794.4 323.5,2797.3 323.6,2800.3 323.7,2803.3 323.8,2806.2 323.9,2809.1 324,2812 324.1,2814.8 324.2,2817.6 324.3,2820.4 324.4,2823.2 324.5,2826 324.6,2828.7 324.7,2831.4 324.8,2834 324.9,2837.4 325.1,2840.7 325.2,2844 325.3,2847.3 325.5,2850.5 325.6,2853.6 325.7,2856.8 325.9,2859.9 326,2863 326.1,2866 326.3,2869.1 326.4,2872.1 326.6,2875 326.7,2878 326.8,2880.9 327,2883.9 327.1,2886.8 327.3,2889.7 327.4,2892.5 327.6,2895.4 327.8,2898.3 327.9,2901.2 328.1,2904 328.3,2906.9 328.4,2909.8 328.6,2912.6 328.8,2915.5 329,2918.7 329.2,2922 329.4,2925.2 329.6,2928.4 329.9,2931.7 330.1,2934.9 330.3,2938.1 330.5,2941.4 330.7,2944.6 331,2947.7 331.2,2950.9 331.5,2954 331.7,2957.1 332,2960.2 332.2,2963.2 332.5,2966.2 332.8,2969.2 333.1,2972.1 333.4,2975 333.7,2977.8 334,2980.6 334.3,2983.3 334.7,2986.8 335.2,2990.3 335.6,2993.7 336.1,2997.1 336.5,3000.4 337,3003.6 337.5,3006.8 338,3009.9 338.6,3012.9 339.1,3015.8 339.8,3018.7 340.4,3021.4 341.1,3024 342.1,3027.7 343.1,3031.5 344.2,3035.3 345.4,3038.8 346.6,3041.6 347.9,3043.6 349.2,3044.4 351,3043.6 352.9,3041.1 354.8,3037.5 356.8,3033.4 358.7,3029.4 359.8,3027.1 360.8,3024.6 361.9,3021.9 362.9,3019.2 363.9,3016.2 365,3013.2 366,3010.2 367,3007 368,3003.9 369.1,3000.7 370.1,2997.6 371.2,2994.5 372.3,2991.4 373.3,2988.6 374.3,2985.6 375.3,2982.6 376.3,2979.6 377.4,2976.5 378.4,2973.4 379.4,2970.3 380.5,2967.3 381.5,2964.3 382.6,2961.3 383.7,2958.4 384.9,2955.6 386,2953 387.2,2950.4 388.5,2948 390.1,2945.1 391.8,2942.3 393.5,2939.5 395.3,2937 397.1,2934.5 398.9,2932.2 400.8,2930.1 402.8,2928.1 404.8,2926.3 407.3,2924.4 409.9,2922.8 412.6,2921.4 415.3,2920.2 418.2,2919.1 421.1,2918.2 423.9,2917.4 426.7,2916.8 429.6,2916.4 432.6,2916 435.8,2915.8 439.1,2915.6 442.8,2915.5 445.2,2915.5 447.7,2915.5 450.3,2915.6 453,2915.7 455.8,2915.8 458.7,2916 461.6,2916.3 464.6,2916.5 467.7,2916.8 470.9,2917.1 474.1,2917.4 477.3,2917.7 480.5,2918 483.8,2918.3 487.1,2918.6 490.5,2918.9 493.8,2919.2 497.1,2919.5 499.8,2919.7 502.6,2919.9 505.4,2920.2 508.2,2920.4 511,2920.7 513.9,2920.9 516.8,2921.2 519.7,2921.4 522.7,2921.7 525.7,2921.9 528.6,2922.2 531.7,2922.5 534.7,2922.7 537.7,2923 540.8,2923.3 543.9,2923.6 547,2923.8 550.1,2924.1 553.2,2924.4 556.3,2924.6 559.5,2924.9 562.6,2925.1 565.8,2925.4 569,2925.6 572.1,2925.8 575.3,2926.1 578.5,2926.3 581.4,2926.5 584.3,2926.7 587.3,2926.9 590.3,2927.1 593.3,2927.3 596.3,2927.5 599.3,2927.7 602.3,2927.8 605.3,2928 608.4,2928.2 611.5,2928.4 614.5,2928.6 617.6,2928.8 620.7,2928.9 623.8,2929.1 626.9,2929.3 630.1,2929.4 633.2,2929.6 636.3,2929.8 639.4,2929.9 642.6,2930.1 645.7,2930.3 648.8,2930.4 652,2930.6 655.1,2930.7 658.2,2930.9 661.3,2931 664.5,2931.1 667.6,2931.3 670.7,2931.4 673.8,2931.5 676.9,2931.7 680,2931.8 683,2931.9 686.1,2932 689.1,2932.1 692.2,2932.3 695.3,2932.4 698.5,2932.5 701.6,2932.6 704.7,2932.7 707.9,2932.8 711,2932.8 714.2,2932.9 717.3,2933 720.5,2933.1 723.6,2933.2 726.8,2933.3 729.9,2933.3 733.1,2933.4 736.2,2933.5 739.3,2933.6 742.4,2933.6 745.5,2933.7 748.5,2933.8 751.5,2933.8 754.6,2933.9 757.5,2934 760.5,2934 763.4,2934.1 766.3,2934.1 769.2,2934.2 772,2934.3 774.8,2934.3 777.5,2934.4 780.2,2934.4 782.9,2934.5 786.3,2934.6 789.7,2934.6 792.9,2934.7 796.2,2934.8 799.3,2934.8 802.4,2934.9 805.5,2934.9 808.5,2935 811.5,2935.1 814.5,2935.1 817.4,2935.2 820.4,2935.2 823.3,2935.2 826.2,2935.3 829.2,2935.3 832.1,2935.4 835.1,2935.4 838.1,2935.5 841.1,2935.5 844.1,2935.6" fill="none" stroke="#0000ff" stroke-width="4.0" stroke-linejoin="round"/><path d="M320.2,2427 320.3,2430 320.3,2433 320.4,2436 320.5,2439.1 320.6,2442.1 320.6,2445.1 320.7,2448.1 320.8,2451.1 320.8,2454.1 320.9,2457.2 321,2460.2 321,2463.2 321.1,2466.2 321.2,2469.2 321.2,2472.2 321.3,2475.2 321.4,2478.3 321.4,2481.3 321.5,2484.3 321.6,2487.3 321.6,2490.3 321.7,2493.3 321.8,2496.4 321.8,2499.4 321.9,2502.4 322,2505.4 322.1,2508.4 322.1,2511.4 322.2,2514.5 322.3,2517.5 322.3,2520.5 322.4,2523.5 322.5,2526.5 322.6,2529.5 322.6,2532.5 322.7,2535.6 322.8,2538.6 322.9,2541.6 322.9,2544.6 323,2547.6 323.1,2550.6 323.2,2553.7 323.2,2556.7 323.3,2559.7 323.4,2562.7 323.5,2565.7 323.6,2568.8 323.6,2571.8 323.7,2574.9 323.8,2578 323.9,2581.1 324,2584.2 324,2587.3 324.1,2590.4 324.2,2593.5 324.3,2596.7 324.3,2599.8 324.4,2602.9 324.5,2606.1 324.6,2609.2 324.7,2612.4 324.7,2615.5 324.8,2618.6 324.9,2621.8 325,2624.9 325.1,2628 325.1,2631.2 325.2,2634.3 325.3,2637.4 325.4,2640.5 325.5,2643.5 325.6,2646.6 325.7,2649.7 325.8,2652.7 325.9,2655.7 326,2658.7 326.1,2661.7 326.2,2664.7 326.3,2667.6 326.4,2670.6 326.5,2673.5 326.6,2676.4 326.7,2679.2 326.8,2682 326.9,2684.8 327,2687.6 327.1,2690.4 327.3,2693.1 327.4,2695.8 327.5,2698.4 327.7,2701.8 327.8,2705.1 328,2708.4 328.2,2711.6 328.4,2714.9 328.5,2718 328.7,2721.2 328.9,2724.3 329.1,2727.4 329.3,2730.4 329.5,2733.4 329.6,2736.4 329.8,2739.4 330,2742.3 330.2,2745.3 330.5,2748.2 330.7,2751.1 330.9,2754 331.1,2756.9 331.3,2759.7 331.5,2762.6 331.7,2765.5 332,2768.3 332.2,2771.2 332.4,2774.1 332.7,2776.9 332.9,2779.8 333.2,2783 333.4,2786.3 333.7,2789.5 334,2792.7 334.2,2796 334.5,2799.2 334.8,2802.4 335.1,2805.7 335.4,2808.9 335.6,2812 335.9,2815.2 336.2,2818.3 336.5,2821.4 336.9,2824.5 337.2,2827.5 337.5,2830.5 337.8,2833.5 338.2,2836.4 338.6,2839.3 338.9,2842.1 339.3,2844.9 339.7,2847.6 340.2,2851.1 340.7,2854.6 341.3,2858 341.8,2861.4 342.3,2864.7 342.9,2867.9 343.5,2871.1 344.1,2874.2 344.7,2877.2 345.4,2880.1 346.1,2882.9 346.9,2885.7 347.8,2888.3 348.9,2891.5 350,2894.6 351.2,2897.5 352.5,2900.4 353.8,2903.1 355.3,2905.6 356.9,2907.9 358.7,2910 361,2912.2 363.5,2914.1 366.1,2915.8 368.9,2917.2 371.9,2918.5 375,2919.5 377.6,2920.2 380.4,2920.6 383.2,2920.9 386.2,2921 389.2,2921.1 392.4,2921.1 395.6,2921 398.8,2920.9 402.1,2920.9 404.9,2920.8 407.8,2920.7 410.8,2920.5 413.8,2920.3 416.9,2920 420,2919.7 423.1,2919.4 426.3,2919.1 429.6,2918.8 432.8,2918.6 436.1,2918.4 439.5,2918.3 442.8,2918.2 445.6,2918.2 448.4,2918.2 451.3,2918.3 454.1,2918.4 457,2918.5 459.9,2918.6 462.8,2918.7 465.8,2918.9 468.8,2919.1 471.8,2919.3 474.8,2919.5 477.9,2919.7 481,2919.9 484.1,2920.1 487.3,2920.3 490.5,2920.5 493.8,2920.7 497.1,2920.9 499.8,2921.1 502.6,2921.2 505.4,2921.4 508.2,2921.6 511,2921.8 513.9,2922 516.8,2922.1 519.7,2922.3 522.7,2922.5 525.7,2922.8 528.6,2923 531.7,2923.2 534.7,2923.4 537.7,2923.6 540.8,2923.8 543.9,2924 547,2924.2 550.1,2924.4 553.2,2924.7 556.3,2924.9 559.5,2925.1 562.6,2925.3 565.8,2925.5 569,2925.7 572.1,2925.9 575.3,2926.1 578.5,2926.3 581.4,2926.5 584.4,2926.7 587.3,2926.8 590.3,2927 593.3,2927.2 596.3,2927.4 599.3,2927.6 602.3,2927.7 605.4,2927.9 608.4,2928.1 611.5,2928.3 614.6,2928.5 617.6,2928.6 620.7,2928.8 623.8,2929 626.9,2929.2 630.1,2929.3 633.2,2929.5 636.3,2929.7 639.4,2929.9 642.6,2930 645.7,2930.2 648.8,2930.4 652,2930.5 655.1,2930.7 658.2,2930.8 661.3,2931 664.5,2931.1 667.6,2931.3 670.7,2931.4 673.8,2931.5 676.9,2931.7 680,2931.8 683,2931.9 686.1,2932 689.1,2932.1 692.2,2932.3 695.3,2932.4 698.5,2932.5 701.6,2932.6 704.7,2932.7 707.9,2932.8 711,2932.8 714.2,2932.9 717.3,2933 720.5,2933.1 723.6,2933.2 726.8,2933.3 729.9,2933.3 733.1,2933.4 736.2,2933.5 739.3,2933.6 742.4,2933.6 745.5,2933.7 748.5,2933.8 751.5,2933.8 754.6,2933.9 757.5,2934 760.5,2934 763.4,2934.1 766.3,2934.1 769.2,2934.2 772,2934.3 774.8,2934.3 777.5,2934.4 780.2,2934.4 782.9,2934.5 786.3,2934.6 789.7,2934.6 792.9,2934.7 796.2,2934.8 799.3,2934.8 802.4,2934.9 805.5,2934.9 808.5,2935 811.5,2935.1 814.5,2935.1 817.4,2935.2 820.4,2935.2 823.3,2935.2 826.2,2935.3 829.2,2935.3 832.1,2935.4 835.1,2935.4 838.1,2935.5 841.1,2935.5 844.1,2935.6" fill="none" stroke="#008000" stroke-width="4.0" stroke-linejoin="round"/></g>
<clipPath id="cp7"><rect x="1146.8" y="2427" width="738.9" height="668"/></clipPath>
<g clip-path="url(#cp7)"><line x1="1422.9" y1="2696.8" x2="1398.9" y2="2641.9" stroke="#858585" stroke-width="15"/><line x1="1422.9" y1="2696.8" x2="1398.9" y2="2641.9" stroke="#e2e2e2" stroke-width="11"/><line x1="1422.9" y1="2696.8" x2="1398.9" y2="2641.9" stroke="#f8f8f8" stroke-width="4.4"/><circle cx="1398.9" cy="2641.9" r="10" fill="url(#gH)" stroke="#707070" stroke-width="2.3"/><line x1="1422.9" y1="2696.8" x2="1398.9" y2="2720.8" stroke="#858585" stroke-width="14"/><line x1="1422.9" y1="2696.8" x2="1398.9" y2="2720.8" stroke="#e2e2e2" stroke-width="10"/><line x1="1422.9" y1="2696.8" x2="1398.9" y2="2720.8" stroke="#f8f8f8" stroke-width="4"/><circle cx="1398.9" cy="2720.8" r="10" fill="url(#gH)" stroke="#707070" stroke-width="2.3"/><line x1="1422.9" y1="2696.8" x2="1510.4" y2="2688.2" stroke="#858585" stroke-width="22"/><line x1="1422.9" y1="2696.8" x2="1510.4" y2="2688.2" stroke="#e2e2e2" stroke-width="18"/><line x1="1422.9" y1="2696.8" x2="1510.4" y2="2688.2" stroke="#f8f8f8" stroke-width="7.2"/><circle cx="1422.9" cy="2696.8" r="20.5" fill="url(#gN)" stroke="#2f5f70" stroke-width="2.4"/><line x1="1510.4" y1="2688.2" x2="1529.3" y2="2650.4" stroke="#858585" stroke-width="14"/><line x1="1510.4" y1="2688.2" x2="1529.3" y2="2650.4" stroke="#e2e2e2" stroke-width="10"/><line x1="1510.4" y1="2688.2" x2="1529.3" y2="2650.4" stroke="#f8f8f8" stroke-width="4"/><circle cx="1529.3" cy="2650.4" r="10" fill="url(#gH)" stroke="#707070" stroke-width="2.3"/><line x1="1510.4" y1="2688.2" x2="1536.2" y2="2748.3" stroke="#858585" stroke-width="15"/><line x1="1510.4" y1="2688.2" x2="1536.2" y2="2748.3" stroke="#e2e2e2" stroke-width="11"/><line x1="1510.4" y1="2688.2" x2="1536.2" y2="2748.3" stroke="#f8f8f8" stroke-width="4.4"/><circle cx="1536.2" cy="2748.3" r="10" fill="url(#gH)" stroke="#707070" stroke-width="2.3"/><circle cx="1510.4" cy="2688.2" r="19.5" fill="url(#gC)" stroke="#6a4010" stroke-width="2.4"/><line x1="1510.4" y1="2688.2" x2="1532.8" y2="2664.2" stroke="#5e5e5e" stroke-width="12"/><line x1="1510.4" y1="2688.2" x2="1532.8" y2="2664.2" stroke="#9a9a9a" stroke-width="8"/><line x1="1510.4" y1="2688.2" x2="1532.8" y2="2664.2" stroke="#b8b8b8" stroke-width="3.2"/><circle cx="1532.8" cy="2664.2" r="10" fill="url(#gH)" stroke="#707070" stroke-width="2.3"/><line x1="1752.5" y1="2599" x2="1719.9" y2="2581.8" stroke="#858585" stroke-width="14"/><line x1="1752.5" y1="2599" x2="1719.9" y2="2581.8" stroke="#e2e2e2" stroke-width="10"/><line x1="1752.5" y1="2599" x2="1719.9" y2="2581.8" stroke="#f8f8f8" stroke-width="4"/><circle cx="1719.9" cy="2581.8" r="10" fill="url(#gH)" stroke="#707070" stroke-width="2.3"/><line x1="1752.5" y1="2599" x2="1749" y2="2552.6" stroke="#858585" stroke-width="14"/><line x1="1752.5" y1="2599" x2="1749" y2="2552.6" stroke="#e2e2e2" stroke-width="10"/><line x1="1752.5" y1="2599" x2="1749" y2="2552.6" stroke="#f8f8f8" stroke-width="4"/><circle cx="1749" cy="2552.6" r="10" fill="url(#gH)" stroke="#707070" stroke-width="2.3"/><line x1="1752.5" y1="2599" x2="1814.3" y2="2607.5" stroke="#858585" stroke-width="15"/><line x1="1752.5" y1="2599" x2="1814.3" y2="2607.5" stroke="#e2e2e2" stroke-width="11"/><line x1="1752.5" y1="2599" x2="1814.3" y2="2607.5" stroke="#f8f8f8" stroke-width="4.4"/><circle cx="1814.3" cy="2607.5" r="10" fill="url(#gH)" stroke="#707070" stroke-width="2.3"/><line x1="1713" y1="2672.8" x2="1752.5" y2="2599" stroke="#858585" stroke-width="20"/><line x1="1713" y1="2672.8" x2="1752.5" y2="2599" stroke="#e2e2e2" stroke-width="16"/><line x1="1713" y1="2672.8" x2="1752.5" y2="2599" stroke="#f8f8f8" stroke-width="6.4"/><circle cx="1752.5" cy="2599" r="20" fill="url(#gC)" stroke="#6a4010" stroke-width="2.4"/><line x1="1642.6" y1="2676.2" x2="1713" y2="2672.8" stroke="#858585" stroke-width="20"/><line x1="1642.6" y1="2676.2" x2="1713" y2="2672.8" stroke="#e2e2e2" stroke-width="16"/><line x1="1642.6" y1="2676.2" x2="1713" y2="2672.8" stroke="#f8f8f8" stroke-width="6.4"/><circle cx="1642.6" cy="2676.2" r="21" fill="url(#gO)" stroke="#600000" stroke-width="2.4"/><line x1="1713" y1="2672.8" x2="1762.8" y2="2732.8" stroke="#858585" stroke-width="20"/><line x1="1713" y1="2672.8" x2="1762.8" y2="2732.8" stroke="#e2e2e2" stroke-width="16"/><line x1="1713" y1="2672.8" x2="1762.8" y2="2732.8" stroke="#f8f8f8" stroke-width="6.4"/><circle cx="1713" cy="2672.8" r="20" fill="url(#gC)" stroke="#6a4010" stroke-width="2.4"/><line x1="1762.8" y1="2732.8" x2="1821.1" y2="2729.4" stroke="#858585" stroke-width="15"/><line x1="1762.8" y1="2732.8" x2="1821.1" y2="2729.4" stroke="#e2e2e2" stroke-width="11"/><line x1="1762.8" y1="2732.8" x2="1821.1" y2="2729.4" stroke="#f8f8f8" stroke-width="4.4"/><circle cx="1821.1" cy="2729.4" r="10" fill="url(#gH)" stroke="#707070" stroke-width="2.3"/><line x1="1762.8" y1="2732.8" x2="1740.5" y2="2780.9" stroke="#858585" stroke-width="15"/><line x1="1762.8" y1="2732.8" x2="1740.5" y2="2780.9" stroke="#e2e2e2" stroke-width="11"/><line x1="1762.8" y1="2732.8" x2="1740.5" y2="2780.9" stroke="#f8f8f8" stroke-width="4.4"/><circle cx="1740.5" cy="2780.9" r="10" fill="url(#gH)" stroke="#707070" stroke-width="2.3"/><circle cx="1762.8" cy="2732.8" r="20.5" fill="url(#gN)" stroke="#2f5f70" stroke-width="2.4"/><g fill="none" stroke="#000" stroke-width="3.0"><circle cx="1300.3" cy="2462.3" r="9.6"/><circle cx="1304.4" cy="2561.3" r="9.6"/><circle cx="1307.1" cy="2642.7" r="9.6"/><circle cx="1313.1" cy="2760.8" r="9.6"/><circle cx="1319.3" cy="2839.5" r="9.6"/><circle cx="1320" cy="2887.6" r="9.6"/><circle cx="1325.6" cy="2915.1" r="9.6"/><circle cx="1331.3" cy="2934.1" r="9.6"/><circle cx="1337" cy="2944.6" r="9.6"/><circle cx="1342" cy="2949" r="9.6"/><circle cx="1346.5" cy="2950.3" r="9.6"/><circle cx="1352" cy="2946" r="9.6"/><circle cx="1356.5" cy="2941" r="9.6"/><circle cx="1361.7" cy="2935.1" r="9.6"/><circle cx="1365.5" cy="2932" r="9.6"/><circle cx="1369.3" cy="2929.4" r="9.6"/><circle cx="1374" cy="2926.5" r="9.6"/><circle cx="1378.8" cy="2923.7" r="9.6"/><circle cx="1382.5" cy="2921" r="9.6"/><circle cx="1386.4" cy="2918" r="9.6"/><circle cx="1390" cy="2915" r="9.6"/><circle cx="1394" cy="2912.3" r="9.6"/><circle cx="1398.5" cy="2909.5" r="9.6"/><circle cx="1403.5" cy="2906.6" r="9.6"/><circle cx="1408" cy="2903.8" r="9.6"/><circle cx="1413" cy="2900.9" r="9.6"/><circle cx="1420.6" cy="2897.1" r="9.6"/><circle cx="1435.8" cy="2893.3" r="9.6"/><circle cx="1454.8" cy="2890.4" r="9.6"/><circle cx="1515.6" cy="2883.5" r="9.6"/><circle cx="1577.4" cy="2877.5" r="9.6"/><circle cx="1639.2" cy="2875.5" r="9.6"/><circle cx="1701" cy="2875.3" r="9.6"/><circle cx="1762.8" cy="2873.6" r="9.6"/></g><path d="M1281.3,2475.8 1281.4,2478.9 1281.4,2482 1281.5,2485 1281.6,2487.9 1281.6,2490.9 1281.7,2493.8 1281.8,2496.8 1281.8,2499.7 1281.9,2502.7 1282,2505.6 1282,2508.7 1282.1,2511.7 1282.2,2514.9 1282.3,2518.1 1282.3,2521.3 1282.4,2524.7 1282.5,2528.2 1282.6,2531.8 1282.7,2535.5 1282.8,2537.9 1282.8,2540.4 1282.9,2543 1283,2545.5 1283,2548.2 1283.1,2550.8 1283.2,2553.6 1283.3,2556.3 1283.3,2559.1 1283.4,2562 1283.5,2564.8 1283.6,2567.7 1283.7,2570.7 1283.8,2573.7 1283.8,2576.7 1283.9,2579.7 1284,2582.7 1284.1,2585.8 1284.2,2588.9 1284.3,2592 1284.4,2595.2 1284.5,2598.3 1284.6,2601.5 1284.7,2604.7 1284.8,2607.9 1284.9,2611.1 1285,2614.3 1285,2617.5 1285.1,2620.7 1285.2,2623.9 1285.3,2627.2 1285.4,2630.4 1285.6,2633.6 1285.7,2636.8 1285.8,2640 1285.9,2643.2 1286,2646.4 1286.1,2649.5 1286.2,2652.7 1286.3,2655.8 1286.4,2658.9 1286.5,2662 1286.6,2665.1 1286.7,2668.2 1286.8,2671.2 1286.9,2674.2 1287,2677.2 1287.1,2680.3 1287.2,2683.3 1287.3,2686.4 1287.4,2689.4 1287.5,2692.5 1287.7,2695.5 1287.8,2698.6 1287.9,2701.6 1288,2704.7 1288.1,2707.8 1288.2,2710.9 1288.3,2713.9 1288.4,2717 1288.5,2720.1 1288.6,2723.1 1288.8,2726.2 1288.9,2729.3 1289,2732.3 1289.1,2735.4 1289.2,2738.5 1289.3,2741.5 1289.5,2744.6 1289.6,2747.6 1289.7,2750.7 1289.8,2753.7 1289.9,2756.7 1290.1,2759.8 1290.2,2762.8 1290.3,2765.8 1290.4,2768.8 1290.6,2771.8 1290.7,2774.8 1290.8,2777.8 1291,2780.7 1291.1,2783.7 1291.2,2786.6 1291.4,2789.6 1291.5,2792.5 1291.6,2795.4 1291.8,2798.3 1291.9,2801.2 1292.1,2804 1292.2,2806.9 1292.4,2810.1 1292.5,2813.3 1292.7,2816.5 1292.9,2819.7 1293,2823 1293.2,2826.2 1293.4,2829.4 1293.5,2832.7 1293.7,2835.9 1293.9,2839.1 1294.1,2842.4 1294.2,2845.6 1294.4,2848.8 1294.6,2852 1294.8,2855.2 1295,2858.3 1295.1,2861.5 1295.3,2864.6 1295.5,2867.7 1295.7,2870.8 1295.9,2873.9 1296.1,2876.9 1296.3,2879.9 1296.5,2882.9 1296.7,2885.8 1296.9,2888.7 1297.1,2891.6 1297.3,2894.4 1297.5,2897.2 1297.7,2900 1297.9,2902.7 1298.1,2905.4 1298.3,2908 1298.6,2910.5 1298.8,2913 1299,2915.5 1299.3,2919.2 1299.7,2922.7 1300,2926.2 1300.4,2929.6 1300.7,2932.9 1301.1,2936.2 1301.4,2939.4 1301.8,2942.5 1302.1,2945.5 1302.5,2948.5 1302.9,2951.4 1303.3,2954.2 1303.7,2957 1304.1,2959.7 1304.6,2962.4 1305,2965 1305.6,2968.8 1306.2,2972.5 1306.8,2976.1 1307.4,2979.5 1308.1,2982.8 1308.9,2985.8 1309.8,2988.6 1311,2991 1312.9,2994.1 1315,2996.8 1317.3,2998.8 1319.9,2999.7 1322.4,2999.3 1325.1,2998 1328.1,2995.9 1331.1,2993.4 1334.1,2990.8 1337,2988.3 1339.4,2986.2 1341.8,2984 1344.1,2981.6 1346.5,2979.1 1348.9,2976.6 1351.2,2974.1 1353.6,2971.6 1356,2969.3 1358.3,2967.1 1360.7,2964.9 1363.1,2962.7 1365.4,2960.6 1367.8,2958.4 1370.2,2956.3 1372.6,2954.3 1375,2952.2 1377.3,2950.2 1379.7,2948.2 1382.1,2946.2 1384.4,2944.3 1386.8,2942.4 1389.2,2940.5 1391.6,2938.7 1394,2937 1396.6,2935.2 1399.2,2933.5 1401.8,2931.8 1404.5,2930.2 1407.2,2928.7 1410,2927.1 1413,2925.6 1415.6,2924.4 1418.3,2923.2 1421.1,2922 1423.9,2920.8 1426.8,2919.7 1429.8,2918.5 1432.7,2917.4 1435.7,2916.3 1438.6,2915.3 1441.5,2914.2 1444.3,2913.2 1447.1,2912.1 1449.9,2911.1 1452.7,2910.1 1455.4,2909.2 1458.3,2908.2 1461.1,2907.3 1464,2906.4 1467,2905.5 1470,2904.7 1472.9,2903.9 1475.9,2903.2 1478.9,2902.5 1482,2901.9 1485.1,2901.2 1488.2,2900.6 1491.4,2900 1494.7,2899.4 1497.9,2898.9 1501.2,2898.3 1504.6,2897.7 1508,2897.1 1510.8,2896.6 1513.7,2896.1 1516.6,2895.6 1519.6,2895.1 1522.6,2894.7 1525.6,2894.2 1528.6,2893.7 1531.7,2893.2 1534.8,2892.8 1537.9,2892.3 1541,2891.9 1544.2,2891.4 1547.3,2891 1550.5,2890.6 1553.7,2890.2 1556.8,2889.8 1560,2889.5 1562.9,2889.2 1565.8,2888.9 1568.8,2888.7 1571.7,2888.4 1574.7,2888.2 1577.7,2888 1580.7,2887.7 1583.7,2887.5 1586.7,2887.4 1589.7,2887.2 1592.7,2887 1595.8,2886.8 1598.8,2886.7 1601.9,2886.5 1604.9,2886.3 1607.9,2886.2 1611,2886 1614,2885.8 1617,2885.7 1620,2885.5 1623,2885.3 1626,2885.2 1628.9,2885 1631.8,2884.8 1634.8,2884.7 1637.7,2884.5 1640.6,2884.4 1643.5,2884.2 1646.5,2884.1 1649.4,2883.9 1652.3,2883.8 1655.3,2883.6 1658.3,2883.5 1661.3,2883.4 1664.3,2883.2 1667.4,2883.1 1670.5,2882.9 1673.6,2882.8 1676.8,2882.6 1680,2882.5 1682.8,2882.4 1685.7,2882.3 1688.6,2882.1 1691.5,2882 1694.5,2881.9 1697.5,2881.8 1700.5,2881.6 1703.5,2881.5 1706.5,2881.4 1709.6,2881.3 1712.7,2881.2 1715.8,2881.1 1718.9,2880.9 1722,2880.8 1725.1,2880.7 1728.2,2880.6 1731.4,2880.5 1734.5,2880.4 1737.7,2880.2 1740.8,2880.1 1743.9,2880 1747,2879.9 1750.2,2879.8 1753.3,2879.7 1756.4,2879.5 1759.4,2879.4 1762.5,2879.3" fill="none" stroke="#ff0000" stroke-width="4.0" stroke-linejoin="round"/><path d="M1281.3,2538.3 1281.4,2541.3 1281.4,2544.3 1281.5,2547.3 1281.5,2550.3 1281.6,2553.3 1281.7,2556.3 1281.7,2559.3 1281.8,2562.3 1281.8,2565.3 1281.9,2568.2 1281.9,2571.2 1282,2574.2 1282,2577.2 1282.1,2580.1 1282.1,2583.1 1282.2,2586.1 1282.2,2589 1282.3,2592 1282.4,2595 1282.4,2598 1282.5,2600.9 1282.5,2603.9 1282.6,2606.9 1282.6,2609.9 1282.7,2612.9 1282.7,2615.9 1282.8,2618.9 1282.9,2621.9 1282.9,2624.9 1283,2627.9 1283,2630.9 1283.1,2634 1283.2,2637 1283.2,2640.1 1283.3,2643.1 1283.4,2646.2 1283.4,2649.3 1283.5,2652.4 1283.6,2655.5 1283.7,2658.6 1283.8,2661.7 1283.8,2664.9 1283.9,2668 1284,2671.2 1284.1,2674.1 1284.2,2677 1284.2,2679.9 1284.3,2682.8 1284.4,2685.7 1284.5,2688.7 1284.6,2691.7 1284.6,2694.7 1284.7,2697.7 1284.8,2700.7 1284.9,2703.7 1285,2706.7 1285.1,2709.8 1285.2,2712.8 1285.3,2715.9 1285.4,2719 1285.5,2722 1285.5,2725.1 1285.6,2728.2 1285.7,2731.3 1285.8,2734.4 1285.9,2737.5 1286,2740.6 1286.1,2743.7 1286.2,2746.8 1286.3,2749.9 1286.4,2753 1286.5,2756.1 1286.6,2759.2 1286.7,2762.3 1286.8,2765.4 1286.9,2768.5 1287.1,2771.6 1287.2,2774.7 1287.3,2777.8 1287.4,2780.9 1287.5,2783.9 1287.6,2787 1287.7,2790 1287.8,2793 1287.9,2796.1 1288.1,2799.1 1288.2,2802.1 1288.3,2805.1 1288.4,2808 1288.5,2811 1288.6,2813.9 1288.8,2816.8 1288.9,2819.8 1289,2822.6 1289.1,2825.5 1289.3,2828.4 1289.4,2831.2 1289.5,2834 1289.6,2837.3 1289.8,2840.5 1289.9,2843.8 1290.1,2847.1 1290.2,2850.4 1290.4,2853.6 1290.5,2856.9 1290.7,2860.1 1290.8,2863.4 1291,2866.6 1291.1,2869.9 1291.3,2873.1 1291.4,2876.3 1291.6,2879.5 1291.7,2882.7 1291.9,2885.9 1292,2889 1292.2,2892.2 1292.3,2895.3 1292.5,2898.4 1292.7,2901.6 1292.8,2904.6 1293,2907.7 1293.2,2910.8 1293.3,2913.8 1293.5,2916.8 1293.7,2919.8 1293.9,2922.7 1294,2925.7 1294.2,2928.6 1294.4,2931.5 1294.6,2934.3 1294.8,2937.2 1295,2940 1295.2,2942.8 1295.4,2945.5 1295.6,2948.2 1295.9,2950.9 1296.1,2953.6 1296.3,2956.2 1296.6,2959.7 1296.9,2963.3 1297.2,2966.8 1297.5,2970.3 1297.9,2973.8 1298.2,2977.3 1298.5,2980.7 1298.8,2984.1 1299.2,2987.5 1299.5,2990.8 1299.9,2994 1300.2,2997.2 1300.6,3000.3 1301,3003.3 1301.3,3006.3 1301.7,3009.1 1302.2,3011.9 1302.6,3014.5 1303,3017.1 1303.5,3019.5 1303.9,3021.8 1304.4,3024 1305.3,3028 1306.2,3031.6 1307.2,3034.9 1308.3,3037.9 1309.5,3040.6 1311,3043 1313.1,3045.8 1315.5,3048.4 1318.1,3050.3 1320.8,3051 1323.3,3050.4 1325.9,3048.8 1328.7,3046.4 1331.5,3043.6 1334.3,3040.6 1337,3037.7 1338.9,3035.6 1340.9,3033.4 1342.8,3031.1 1344.7,3028.7 1346.6,3026.2 1348.5,3023.6 1350.4,3021 1352.3,3018.3 1354.2,3015.7 1356,3013 1357.8,3010.4 1359.5,3007.6 1361.2,3004.8 1362.9,3002 1364.6,2999.1 1366.3,2996.3 1368,2993.4 1369.7,2990.6 1371.4,2987.8 1373.2,2985.2 1375,2982.6 1377,2979.8 1379.1,2977.1 1381.2,2974.5 1383.2,2971.9 1385.4,2969.4 1387.5,2966.9 1389.6,2964.5 1391.8,2962.1 1394,2959.8 1396.3,2957.4 1398.6,2955.1 1401,2952.9 1403.3,2950.7 1405.7,2948.6 1408.1,2946.5 1410.5,2944.6 1413,2942.7 1415.6,2940.8 1418.2,2939.1 1420.8,2937.5 1423.5,2935.9 1426.2,2934.4 1429,2932.9 1432,2931.3 1434.6,2929.9 1437.2,2928.6 1439.9,2927.2 1442.7,2925.8 1445.5,2924.5 1448.4,2923.1 1451.3,2921.8 1454.3,2920.5 1457.4,2919.2 1460.5,2918 1463.3,2917 1466.1,2915.9 1468.9,2914.9 1471.8,2914 1474.8,2913 1477.7,2912.1 1480.8,2911.2 1483.8,2910.3 1486.9,2909.4 1490.1,2908.5 1493.4,2907.7 1496.6,2906.8 1500,2906 1502.7,2905.4 1505.5,2904.7 1508.3,2904.1 1511.2,2903.5 1514.1,2902.9 1517,2902.3 1520,2901.8 1523,2901.2 1526.1,2900.7 1529.2,2900.1 1532.2,2899.6 1535.3,2899.1 1538.5,2898.6 1541.6,2898 1544.7,2897.6 1547.8,2897.1 1550.9,2896.6 1553.9,2896.1 1557,2895.7 1560,2895.2 1563,2894.8 1566,2894.3 1569,2893.9 1572,2893.5 1575,2893.1 1578,2892.7 1581,2892.3 1584,2891.9 1587,2891.6 1590,2891.2 1593,2890.9 1596,2890.5 1599,2890.2 1602,2889.9 1605,2889.5 1608,2889.2 1611,2888.9 1614,2888.6 1617,2888.3 1620,2888 1623,2887.7 1626,2887.4 1628.9,2887.2 1631.8,2886.9 1634.8,2886.7 1637.7,2886.4 1640.6,2886.2 1643.5,2886 1646.5,2885.7 1649.4,2885.5 1652.3,2885.3 1655.3,2885.1 1658.3,2884.9 1661.3,2884.7 1664.3,2884.5 1667.4,2884.3 1670.5,2884.1 1673.6,2883.9 1676.8,2883.7 1680,2883.5 1682.8,2883.3 1685.7,2883.2 1688.6,2883 1691.5,2882.8 1694.5,2882.7 1697.4,2882.5 1700.5,2882.3 1703.5,2882.2 1706.5,2882 1709.6,2881.9 1712.7,2881.7 1715.8,2881.6 1718.9,2881.4 1722,2881.3 1725.1,2881.1 1728.2,2881 1731.4,2880.8 1734.5,2880.7 1737.6,2880.5 1740.8,2880.4 1743.9,2880.2 1747,2880.1 1750.2,2879.9 1753.3,2879.8 1756.4,2879.6 1759.4,2879.5 1762.5,2879.3" fill="none" stroke="#0000ff" stroke-width="4.0" stroke-linejoin="round"/><path d="M1299.8,2427 1299.9,2430 1299.9,2433 1300,2436 1300,2439.1 1300,2442.1 1300.1,2445.1 1300.1,2448.1 1300.2,2451.1 1300.2,2454.1 1300.3,2457.1 1300.3,2460.2 1300.4,2463.2 1300.4,2466.2 1300.4,2469.2 1300.5,2472.2 1300.5,2475.2 1300.6,2478.2 1300.6,2481.2 1300.7,2484.3 1300.7,2487.3 1300.8,2490.3 1300.8,2493.3 1300.9,2496.3 1300.9,2499.3 1301,2502.3 1301,2505.4 1301.1,2508.4 1301.1,2511.4 1301.2,2514.4 1301.3,2517.4 1301.3,2520.4 1301.4,2523.4 1301.5,2526.5 1301.5,2529.5 1301.6,2532.5 1301.7,2535.5 1301.8,2538.5 1301.9,2541.5 1302,2544.5 1302,2547.5 1302.1,2550.5 1302.2,2553.5 1302.3,2556.5 1302.4,2559.5 1302.5,2562.5 1302.6,2565.5 1302.7,2568.5 1302.8,2571.5 1302.9,2574.5 1303,2577.4 1303.1,2580.4 1303.3,2583.4 1303.4,2586.4 1303.5,2589.4 1303.6,2592.4 1303.7,2595.4 1303.8,2598.4 1303.9,2601.4 1304.1,2604.4 1304.2,2607.4 1304.3,2610.5 1304.4,2613.5 1304.6,2616.5 1304.7,2619.5 1304.8,2622.6 1305,2625.6 1305.1,2628.7 1305.2,2631.8 1305.4,2634.8 1305.5,2637.9 1305.7,2641 1305.8,2644.1 1305.9,2647.1 1306.1,2650.1 1306.2,2653.1 1306.4,2656.1 1306.5,2659.1 1306.6,2662.2 1306.8,2665.2 1306.9,2668.3 1307.1,2671.4 1307.2,2674.5 1307.4,2677.6 1307.5,2680.7 1307.7,2683.8 1307.9,2686.9 1308,2690 1308.2,2693.2 1308.3,2696.3 1308.5,2699.4 1308.7,2702.5 1308.8,2705.7 1309,2708.8 1309.2,2711.9 1309.3,2715 1309.5,2718.1 1309.7,2721.2 1309.9,2724.3 1310,2727.4 1310.2,2730.5 1310.4,2733.5 1310.6,2736.6 1310.8,2739.6 1310.9,2742.7 1311.1,2745.7 1311.3,2748.7 1311.5,2751.6 1311.7,2754.6 1311.9,2757.5 1312.1,2760.4 1312.3,2763.3 1312.5,2766.2 1312.7,2769.5 1312.9,2772.7 1313.2,2776 1313.4,2779.3 1313.6,2782.6 1313.8,2785.9 1314,2789.1 1314.2,2792.4 1314.4,2795.7 1314.6,2798.9 1314.8,2802.2 1315,2805.4 1315.2,2808.6 1315.5,2811.8 1315.7,2815 1315.9,2818.1 1316.1,2821.3 1316.4,2824.4 1316.6,2827.4 1316.9,2830.5 1317.2,2833.5 1317.5,2836.4 1317.8,2839.4 1318.1,2842.3 1318.4,2845.1 1318.7,2847.9 1319.1,2850.7 1319.5,2853.4 1319.9,2856 1320.3,2858.7 1320.7,2861.2 1321.3,2864.7 1322,2868 1322.7,2871.4 1323.4,2874.6 1324.2,2877.8 1325,2880.9 1325.8,2883.9 1326.6,2886.9 1327.4,2889.8 1328.2,2892.7 1329.1,2895.5 1329.9,2898.2 1330.7,2900.9 1331.6,2903.5 1332.4,2906 1333.2,2908.5 1334.3,2912.1 1335.4,2915.5 1336.4,2918.8 1337.5,2922 1338.6,2925 1339.8,2927.9 1341.2,2930.6 1342.7,2933.2 1344.6,2936 1346.7,2938.6 1348.9,2941 1351.2,2943.2 1353.6,2945.1 1356,2946.5 1359.2,2947.7 1362.5,2948.4 1365.9,2948.6 1369.3,2948.4 1372.2,2947.8 1375.1,2946.8 1378,2945.4 1381.1,2944 1384.5,2942.7 1387,2941.8 1389.6,2941 1392.3,2940.1 1395.1,2939.1 1397.9,2938.2 1400.9,2937.2 1403.9,2936.2 1406.9,2935.3 1409.9,2934.2 1413,2933.2 1415.7,2932.3 1418.5,2931.3 1421.2,2930.3 1424,2929.3 1426.8,2928.2 1429.7,2927.2 1432.6,2926.1 1435.5,2925.1 1438.5,2924 1441.6,2923 1444.6,2921.9 1447.8,2920.9 1451,2919.9 1453.7,2919.1 1456.5,2918.2 1459.3,2917.4 1462.2,2916.5 1465.2,2915.7 1468.2,2914.8 1471.2,2914 1474.3,2913.1 1477.3,2912.3 1480.4,2911.4 1483.5,2910.6 1486.6,2909.8 1489.7,2909 1492.8,2908.2 1495.9,2907.5 1499,2906.7 1502,2906 1505,2905.4 1508,2904.7 1511.1,2904 1514.2,2903.4 1517.2,2902.8 1520.3,2902.3 1523.3,2901.7 1526.3,2901.2 1529.3,2900.7 1532.4,2900.2 1535.4,2899.7 1538.4,2899.2 1541.4,2898.8 1544.5,2898.3 1547.5,2897.9 1550.6,2897.4 1553.7,2897 1556.8,2896.5 1560,2896.1 1562.9,2895.7 1565.8,2895.3 1568.8,2894.9 1571.7,2894.5 1574.7,2894.1 1577.7,2893.7 1580.7,2893.4 1583.7,2893 1586.7,2892.6 1589.7,2892.3 1592.7,2891.9 1595.8,2891.5 1598.8,2891.2 1601.8,2890.9 1604.9,2890.5 1607.9,2890.2 1611,2889.9 1614,2889.6 1617,2889.3 1620,2889 1623,2888.7 1626,2888.4 1628.9,2888.2 1631.8,2887.9 1634.8,2887.7 1637.7,2887.4 1640.6,2887.2 1643.5,2886.9 1646.5,2886.7 1649.4,2886.5 1652.3,2886.3 1655.3,2886.1 1658.3,2885.9 1661.3,2885.7 1664.3,2885.5 1667.4,2885.3 1670.5,2885.1 1673.6,2884.9 1676.8,2884.7 1680,2884.5 1682.8,2884.3 1685.7,2884.2 1688.6,2884 1691.5,2883.9 1694.5,2883.7 1697.4,2883.6 1700.5,2883.5 1703.5,2883.3 1706.5,2883.2 1709.6,2883.1 1712.7,2882.9 1715.8,2882.8 1718.9,2882.7 1722,2882.6 1725.1,2882.5 1728.2,2882.3 1731.4,2882.2 1734.5,2882.1 1737.6,2882 1740.8,2881.9 1743.9,2881.7 1747,2881.6 1750.2,2881.5 1753.3,2881.4 1756.4,2881.3 1759.4,2881.1 1762.5,2881" fill="none" stroke="#008000" stroke-width="4.0" stroke-linejoin="round"/></g>
<g stroke="#3e3e3e" stroke-width="3.9" fill="none"><line x1="216.5" y1="659.3" x2="229" y2="659.3"/><line x1="216.5" y1="516.5" x2="229" y2="516.5"/><line x1="216.5" y1="373.6" x2="229" y2="373.6"/><line x1="216.5" y1="230.8" x2="229" y2="230.8"/><line x1="216.5" y1="88" x2="229" y2="88"/><line x1="229" y1="758" x2="229" y2="770.5"/><line x1="352" y1="758" x2="352" y2="770.5"/><line x1="475" y1="758" x2="475" y2="770.5"/><line x1="598" y1="758" x2="598" y2="770.5"/><line x1="721" y1="758" x2="721" y2="770.5"/><line x1="844" y1="758" x2="844" y2="770.5"/><rect x="229" y="88" width="738" height="670"/></g>
<g class="tx"><text x="202.5" y="678.6" text-anchor="end">0</text><text x="202.5" y="535.8" text-anchor="end">5</text><text x="202.5" y="392.9" text-anchor="end">10</text><text x="202.5" y="250.1" text-anchor="end">15</text><text x="202.5" y="107.3" text-anchor="end">20</text><text x="598" y="66" text-anchor="middle">Orientation 2</text></g>
<g stroke="#3e3e3e" stroke-width="3.9" fill="none"><line x1="1134.3" y1="647.7" x2="1146.8" y2="647.7"/><line x1="1134.3" y1="461.2" x2="1146.8" y2="461.2"/><line x1="1134.3" y1="274.8" x2="1146.8" y2="274.8"/><line x1="1134.3" y1="88.3" x2="1146.8" y2="88.3"/><line x1="1146.8" y1="758" x2="1146.8" y2="770.5"/><line x1="1270" y1="758" x2="1270" y2="770.5"/><line x1="1393.1" y1="758" x2="1393.1" y2="770.5"/><line x1="1516.2" y1="758" x2="1516.2" y2="770.5"/><line x1="1639.4" y1="758" x2="1639.4" y2="770.5"/><line x1="1762.6" y1="758" x2="1762.6" y2="770.5"/><rect x="1146.8" y="88" width="738.9" height="670"/></g>
<g class="tx"><text x="1120.3" y="667" text-anchor="end">−10</text><text x="1120.3" y="480.5" text-anchor="end">0</text><text x="1120.3" y="294.1" text-anchor="end">10</text><text x="1120.3" y="107.6" text-anchor="end">20</text><text x="1516.2" y="66" text-anchor="middle">Orientation 5</text></g>
<g stroke="#3e3e3e" stroke-width="3.9" fill="none"><line x1="216.5" y1="1503.3" x2="229" y2="1503.3"/><line x1="216.5" y1="1342.8" x2="229" y2="1342.8"/><line x1="216.5" y1="1182.2" x2="229" y2="1182.2"/><line x1="216.5" y1="1021.7" x2="229" y2="1021.7"/><line x1="216.5" y1="861.2" x2="229" y2="861.2"/><line x1="229" y1="1529.9" x2="229" y2="1542.4"/><line x1="352" y1="1529.9" x2="352" y2="1542.4"/><line x1="475" y1="1529.9" x2="475" y2="1542.4"/><line x1="598" y1="1529.9" x2="598" y2="1542.4"/><line x1="721" y1="1529.9" x2="721" y2="1542.4"/><line x1="844" y1="1529.9" x2="844" y2="1542.4"/><rect x="229" y="861.2" width="738" height="668.7"/></g>
<g class="tx"><text x="202.5" y="1522.6" text-anchor="end">−20</text><text x="202.5" y="1362.1" text-anchor="end">−10</text><text x="202.5" y="1201.5" text-anchor="end">0</text><text x="202.5" y="1041" text-anchor="end">10</text><text x="202.5" y="880.5" text-anchor="end">20</text><text x="598" y="839.2" text-anchor="middle">Orientation 6</text></g>
<g stroke="#3e3e3e" stroke-width="3.9" fill="none"><line x1="1134.3" y1="1521.2" x2="1146.8" y2="1521.2"/><line x1="1134.3" y1="1301.1" x2="1146.8" y2="1301.1"/><line x1="1134.3" y1="1081" x2="1146.8" y2="1081"/><line x1="1134.3" y1="860.9" x2="1146.8" y2="860.9"/><line x1="1146.8" y1="1529.9" x2="1146.8" y2="1542.4"/><line x1="1270" y1="1529.9" x2="1270" y2="1542.4"/><line x1="1393.1" y1="1529.9" x2="1393.1" y2="1542.4"/><line x1="1516.2" y1="1529.9" x2="1516.2" y2="1542.4"/><line x1="1639.4" y1="1529.9" x2="1639.4" y2="1542.4"/><line x1="1762.6" y1="1529.9" x2="1762.6" y2="1542.4"/><rect x="1146.8" y="861.2" width="738.9" height="668.7"/></g>
<g class="tx"><text x="1120.3" y="1540.5" text-anchor="end">−10</text><text x="1120.3" y="1320.4" text-anchor="end">0</text><text x="1120.3" y="1100.3" text-anchor="end">10</text><text x="1120.3" y="880.2" text-anchor="end">20</text><text x="1516.2" y="839.2" text-anchor="middle">Orientation 9</text></g>
<g stroke="#3e3e3e" stroke-width="3.9" fill="none"><line x1="216.5" y1="2189.4" x2="229" y2="2189.4"/><line x1="216.5" y1="2011.4" x2="229" y2="2011.4"/><line x1="216.5" y1="1833.5" x2="229" y2="1833.5"/><line x1="216.5" y1="1655.5" x2="229" y2="1655.5"/><line x1="229" y1="2323.8" x2="229" y2="2336.3"/><line x1="352" y1="2323.8" x2="352" y2="2336.3"/><line x1="475" y1="2323.8" x2="475" y2="2336.3"/><line x1="598" y1="2323.8" x2="598" y2="2336.3"/><line x1="721" y1="2323.8" x2="721" y2="2336.3"/><line x1="844" y1="2323.8" x2="844" y2="2336.3"/><rect x="229" y="1655.5" width="738" height="668.3"/></g>
<g class="tx"><text x="202.5" y="2208.7" text-anchor="end">−10</text><text x="202.5" y="2030.7" text-anchor="end">0</text><text x="202.5" y="1852.8" text-anchor="end">10</text><text x="202.5" y="1674.8" text-anchor="end">20</text><text x="598" y="1633.5" text-anchor="middle">Orientation 10</text></g>
<g stroke="#3e3e3e" stroke-width="3.9" fill="none"><line x1="1134.3" y1="2275.3" x2="1146.8" y2="2275.3"/><line x1="1134.3" y1="2151.4" x2="1146.8" y2="2151.4"/><line x1="1134.3" y1="2027.4" x2="1146.8" y2="2027.4"/><line x1="1134.3" y1="1903.5" x2="1146.8" y2="1903.5"/><line x1="1134.3" y1="1779.5" x2="1146.8" y2="1779.5"/><line x1="1134.3" y1="1655.6" x2="1146.8" y2="1655.6"/><line x1="1146.8" y1="2323.8" x2="1146.8" y2="2336.3"/><line x1="1270" y1="2323.8" x2="1270" y2="2336.3"/><line x1="1393.1" y1="2323.8" x2="1393.1" y2="2336.3"/><line x1="1516.2" y1="2323.8" x2="1516.2" y2="2336.3"/><line x1="1639.4" y1="2323.8" x2="1639.4" y2="2336.3"/><line x1="1762.6" y1="2323.8" x2="1762.6" y2="2336.3"/><rect x="1146.8" y="1655.5" width="738.9" height="668.3"/></g>
<g class="tx"><text x="1120.3" y="2294.6" text-anchor="end">−30</text><text x="1120.3" y="2170.7" text-anchor="end">−20</text><text x="1120.3" y="2046.7" text-anchor="end">−10</text><text x="1120.3" y="1922.8" text-anchor="end">0</text><text x="1120.3" y="1798.8" text-anchor="end">10</text><text x="1120.3" y="1674.9" text-anchor="end">20</text><text x="1516.2" y="1633.5" text-anchor="middle">Orientation 13</text></g>
<g stroke="#3e3e3e" stroke-width="3.9" fill="none"><line x1="216.5" y1="3067.1" x2="229" y2="3067.1"/><line x1="216.5" y1="2939.1" x2="229" y2="2939.1"/><line x1="216.5" y1="2811.1" x2="229" y2="2811.1"/><line x1="216.5" y1="2683" x2="229" y2="2683"/><line x1="216.5" y1="2555" x2="229" y2="2555"/><line x1="216.5" y1="2427" x2="229" y2="2427"/><line x1="229" y1="3095" x2="229" y2="3107.5"/><line x1="352" y1="3095" x2="352" y2="3107.5"/><line x1="475" y1="3095" x2="475" y2="3107.5"/><line x1="598" y1="3095" x2="598" y2="3107.5"/><line x1="721" y1="3095" x2="721" y2="3107.5"/><line x1="844" y1="3095" x2="844" y2="3107.5"/><rect x="229" y="2427" width="738" height="668"/></g>
<g class="tx"><text x="202.5" y="3086.4" text-anchor="end">−5</text><text x="202.5" y="2958.4" text-anchor="end">0</text><text x="202.5" y="2830.4" text-anchor="end">5</text><text x="202.5" y="2702.3" text-anchor="end">10</text><text x="202.5" y="2574.3" text-anchor="end">15</text><text x="202.5" y="2446.3" text-anchor="end">20</text><text x="229" y="3160.5" text-anchor="middle">0</text><text x="352" y="3160.5" text-anchor="middle">2</text><text x="475" y="3160.5" text-anchor="middle">4</text><text x="598" y="3160.5" text-anchor="middle">6</text><text x="721" y="3160.5" text-anchor="middle">8</text><text x="844" y="3160.5" text-anchor="middle">10</text><text x="598" y="2405" text-anchor="middle">Orientation 14</text></g>
<g stroke="#3e3e3e" stroke-width="3.9" fill="none"><line x1="1134.3" y1="3094.8" x2="1146.8" y2="3094.8"/><line x1="1134.3" y1="2872.1" x2="1146.8" y2="2872.1"/><line x1="1134.3" y1="2649.5" x2="1146.8" y2="2649.5"/><line x1="1134.3" y1="2426.8" x2="1146.8" y2="2426.8"/><line x1="1146.8" y1="3095" x2="1146.8" y2="3107.5"/><line x1="1270" y1="3095" x2="1270" y2="3107.5"/><line x1="1393.1" y1="3095" x2="1393.1" y2="3107.5"/><line x1="1516.2" y1="3095" x2="1516.2" y2="3107.5"/><line x1="1639.4" y1="3095" x2="1639.4" y2="3107.5"/><line x1="1762.6" y1="3095" x2="1762.6" y2="3107.5"/><rect x="1146.8" y="2427" width="738.9" height="668"/></g>
<g class="tx"><text x="1120.3" y="3114.1" text-anchor="end">−10</text><text x="1120.3" y="2891.4" text-anchor="end">0</text><text x="1120.3" y="2668.8" text-anchor="end">10</text><text x="1120.3" y="2446.1" text-anchor="end">20</text><text x="1146.8" y="3160.5" text-anchor="middle">0</text><text x="1270" y="3160.5" text-anchor="middle">2</text><text x="1393.1" y="3160.5" text-anchor="middle">4</text><text x="1516.2" y="3160.5" text-anchor="middle">6</text><text x="1639.4" y="3160.5" text-anchor="middle">8</text><text x="1762.6" y="3160.5" text-anchor="middle">10</text><text x="1516.2" y="2405" text-anchor="middle">Orientation 23</text></g>
<rect x="616" y="107" width="332" height="232" rx="7" fill="#fff" fill-opacity="0.8" stroke="#d6d6d6" stroke-width="2.2"/>
<circle cx="669" cy="138" r="9.6" fill="none" stroke="#000" stroke-width="3.0"/>
<line x1="628" y1="193.8" x2="710" y2="193.8" stroke="#ff0000" stroke-width="4.0"/>
<line x1="628" y1="248.8" x2="710" y2="248.8" stroke="#0000ff" stroke-width="4.0"/>
<line x1="628" y1="304.2" x2="710" y2="304.2" stroke="#008000" stroke-width="4.0"/>
<g class="tx" style="font-size:37.5px"><text x="735" y="151.5" letter-spacing="1.2">B3LYP-D3</text><text x="735" y="206.5">PM6</text><text x="735" y="261.5">PM6-D3H4</text><text x="735" y="316.5">PM6-FGC</text></g>
<text class="tx" style="font-size:57px" transform="translate(107,420) rotate(-90)" text-anchor="middle"><tspan font-style="italic">E</tspan><tspan font-size="39" dy="9.5">int</tspan><tspan dy="-9.5"> / kJ/mol</tspan></text>
<text class="tx" style="font-size:57px" transform="translate(65.6,1191.1) rotate(-90)" text-anchor="middle"><tspan font-style="italic">E</tspan><tspan font-size="39" dy="9.5">int</tspan><tspan dy="-9.5"> / kJ/mol</tspan></text>
<text class="tx" style="font-size:57px" transform="translate(65.6,1989.2) rotate(-90)" text-anchor="middle"><tspan font-style="italic">E</tspan><tspan font-size="39" dy="9.5">int</tspan><tspan dy="-9.5"> / kJ/mol</tspan></text>
<text class="tx" style="font-size:57px" transform="translate(96.5,2759) rotate(-90)" text-anchor="middle"><tspan font-style="italic">E</tspan><tspan font-size="39" dy="9.5">int</tspan><tspan dy="-9.5"> / kJ/mol</tspan></text>
<text class="tx" style="font-size:55px" x="598" y="3236" text-anchor="middle"><tspan font-style="italic">r</tspan> / <tspan font-style="italic">Å</tspan></text>
<text class="tx" style="font-size:55px" x="1516.2" y="3236" text-anchor="middle"><tspan font-style="italic">r</tspan> / <tspan font-style="italic">Å</tspan></text>
</svg></body></html>
